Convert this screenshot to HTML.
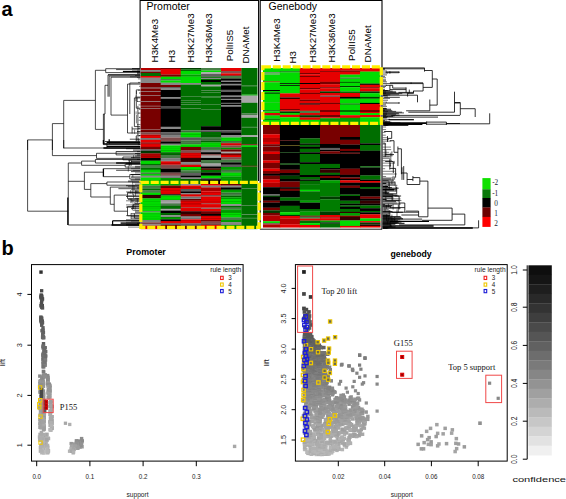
<!DOCTYPE html><html><head><meta charset="utf-8"><title>figure</title><style>html,body{margin:0;padding:0;background:#fff;}body{width:566px;height:499px;position:relative;overflow:hidden;font-family:'Liberation Sans',sans-serif;}</style></head><body><svg width="566" height="499" viewBox="0 0 566 499" style="position:absolute;left:0;top:0" font-family="'Liberation Sans', sans-serif" shape-rendering="auto">
<rect width="566" height="499" fill="#fff"/>
<rect x="140.6" y="68.0" width="20.4" height="2.15" fill="#b40000"/>
<rect x="140.6" y="70.0" width="20.4" height="1.85" fill="#888888"/>
<rect x="140.6" y="71.7" width="20.4" height="1.45" fill="#780000"/>
<rect x="140.6" y="73.0" width="20.4" height="3.15" fill="#006e00"/>
<rect x="140.6" y="76.0" width="20.4" height="1.85" fill="#e60000"/>
<rect x="140.6" y="77.7" width="20.4" height="5.45" fill="#888888"/>
<rect x="140.6" y="83.0" width="20.4" height="4.15" fill="#780000"/>
<rect x="140.6" y="87.0" width="20.4" height="1.75" fill="#855050"/>
<rect x="140.6" y="88.6" width="20.4" height="2.85" fill="#780000"/>
<rect x="140.6" y="91.3" width="20.4" height="0.65" fill="#888888"/>
<rect x="140.6" y="91.8" width="20.4" height="3.55" fill="#780000"/>
<rect x="140.6" y="95.2" width="20.4" height="0.65" fill="#888888"/>
<rect x="140.6" y="95.7" width="20.4" height="5.85" fill="#780000"/>
<rect x="140.6" y="101.4" width="20.4" height="0.65" fill="#888888"/>
<rect x="140.6" y="101.9" width="20.4" height="4.05" fill="#780000"/>
<rect x="140.6" y="105.8" width="20.4" height="0.65" fill="#888888"/>
<rect x="140.6" y="106.3" width="20.4" height="2.05" fill="#780000"/>
<rect x="140.6" y="108.2" width="20.4" height="0.65" fill="#888888"/>
<rect x="140.6" y="108.7" width="20.4" height="20.45" fill="#780000"/>
<rect x="140.6" y="129.0" width="20.4" height="0.65" fill="#888888"/>
<rect x="140.6" y="129.5" width="20.4" height="3.05" fill="#780000"/>
<rect x="140.6" y="132.4" width="20.4" height="2.45" fill="#855050"/>
<rect x="140.6" y="134.7" width="20.4" height="3.45" fill="#e60000"/>
<rect x="140.6" y="138.0" width="20.4" height="1.95" fill="#888888"/>
<rect x="140.6" y="139.8" width="20.4" height="2.95" fill="#e60000"/>
<rect x="140.6" y="142.6" width="20.4" height="1.25" fill="#780000"/>
<rect x="140.6" y="143.7" width="20.4" height="3.45" fill="#e60000"/>
<rect x="140.6" y="147.0" width="20.4" height="2.55" fill="#780000"/>
<rect x="140.6" y="149.4" width="20.4" height="1.75" fill="#606060"/>
<rect x="140.6" y="151.0" width="20.4" height="2.55" fill="#003c00"/>
<rect x="140.6" y="153.4" width="20.4" height="4.75" fill="#b40000"/>
<rect x="140.6" y="158.0" width="20.4" height="2.85" fill="#000000"/>
<rect x="140.6" y="160.7" width="20.4" height="3.45" fill="#00dc00"/>
<rect x="140.6" y="164.0" width="20.4" height="1.15" fill="#006e00"/>
<rect x="140.6" y="165.0" width="20.4" height="2.65" fill="#488048"/>
<rect x="140.6" y="167.5" width="20.4" height="2.45" fill="#006e00"/>
<rect x="140.6" y="169.8" width="20.4" height="2.95" fill="#00dc00"/>
<rect x="140.6" y="172.6" width="20.4" height="1.55" fill="#488048"/>
<rect x="140.6" y="174.0" width="20.4" height="1.85" fill="#00dc00"/>
<rect x="140.6" y="175.7" width="20.4" height="1.95" fill="#888888"/>
<rect x="140.6" y="177.5" width="20.4" height="8.25" fill="#00dc00"/>
<rect x="140.6" y="185.6" width="20.4" height="3.05" fill="#488048"/>
<rect x="140.6" y="188.5" width="20.4" height="1.95" fill="#006e00"/>
<rect x="140.6" y="190.3" width="20.4" height="2.45" fill="#488048"/>
<rect x="140.6" y="192.6" width="20.4" height="2.55" fill="#00dc00"/>
<rect x="140.6" y="195.0" width="20.4" height="3.55" fill="#340000"/>
<rect x="140.6" y="198.4" width="20.4" height="12.95" fill="#00dc00"/>
<rect x="140.6" y="211.2" width="20.4" height="1.25" fill="#488048"/>
<rect x="140.6" y="212.3" width="20.4" height="7.85" fill="#00dc00"/>
<rect x="140.6" y="220.0" width="20.4" height="2.35" fill="#888888"/>
<rect x="140.6" y="222.2" width="20.4" height="2.45" fill="#855050"/>
<rect x="140.6" y="224.5" width="20.4" height="1.35" fill="#888888"/>
<rect x="140.6" y="225.7" width="20.4" height="3.45" fill="#e60000"/>
<rect x="160.7" y="68.0" width="20.3" height="1.15" fill="#780000"/>
<rect x="160.7" y="69.0" width="20.3" height="5.65" fill="#e60000"/>
<rect x="160.7" y="74.5" width="20.3" height="2.35" fill="#780000"/>
<rect x="160.7" y="76.7" width="20.3" height="2.45" fill="#00dc00"/>
<rect x="160.7" y="79.0" width="20.3" height="1.65" fill="#488048"/>
<rect x="160.7" y="80.5" width="20.3" height="2.35" fill="#00dc00"/>
<rect x="160.7" y="82.7" width="20.3" height="2.45" fill="#888888"/>
<rect x="160.7" y="85.0" width="20.3" height="2.15" fill="#780000"/>
<rect x="160.7" y="87.0" width="20.3" height="1.75" fill="#606060"/>
<rect x="160.7" y="88.6" width="20.3" height="1.55" fill="#888888"/>
<rect x="160.7" y="90.0" width="20.3" height="7.15" fill="#000000"/>
<rect x="160.7" y="97.0" width="20.3" height="1.95" fill="#888888"/>
<rect x="160.7" y="98.8" width="20.3" height="7.35" fill="#000000"/>
<rect x="160.7" y="106.0" width="20.3" height="0.75" fill="#606060"/>
<rect x="160.7" y="106.6" width="20.3" height="1.15" fill="#000000"/>
<rect x="160.7" y="107.6" width="20.3" height="0.85" fill="#606060"/>
<rect x="160.7" y="108.3" width="20.3" height="18.65" fill="#000000"/>
<rect x="160.7" y="126.8" width="20.3" height="2.35" fill="#888888"/>
<rect x="160.7" y="129.0" width="20.3" height="3.55" fill="#000000"/>
<rect x="160.7" y="132.4" width="20.3" height="2.75" fill="#606060"/>
<rect x="160.7" y="135.0" width="20.3" height="2.65" fill="#888888"/>
<rect x="160.7" y="137.5" width="20.3" height="4.15" fill="#855050"/>
<rect x="160.7" y="141.5" width="20.3" height="2.35" fill="#000000"/>
<rect x="160.7" y="143.7" width="20.3" height="1.85" fill="#888888"/>
<rect x="160.7" y="145.4" width="20.3" height="6.95" fill="#00dc00"/>
<rect x="160.7" y="152.2" width="20.3" height="2.95" fill="#006e00"/>
<rect x="160.7" y="155.0" width="20.3" height="3.15" fill="#488048"/>
<rect x="160.7" y="158.0" width="20.3" height="3.45" fill="#888888"/>
<rect x="160.7" y="161.3" width="20.3" height="3.55" fill="#e60000"/>
<rect x="160.7" y="164.7" width="20.3" height="4.05" fill="#855050"/>
<rect x="160.7" y="168.6" width="20.3" height="4.15" fill="#000000"/>
<rect x="160.7" y="172.6" width="20.3" height="3.25" fill="#855050"/>
<rect x="160.7" y="175.7" width="20.3" height="2.45" fill="#888888"/>
<rect x="160.7" y="178.0" width="20.3" height="7.75" fill="#00a000"/>
<rect x="160.7" y="185.6" width="20.3" height="2.55" fill="#780000"/>
<rect x="160.7" y="188.0" width="20.3" height="6.45" fill="#e60000"/>
<rect x="160.7" y="194.3" width="20.3" height="1.35" fill="#000000"/>
<rect x="160.7" y="195.5" width="20.3" height="4.65" fill="#00dc00"/>
<rect x="160.7" y="200.0" width="20.3" height="3.75" fill="#a8a8a8"/>
<rect x="160.7" y="203.6" width="20.3" height="2.55" fill="#488048"/>
<rect x="160.7" y="206.0" width="20.3" height="2.95" fill="#006e00"/>
<rect x="160.7" y="208.8" width="20.3" height="1.95" fill="#a8a8a8"/>
<rect x="160.7" y="210.6" width="20.3" height="2.55" fill="#000000"/>
<rect x="160.7" y="213.0" width="20.3" height="2.35" fill="#006e00"/>
<rect x="160.7" y="215.2" width="20.3" height="1.95" fill="#888888"/>
<rect x="160.7" y="217.0" width="20.3" height="2.45" fill="#00a000"/>
<rect x="160.7" y="219.3" width="20.3" height="1.85" fill="#000000"/>
<rect x="160.7" y="221.0" width="20.3" height="2.55" fill="#e60000"/>
<rect x="160.7" y="223.4" width="20.3" height="1.75" fill="#606060"/>
<rect x="160.7" y="225.0" width="20.3" height="4.15" fill="#780000"/>
<rect x="180.7" y="68.0" width="20.6" height="1.55" fill="#003c00"/>
<rect x="180.7" y="69.4" width="20.6" height="1.75" fill="#006e00"/>
<rect x="180.7" y="71.0" width="20.6" height="3.65" fill="#00dc00"/>
<rect x="180.7" y="74.5" width="20.6" height="2.35" fill="#00a000"/>
<rect x="180.7" y="76.7" width="20.6" height="6.45" fill="#00dc00"/>
<rect x="180.7" y="83.0" width="20.6" height="1.85" fill="#888888"/>
<rect x="180.7" y="84.7" width="20.6" height="11.45" fill="#006e00"/>
<rect x="180.7" y="96.0" width="20.6" height="0.65" fill="#488048"/>
<rect x="180.7" y="96.5" width="20.6" height="3.65" fill="#006e00"/>
<rect x="180.7" y="100.0" width="20.6" height="0.65" fill="#488048"/>
<rect x="180.7" y="100.5" width="20.6" height="1.65" fill="#006e00"/>
<rect x="180.7" y="102.0" width="20.6" height="0.65" fill="#488048"/>
<rect x="180.7" y="102.5" width="20.6" height="1.95" fill="#006e00"/>
<rect x="180.7" y="104.3" width="20.6" height="0.65" fill="#488048"/>
<rect x="180.7" y="104.8" width="20.6" height="3.65" fill="#006e00"/>
<rect x="180.7" y="108.3" width="20.6" height="0.65" fill="#488048"/>
<rect x="180.7" y="108.8" width="20.6" height="21.55" fill="#006e00"/>
<rect x="180.7" y="130.2" width="20.6" height="2.35" fill="#488048"/>
<rect x="180.7" y="132.4" width="20.6" height="5.25" fill="#00dc00"/>
<rect x="180.7" y="137.5" width="20.6" height="3.05" fill="#606060"/>
<rect x="180.7" y="140.4" width="20.6" height="4.05" fill="#488048"/>
<rect x="180.7" y="144.3" width="20.6" height="2.85" fill="#00dc00"/>
<rect x="180.7" y="147.0" width="20.6" height="3.65" fill="#780000"/>
<rect x="180.7" y="150.5" width="20.6" height="2.45" fill="#855050"/>
<rect x="180.7" y="152.8" width="20.6" height="5.35" fill="#e60000"/>
<rect x="180.7" y="158.0" width="20.6" height="4.05" fill="#340000"/>
<rect x="180.7" y="161.9" width="20.6" height="2.95" fill="#888888"/>
<rect x="180.7" y="164.7" width="20.6" height="2.45" fill="#e60000"/>
<rect x="180.7" y="167.0" width="20.6" height="3.45" fill="#00dc00"/>
<rect x="180.7" y="170.3" width="20.6" height="2.85" fill="#488048"/>
<rect x="180.7" y="173.0" width="20.6" height="2.85" fill="#606060"/>
<rect x="180.7" y="175.7" width="20.6" height="1.95" fill="#000000"/>
<rect x="180.7" y="177.5" width="20.6" height="1.65" fill="#888888"/>
<rect x="180.7" y="179.0" width="20.6" height="5.15" fill="#006e00"/>
<rect x="180.7" y="184.0" width="20.6" height="1.75" fill="#888888"/>
<rect x="180.7" y="185.6" width="20.6" height="3.55" fill="#e60000"/>
<rect x="180.7" y="189.0" width="20.6" height="2.55" fill="#606060"/>
<rect x="180.7" y="191.4" width="20.6" height="1.75" fill="#000000"/>
<rect x="180.7" y="193.0" width="20.6" height="1.45" fill="#888888"/>
<rect x="180.7" y="194.3" width="20.6" height="2.45" fill="#e60000"/>
<rect x="180.7" y="196.6" width="20.6" height="2.55" fill="#888888"/>
<rect x="180.7" y="199.0" width="20.6" height="1.85" fill="#780000"/>
<rect x="180.7" y="200.7" width="20.6" height="6.45" fill="#e60000"/>
<rect x="180.7" y="207.0" width="20.6" height="0.75" fill="#855050"/>
<rect x="180.7" y="207.6" width="20.6" height="3.75" fill="#e60000"/>
<rect x="180.7" y="211.2" width="20.6" height="2.95" fill="#340000"/>
<rect x="180.7" y="214.0" width="20.6" height="2.55" fill="#780000"/>
<rect x="180.7" y="216.4" width="20.6" height="3.05" fill="#888888"/>
<rect x="180.7" y="219.3" width="20.6" height="4.25" fill="#e60000"/>
<rect x="180.7" y="223.4" width="20.6" height="2.45" fill="#606060"/>
<rect x="180.7" y="225.7" width="20.6" height="3.45" fill="#780000"/>
<rect x="201.0" y="68.0" width="20.3" height="2.65" fill="#488048"/>
<rect x="201.0" y="70.5" width="20.3" height="1.85" fill="#00dc00"/>
<rect x="201.0" y="72.2" width="20.3" height="1.95" fill="#a8a8a8"/>
<rect x="201.0" y="74.0" width="20.3" height="2.85" fill="#606060"/>
<rect x="201.0" y="76.7" width="20.3" height="1.25" fill="#006e00"/>
<rect x="201.0" y="77.8" width="20.3" height="1.35" fill="#888888"/>
<rect x="201.0" y="79.0" width="20.3" height="1.15" fill="#006e00"/>
<rect x="201.0" y="80.0" width="20.3" height="2.15" fill="#000000"/>
<rect x="201.0" y="82.0" width="20.3" height="2.85" fill="#006e00"/>
<rect x="201.0" y="84.7" width="20.3" height="1.85" fill="#a8a8a8"/>
<rect x="201.0" y="86.4" width="20.3" height="4.15" fill="#006e00"/>
<rect x="201.0" y="90.4" width="20.3" height="0.65" fill="#488048"/>
<rect x="201.0" y="90.9" width="20.3" height="1.35" fill="#006e00"/>
<rect x="201.0" y="92.1" width="20.3" height="0.65" fill="#488048"/>
<rect x="201.0" y="92.6" width="20.3" height="4.15" fill="#006e00"/>
<rect x="201.0" y="96.6" width="20.3" height="0.95" fill="#488048"/>
<rect x="201.0" y="97.4" width="20.3" height="6.75" fill="#006e00"/>
<rect x="201.0" y="104.0" width="20.3" height="0.65" fill="#488048"/>
<rect x="201.0" y="104.5" width="20.3" height="4.65" fill="#006e00"/>
<rect x="201.0" y="109.0" width="20.3" height="0.65" fill="#488048"/>
<rect x="201.0" y="109.5" width="20.3" height="16.85" fill="#006e00"/>
<rect x="201.0" y="126.2" width="20.3" height="4.15" fill="#000000"/>
<rect x="201.0" y="130.2" width="20.3" height="1.95" fill="#606060"/>
<rect x="201.0" y="132.0" width="20.3" height="5.65" fill="#006e00"/>
<rect x="201.0" y="137.5" width="20.3" height="3.65" fill="#488048"/>
<rect x="201.0" y="141.0" width="20.3" height="1.75" fill="#006e00"/>
<rect x="201.0" y="142.6" width="20.3" height="4.55" fill="#00dc00"/>
<rect x="201.0" y="147.0" width="20.3" height="3.15" fill="#488048"/>
<rect x="201.0" y="150.0" width="20.3" height="2.35" fill="#888888"/>
<rect x="201.0" y="152.2" width="20.3" height="1.95" fill="#000000"/>
<rect x="201.0" y="154.0" width="20.3" height="1.75" fill="#855050"/>
<rect x="201.0" y="155.6" width="20.3" height="2.55" fill="#a8a8a8"/>
<rect x="201.0" y="158.0" width="20.3" height="2.15" fill="#000000"/>
<rect x="201.0" y="160.0" width="20.3" height="3.65" fill="#488048"/>
<rect x="201.0" y="163.5" width="20.3" height="3.05" fill="#a8a8a8"/>
<rect x="201.0" y="166.4" width="20.3" height="2.35" fill="#000000"/>
<rect x="201.0" y="168.6" width="20.3" height="1.35" fill="#780000"/>
<rect x="201.0" y="169.8" width="20.3" height="2.95" fill="#006e00"/>
<rect x="201.0" y="172.6" width="20.3" height="3.25" fill="#000000"/>
<rect x="201.0" y="175.7" width="20.3" height="2.45" fill="#00dc00"/>
<rect x="201.0" y="178.0" width="20.3" height="1.35" fill="#488048"/>
<rect x="201.0" y="179.2" width="20.3" height="4.95" fill="#000000"/>
<rect x="201.0" y="184.0" width="20.3" height="1.75" fill="#e60000"/>
<rect x="201.0" y="185.6" width="20.3" height="1.95" fill="#888888"/>
<rect x="201.0" y="187.4" width="20.3" height="4.15" fill="#b40000"/>
<rect x="201.0" y="191.4" width="20.3" height="3.75" fill="#e60000"/>
<rect x="201.0" y="195.0" width="20.3" height="1.75" fill="#855050"/>
<rect x="201.0" y="196.6" width="20.3" height="7.05" fill="#e60000"/>
<rect x="201.0" y="203.5" width="20.3" height="0.75" fill="#855050"/>
<rect x="201.0" y="204.1" width="20.3" height="3.75" fill="#e60000"/>
<rect x="201.0" y="207.7" width="20.3" height="1.25" fill="#888888"/>
<rect x="201.0" y="208.8" width="20.3" height="2.55" fill="#e60000"/>
<rect x="201.0" y="211.2" width="20.3" height="2.95" fill="#780000"/>
<rect x="201.0" y="214.0" width="20.3" height="1.95" fill="#000000"/>
<rect x="201.0" y="215.8" width="20.3" height="4.35" fill="#e60000"/>
<rect x="201.0" y="220.0" width="20.3" height="1.75" fill="#780000"/>
<rect x="201.0" y="221.6" width="20.3" height="3.55" fill="#855050"/>
<rect x="201.0" y="225.0" width="20.3" height="4.15" fill="#e60000"/>
<rect x="221.0" y="68.0" width="20.7" height="3.15" fill="#e60000"/>
<rect x="221.0" y="71.0" width="20.7" height="2.55" fill="#855050"/>
<rect x="221.0" y="73.4" width="20.7" height="2.05" fill="#e60000"/>
<rect x="221.0" y="75.3" width="20.7" height="0.85" fill="#780000"/>
<rect x="221.0" y="76.0" width="20.7" height="2.65" fill="#488048"/>
<rect x="221.0" y="78.5" width="20.7" height="2.35" fill="#000000"/>
<rect x="221.0" y="80.7" width="20.7" height="1.45" fill="#888888"/>
<rect x="221.0" y="82.0" width="20.7" height="1.95" fill="#000000"/>
<rect x="221.0" y="83.8" width="20.7" height="1.65" fill="#888888"/>
<rect x="221.0" y="85.3" width="20.7" height="4.65" fill="#000000"/>
<rect x="221.0" y="89.8" width="20.7" height="2.35" fill="#606060"/>
<rect x="221.0" y="92.0" width="20.7" height="3.75" fill="#000000"/>
<rect x="221.0" y="95.6" width="20.7" height="1.65" fill="#888888"/>
<rect x="221.0" y="97.1" width="20.7" height="1.85" fill="#000000"/>
<rect x="221.0" y="98.8" width="20.7" height="1.35" fill="#888888"/>
<rect x="221.0" y="100.0" width="20.7" height="2.95" fill="#000000"/>
<rect x="221.0" y="102.8" width="20.7" height="1.35" fill="#606060"/>
<rect x="221.0" y="104.0" width="20.7" height="1.15" fill="#000000"/>
<rect x="221.0" y="105.0" width="20.7" height="1.85" fill="#888888"/>
<rect x="221.0" y="106.7" width="20.7" height="23.65" fill="#000000"/>
<rect x="221.0" y="130.2" width="20.7" height="2.35" fill="#606060"/>
<rect x="221.0" y="132.4" width="20.7" height="3.05" fill="#000000"/>
<rect x="221.0" y="135.3" width="20.7" height="2.35" fill="#888888"/>
<rect x="221.0" y="137.5" width="20.7" height="3.65" fill="#00dc00"/>
<rect x="221.0" y="141.0" width="20.7" height="2.35" fill="#488048"/>
<rect x="221.0" y="143.2" width="20.7" height="2.45" fill="#e60000"/>
<rect x="221.0" y="145.5" width="20.7" height="2.35" fill="#855050"/>
<rect x="221.0" y="147.7" width="20.7" height="1.85" fill="#00a000"/>
<rect x="221.0" y="149.4" width="20.7" height="2.45" fill="#780000"/>
<rect x="221.0" y="151.7" width="20.7" height="1.85" fill="#a8a8a8"/>
<rect x="221.0" y="153.4" width="20.7" height="1.75" fill="#780000"/>
<rect x="221.0" y="155.0" width="20.7" height="2.45" fill="#e60000"/>
<rect x="221.0" y="157.3" width="20.7" height="2.45" fill="#855050"/>
<rect x="221.0" y="159.6" width="20.7" height="2.95" fill="#488048"/>
<rect x="221.0" y="162.4" width="20.7" height="2.45" fill="#000000"/>
<rect x="221.0" y="164.7" width="20.7" height="2.45" fill="#606060"/>
<rect x="221.0" y="167.0" width="20.7" height="2.95" fill="#00a000"/>
<rect x="221.0" y="169.8" width="20.7" height="2.95" fill="#488048"/>
<rect x="221.0" y="172.6" width="20.7" height="3.85" fill="#00dc00"/>
<rect x="221.0" y="176.3" width="20.7" height="7.85" fill="#00a000"/>
<rect x="221.0" y="184.0" width="20.7" height="1.75" fill="#780000"/>
<rect x="221.0" y="185.6" width="20.7" height="1.95" fill="#888888"/>
<rect x="221.0" y="187.4" width="20.7" height="2.45" fill="#000000"/>
<rect x="221.0" y="189.7" width="20.7" height="3.05" fill="#00a000"/>
<rect x="221.0" y="192.6" width="20.7" height="3.05" fill="#488048"/>
<rect x="221.0" y="195.5" width="20.7" height="1.85" fill="#006e00"/>
<rect x="221.0" y="197.2" width="20.7" height="1.95" fill="#00a000"/>
<rect x="221.0" y="199.0" width="20.7" height="5.35" fill="#00dc00"/>
<rect x="221.0" y="204.2" width="20.7" height="1.95" fill="#888888"/>
<rect x="221.0" y="206.0" width="20.7" height="1.85" fill="#006e00"/>
<rect x="221.0" y="207.7" width="20.7" height="1.85" fill="#488048"/>
<rect x="221.0" y="209.4" width="20.7" height="3.75" fill="#00a000"/>
<rect x="221.0" y="213.0" width="20.7" height="4.65" fill="#00dc00"/>
<rect x="221.0" y="217.5" width="20.7" height="2.65" fill="#488048"/>
<rect x="221.0" y="220.0" width="20.7" height="2.35" fill="#00a000"/>
<rect x="221.0" y="222.2" width="20.7" height="2.95" fill="#888888"/>
<rect x="221.0" y="225.0" width="20.7" height="4.15" fill="#00a000"/>
<rect x="241.4" y="68.0" width="16.1" height="17.75" fill="#006e00"/>
<rect x="241.4" y="85.6" width="16.1" height="0.75" fill="#488048"/>
<rect x="241.4" y="86.2" width="16.1" height="8.25" fill="#006e00"/>
<rect x="241.4" y="94.3" width="16.1" height="1.45" fill="#00a000"/>
<rect x="241.4" y="95.6" width="16.1" height="7.35" fill="#a8a8a8"/>
<rect x="241.4" y="102.8" width="16.1" height="10.55" fill="#006e00"/>
<rect x="241.4" y="113.2" width="16.1" height="1.95" fill="#488048"/>
<rect x="241.4" y="115.0" width="16.1" height="2.95" fill="#a8a8a8"/>
<rect x="241.4" y="117.8" width="16.1" height="9.15" fill="#006e00"/>
<rect x="241.4" y="126.8" width="16.1" height="0.85" fill="#488048"/>
<rect x="241.4" y="127.5" width="16.1" height="7.95" fill="#006e00"/>
<rect x="241.4" y="135.3" width="16.1" height="1.85" fill="#a8a8a8"/>
<rect x="241.4" y="137.0" width="16.1" height="7.45" fill="#006e00"/>
<rect x="241.4" y="144.3" width="16.1" height="0.85" fill="#780000"/>
<rect x="241.4" y="145.0" width="16.1" height="0.65" fill="#006e00"/>
<rect x="241.4" y="145.5" width="16.1" height="1.65" fill="#00dc00"/>
<rect x="241.4" y="147.0" width="16.1" height="18.95" fill="#006e00"/>
<rect x="241.4" y="165.8" width="16.1" height="0.85" fill="#780000"/>
<rect x="241.4" y="166.5" width="16.1" height="21.95" fill="#006e00"/>
<rect x="241.4" y="188.3" width="16.1" height="0.65" fill="#488048"/>
<rect x="241.4" y="188.8" width="16.1" height="16.55" fill="#006e00"/>
<rect x="241.4" y="205.2" width="16.1" height="0.75" fill="#488048"/>
<rect x="241.4" y="205.8" width="16.1" height="8.75" fill="#006e00"/>
<rect x="241.4" y="214.4" width="16.1" height="0.75" fill="#488048"/>
<rect x="241.4" y="215.0" width="16.1" height="2.95" fill="#006e00"/>
<rect x="241.4" y="217.8" width="16.1" height="0.65" fill="#488048"/>
<rect x="241.4" y="218.3" width="16.1" height="10.85" fill="#006e00"/>
<rect x="263.0" y="68.0" width="17.2" height="4.15" fill="#00dc00"/>
<rect x="263.0" y="72.0" width="17.2" height="0.95" fill="#888888"/>
<rect x="263.0" y="72.8" width="17.2" height="0.95" fill="#00dc00"/>
<rect x="263.0" y="73.6" width="17.2" height="1.05" fill="#888888"/>
<rect x="263.0" y="74.5" width="17.2" height="6.85" fill="#00dc00"/>
<rect x="263.0" y="81.2" width="17.2" height="1.25" fill="#6a5a00"/>
<rect x="263.0" y="82.3" width="17.2" height="7.85" fill="#00dc00"/>
<rect x="263.0" y="90.0" width="17.2" height="1.15" fill="#000000"/>
<rect x="263.0" y="91.0" width="17.2" height="1.35" fill="#00dc00"/>
<rect x="263.0" y="92.2" width="17.2" height="1.95" fill="#006e00"/>
<rect x="263.0" y="94.0" width="17.2" height="8.15" fill="#00dc00"/>
<rect x="263.0" y="102.0" width="17.2" height="0.65" fill="#00a000"/>
<rect x="263.0" y="102.5" width="17.2" height="7.85" fill="#00dc00"/>
<rect x="263.0" y="110.2" width="17.2" height="1.35" fill="#006e00"/>
<rect x="263.0" y="111.4" width="17.2" height="1.75" fill="#00dc00"/>
<rect x="263.0" y="113.0" width="17.2" height="1.95" fill="#e60000"/>
<rect x="263.0" y="114.8" width="17.2" height="0.85" fill="#780000"/>
<rect x="263.0" y="115.5" width="17.2" height="3.25" fill="#00dc00"/>
<rect x="263.0" y="118.6" width="17.2" height="1.35" fill="#006e00"/>
<rect x="263.0" y="119.8" width="17.2" height="5.35" fill="#00dc00"/>
<rect x="263.0" y="125.0" width="17.2" height="9.45" fill="#780000"/>
<rect x="263.0" y="134.3" width="17.2" height="3.65" fill="#e60000"/>
<rect x="263.0" y="137.8" width="17.2" height="4.25" fill="#b40000"/>
<rect x="263.0" y="141.9" width="17.2" height="2.45" fill="#e60000"/>
<rect x="263.0" y="144.2" width="17.2" height="1.95" fill="#780000"/>
<rect x="263.0" y="146.0" width="17.2" height="0.95" fill="#855050"/>
<rect x="263.0" y="146.8" width="17.2" height="5.05" fill="#780000"/>
<rect x="263.0" y="151.7" width="17.2" height="2.45" fill="#e60000"/>
<rect x="263.0" y="154.0" width="17.2" height="6.65" fill="#780000"/>
<rect x="263.0" y="160.5" width="17.2" height="2.45" fill="#e60000"/>
<rect x="263.0" y="162.8" width="17.2" height="5.95" fill="#780000"/>
<rect x="263.0" y="168.6" width="17.2" height="2.55" fill="#e60000"/>
<rect x="263.0" y="171.0" width="17.2" height="2.95" fill="#780000"/>
<rect x="263.0" y="173.8" width="17.2" height="2.05" fill="#000000"/>
<rect x="263.0" y="175.7" width="17.2" height="3.95" fill="#780000"/>
<rect x="263.0" y="179.5" width="17.2" height="3.35" fill="#e60000"/>
<rect x="263.0" y="182.7" width="17.2" height="4.65" fill="#b40000"/>
<rect x="263.0" y="187.2" width="17.2" height="7.25" fill="#000000"/>
<rect x="263.0" y="194.3" width="17.2" height="1.45" fill="#606060"/>
<rect x="263.0" y="195.6" width="17.2" height="1.55" fill="#003c00"/>
<rect x="263.0" y="197.0" width="17.2" height="3.85" fill="#000000"/>
<rect x="263.0" y="200.7" width="17.2" height="2.05" fill="#780000"/>
<rect x="263.0" y="202.6" width="17.2" height="5.25" fill="#000000"/>
<rect x="263.0" y="207.7" width="17.2" height="2.75" fill="#780000"/>
<rect x="263.0" y="210.3" width="17.2" height="2.75" fill="#003c00"/>
<rect x="263.0" y="212.9" width="17.2" height="2.65" fill="#780000"/>
<rect x="263.0" y="215.4" width="17.2" height="5.95" fill="#b40000"/>
<rect x="263.0" y="221.2" width="17.2" height="2.05" fill="#00dc00"/>
<rect x="263.0" y="223.1" width="17.2" height="1.45" fill="#855050"/>
<rect x="263.0" y="224.4" width="17.2" height="3.15" fill="#b40000"/>
<rect x="279.9" y="68.0" width="20.2" height="3.45" fill="#00dc00"/>
<rect x="279.9" y="71.3" width="20.2" height="1.25" fill="#006e00"/>
<rect x="279.9" y="72.4" width="20.2" height="10.75" fill="#00dc00"/>
<rect x="279.9" y="83.0" width="20.2" height="0.95" fill="#000000"/>
<rect x="279.9" y="83.8" width="20.2" height="1.35" fill="#00dc00"/>
<rect x="279.9" y="85.0" width="20.2" height="0.95" fill="#000000"/>
<rect x="279.9" y="85.8" width="20.2" height="7.75" fill="#00dc00"/>
<rect x="279.9" y="93.4" width="20.2" height="4.15" fill="#e60000"/>
<rect x="279.9" y="97.4" width="20.2" height="1.75" fill="#340000"/>
<rect x="279.9" y="99.0" width="20.2" height="10.15" fill="#e60000"/>
<rect x="279.9" y="109.0" width="20.2" height="1.35" fill="#780000"/>
<rect x="279.9" y="110.2" width="20.2" height="1.35" fill="#e60000"/>
<rect x="279.9" y="111.4" width="20.2" height="1.75" fill="#003c00"/>
<rect x="279.9" y="113.0" width="20.2" height="1.95" fill="#00dc00"/>
<rect x="279.9" y="114.8" width="20.2" height="2.65" fill="#e60000"/>
<rect x="279.9" y="117.3" width="20.2" height="7.85" fill="#00dc00"/>
<rect x="279.9" y="125.0" width="20.2" height="15.15" fill="#000000"/>
<rect x="279.9" y="140.0" width="20.2" height="0.75" fill="#780000"/>
<rect x="279.9" y="140.6" width="20.2" height="4.75" fill="#000000"/>
<rect x="279.9" y="145.2" width="20.2" height="0.75" fill="#6a5a00"/>
<rect x="279.9" y="145.8" width="20.2" height="6.65" fill="#000000"/>
<rect x="279.9" y="152.3" width="20.2" height="0.75" fill="#003c00"/>
<rect x="279.9" y="152.9" width="20.2" height="10.85" fill="#000000"/>
<rect x="279.9" y="163.6" width="20.2" height="1.15" fill="#006e00"/>
<rect x="279.9" y="164.6" width="20.2" height="5.25" fill="#000000"/>
<rect x="279.9" y="169.7" width="20.2" height="3.45" fill="#780000"/>
<rect x="279.9" y="173.0" width="20.2" height="2.85" fill="#000000"/>
<rect x="279.9" y="175.7" width="20.2" height="3.45" fill="#003c00"/>
<rect x="279.9" y="179.0" width="20.2" height="2.65" fill="#000000"/>
<rect x="279.9" y="181.5" width="20.2" height="5.85" fill="#780000"/>
<rect x="279.9" y="187.2" width="20.2" height="1.75" fill="#000000"/>
<rect x="279.9" y="188.8" width="20.2" height="2.15" fill="#780000"/>
<rect x="279.9" y="190.8" width="20.2" height="6.85" fill="#000000"/>
<rect x="279.9" y="197.5" width="20.2" height="3.35" fill="#006e00"/>
<rect x="279.9" y="200.7" width="20.2" height="5.25" fill="#000000"/>
<rect x="279.9" y="205.8" width="20.2" height="6.55" fill="#006e00"/>
<rect x="279.9" y="212.2" width="20.2" height="2.75" fill="#00dc00"/>
<rect x="279.9" y="214.8" width="20.2" height="1.35" fill="#003c00"/>
<rect x="279.9" y="216.0" width="20.2" height="2.75" fill="#e60000"/>
<rect x="279.9" y="218.6" width="20.2" height="5.95" fill="#b40000"/>
<rect x="279.9" y="224.4" width="20.2" height="3.15" fill="#e60000"/>
<rect x="299.8" y="68.0" width="20.5" height="5.15" fill="#e60000"/>
<rect x="299.8" y="73.0" width="20.5" height="1.35" fill="#780000"/>
<rect x="299.8" y="74.2" width="20.5" height="1.95" fill="#e60000"/>
<rect x="299.8" y="76.0" width="20.5" height="1.15" fill="#780000"/>
<rect x="299.8" y="77.0" width="20.5" height="6.15" fill="#e60000"/>
<rect x="299.8" y="83.0" width="20.5" height="1.15" fill="#000000"/>
<rect x="299.8" y="84.0" width="20.5" height="4.15" fill="#e60000"/>
<rect x="299.8" y="88.0" width="20.5" height="1.45" fill="#780000"/>
<rect x="299.8" y="89.3" width="20.5" height="3.65" fill="#e60000"/>
<rect x="299.8" y="92.8" width="20.5" height="1.35" fill="#780000"/>
<rect x="299.8" y="94.0" width="20.5" height="5.85" fill="#e60000"/>
<rect x="299.8" y="99.7" width="20.5" height="1.45" fill="#780000"/>
<rect x="299.8" y="101.0" width="20.5" height="2.35" fill="#e60000"/>
<rect x="299.8" y="103.2" width="20.5" height="1.65" fill="#340000"/>
<rect x="299.8" y="104.7" width="20.5" height="6.25" fill="#e60000"/>
<rect x="299.8" y="110.8" width="20.5" height="2.35" fill="#488048"/>
<rect x="299.8" y="113.0" width="20.5" height="1.95" fill="#e60000"/>
<rect x="299.8" y="114.8" width="20.5" height="0.55" fill="#780000"/>
<rect x="299.8" y="115.2" width="20.5" height="2.45" fill="#003c00"/>
<rect x="299.8" y="117.5" width="20.5" height="2.45" fill="#e60000"/>
<rect x="299.8" y="119.8" width="20.5" height="5.35" fill="#00dc00"/>
<rect x="299.8" y="125.0" width="20.5" height="13.55" fill="#000000"/>
<rect x="299.8" y="138.4" width="20.5" height="5.35" fill="#006e00"/>
<rect x="299.8" y="143.6" width="20.5" height="1.35" fill="#000000"/>
<rect x="299.8" y="144.8" width="20.5" height="2.15" fill="#006e00"/>
<rect x="299.8" y="146.8" width="20.5" height="2.15" fill="#000000"/>
<rect x="299.8" y="148.8" width="20.5" height="3.65" fill="#006e00"/>
<rect x="299.8" y="152.3" width="20.5" height="1.85" fill="#000000"/>
<rect x="299.8" y="154.0" width="20.5" height="8.35" fill="#006e00"/>
<rect x="299.8" y="162.2" width="20.5" height="1.95" fill="#000000"/>
<rect x="299.8" y="164.0" width="20.5" height="11.15" fill="#006e00"/>
<rect x="299.8" y="175.0" width="20.5" height="2.15" fill="#000000"/>
<rect x="299.8" y="177.0" width="20.5" height="2.65" fill="#006e00"/>
<rect x="299.8" y="179.5" width="20.5" height="1.45" fill="#000000"/>
<rect x="299.8" y="180.8" width="20.5" height="4.05" fill="#006e00"/>
<rect x="299.8" y="184.7" width="20.5" height="5.25" fill="#007c00"/>
<rect x="299.8" y="189.8" width="20.5" height="1.65" fill="#00dc00"/>
<rect x="299.8" y="191.3" width="20.5" height="9.55" fill="#006e00"/>
<rect x="299.8" y="200.7" width="20.5" height="2.05" fill="#00a000"/>
<rect x="299.8" y="202.6" width="20.5" height="6.55" fill="#000000"/>
<rect x="299.8" y="209.0" width="20.5" height="2.75" fill="#006e00"/>
<rect x="299.8" y="211.6" width="20.5" height="4.25" fill="#00a000"/>
<rect x="299.8" y="215.7" width="20.5" height="1.15" fill="#780000"/>
<rect x="299.8" y="216.7" width="20.5" height="2.05" fill="#488048"/>
<rect x="299.8" y="218.6" width="20.5" height="2.15" fill="#e60000"/>
<rect x="299.8" y="220.6" width="20.5" height="2.65" fill="#006e00"/>
<rect x="299.8" y="223.1" width="20.5" height="2.05" fill="#00dc00"/>
<rect x="299.8" y="225.0" width="20.5" height="2.55" fill="#e60000"/>
<rect x="320.0" y="68.0" width="20.3" height="3.15" fill="#e60000"/>
<rect x="320.0" y="71.0" width="20.3" height="0.95" fill="#780000"/>
<rect x="320.0" y="71.8" width="20.3" height="10.15" fill="#e60000"/>
<rect x="320.0" y="81.8" width="20.3" height="2.55" fill="#780000"/>
<rect x="320.0" y="84.2" width="20.3" height="3.15" fill="#e60000"/>
<rect x="320.0" y="87.2" width="20.3" height="1.15" fill="#780000"/>
<rect x="320.0" y="88.2" width="20.3" height="3.35" fill="#e60000"/>
<rect x="320.0" y="91.4" width="20.3" height="1.75" fill="#003c00"/>
<rect x="320.0" y="93.0" width="20.3" height="2.75" fill="#e60000"/>
<rect x="320.0" y="95.6" width="20.3" height="1.55" fill="#855050"/>
<rect x="320.0" y="97.0" width="20.3" height="5.95" fill="#e60000"/>
<rect x="320.0" y="102.8" width="20.3" height="1.35" fill="#780000"/>
<rect x="320.0" y="104.0" width="20.3" height="6.15" fill="#e60000"/>
<rect x="320.0" y="110.0" width="20.3" height="2.15" fill="#780000"/>
<rect x="320.0" y="112.0" width="20.3" height="3.15" fill="#e60000"/>
<rect x="320.0" y="115.0" width="20.3" height="2.45" fill="#780000"/>
<rect x="320.0" y="117.3" width="20.3" height="1.05" fill="#e60000"/>
<rect x="320.0" y="118.2" width="20.3" height="6.95" fill="#00a000"/>
<rect x="320.0" y="125.0" width="20.3" height="19.15" fill="#780000"/>
<rect x="320.0" y="144.0" width="20.3" height="4.05" fill="#000000"/>
<rect x="320.0" y="147.9" width="20.3" height="2.25" fill="#606060"/>
<rect x="320.0" y="150.0" width="20.3" height="1.45" fill="#000000"/>
<rect x="320.0" y="151.3" width="20.3" height="2.55" fill="#780000"/>
<rect x="320.0" y="153.7" width="20.3" height="10.35" fill="#000000"/>
<rect x="320.0" y="163.9" width="20.3" height="4.25" fill="#006e00"/>
<rect x="320.0" y="168.0" width="20.3" height="1.55" fill="#000000"/>
<rect x="320.0" y="169.4" width="20.3" height="3.55" fill="#340000"/>
<rect x="320.0" y="172.8" width="20.3" height="2.15" fill="#006e00"/>
<rect x="320.0" y="174.8" width="20.3" height="1.35" fill="#000000"/>
<rect x="320.0" y="176.0" width="20.3" height="2.15" fill="#780000"/>
<rect x="320.0" y="178.0" width="20.3" height="2.45" fill="#000000"/>
<rect x="320.0" y="180.3" width="20.3" height="2.85" fill="#00a000"/>
<rect x="320.0" y="183.0" width="20.3" height="13.75" fill="#007c00"/>
<rect x="320.0" y="196.6" width="20.3" height="2.85" fill="#003c00"/>
<rect x="320.0" y="199.3" width="20.3" height="12.45" fill="#007c00"/>
<rect x="320.0" y="211.6" width="20.3" height="3.55" fill="#003c00"/>
<rect x="320.0" y="215.0" width="20.3" height="2.65" fill="#e60000"/>
<rect x="320.0" y="217.5" width="20.3" height="0.85" fill="#780000"/>
<rect x="320.0" y="218.2" width="20.3" height="2.45" fill="#e60000"/>
<rect x="320.0" y="220.5" width="20.3" height="2.15" fill="#00a000"/>
<rect x="320.0" y="222.5" width="20.3" height="1.25" fill="#000000"/>
<rect x="320.0" y="223.6" width="20.3" height="3.95" fill="#006e00"/>
<rect x="340.0" y="68.0" width="20.3" height="2.75" fill="#e60000"/>
<rect x="340.0" y="70.6" width="20.3" height="1.35" fill="#780000"/>
<rect x="340.0" y="71.8" width="20.3" height="2.95" fill="#e60000"/>
<rect x="340.0" y="74.6" width="20.3" height="3.15" fill="#00dc00"/>
<rect x="340.0" y="77.6" width="20.3" height="1.35" fill="#488048"/>
<rect x="340.0" y="78.8" width="20.3" height="3.15" fill="#00dc00"/>
<rect x="340.0" y="81.8" width="20.3" height="1.35" fill="#006e00"/>
<rect x="340.0" y="83.0" width="20.3" height="3.15" fill="#00dc00"/>
<rect x="340.0" y="86.0" width="20.3" height="1.35" fill="#003c00"/>
<rect x="340.0" y="87.2" width="20.3" height="4.35" fill="#00dc00"/>
<rect x="340.0" y="91.4" width="20.3" height="1.75" fill="#006e00"/>
<rect x="340.0" y="93.0" width="20.3" height="4.05" fill="#e60000"/>
<rect x="340.0" y="96.9" width="20.3" height="1.95" fill="#000000"/>
<rect x="340.0" y="98.7" width="20.3" height="4.95" fill="#00dc00"/>
<rect x="340.0" y="103.5" width="20.3" height="1.35" fill="#006e00"/>
<rect x="340.0" y="104.7" width="20.3" height="5.45" fill="#00dc00"/>
<rect x="340.0" y="110.0" width="20.3" height="2.15" fill="#006e00"/>
<rect x="340.0" y="112.0" width="20.3" height="3.35" fill="#00dc00"/>
<rect x="340.0" y="115.2" width="20.3" height="2.75" fill="#e60000"/>
<rect x="340.0" y="117.8" width="20.3" height="7.35" fill="#00a000"/>
<rect x="340.0" y="125.0" width="20.3" height="12.15" fill="#780000"/>
<rect x="340.0" y="137.0" width="20.3" height="2.95" fill="#000000"/>
<rect x="340.0" y="139.8" width="20.3" height="4.95" fill="#780000"/>
<rect x="340.0" y="144.6" width="20.3" height="4.45" fill="#000000"/>
<rect x="340.0" y="148.9" width="20.3" height="2.25" fill="#780000"/>
<rect x="340.0" y="151.0" width="20.3" height="1.85" fill="#000000"/>
<rect x="340.0" y="152.7" width="20.3" height="1.15" fill="#780000"/>
<rect x="340.0" y="153.7" width="20.3" height="15.15" fill="#000000"/>
<rect x="340.0" y="168.7" width="20.3" height="6.25" fill="#780000"/>
<rect x="340.0" y="174.8" width="20.3" height="2.85" fill="#000000"/>
<rect x="340.0" y="177.5" width="20.3" height="1.65" fill="#780000"/>
<rect x="340.0" y="179.0" width="20.3" height="1.45" fill="#000000"/>
<rect x="340.0" y="180.3" width="20.3" height="2.55" fill="#e60000"/>
<rect x="340.0" y="182.7" width="20.3" height="3.15" fill="#000000"/>
<rect x="340.0" y="185.7" width="20.3" height="2.25" fill="#780000"/>
<rect x="340.0" y="187.8" width="20.3" height="6.95" fill="#000000"/>
<rect x="340.0" y="194.6" width="20.3" height="1.55" fill="#006e00"/>
<rect x="340.0" y="196.0" width="20.3" height="4.85" fill="#000000"/>
<rect x="340.0" y="200.7" width="20.3" height="3.15" fill="#006e00"/>
<rect x="340.0" y="203.7" width="20.3" height="1.95" fill="#000000"/>
<rect x="340.0" y="205.5" width="20.3" height="1.45" fill="#006e00"/>
<rect x="340.0" y="206.8" width="20.3" height="2.25" fill="#000000"/>
<rect x="340.0" y="208.9" width="20.3" height="3.15" fill="#006e00"/>
<rect x="340.0" y="211.9" width="20.3" height="1.25" fill="#340000"/>
<rect x="340.0" y="213.0" width="20.3" height="2.85" fill="#00a000"/>
<rect x="340.0" y="215.7" width="20.3" height="1.45" fill="#780000"/>
<rect x="340.0" y="217.0" width="20.3" height="3.65" fill="#340000"/>
<rect x="340.0" y="220.5" width="20.3" height="5.55" fill="#00dc00"/>
<rect x="340.0" y="225.9" width="20.3" height="1.65" fill="#e60000"/>
<rect x="360.0" y="68.0" width="20.5" height="3.75" fill="#e60000"/>
<rect x="360.0" y="71.6" width="20.5" height="12.15" fill="#00dc00"/>
<rect x="360.0" y="83.6" width="20.5" height="1.35" fill="#000000"/>
<rect x="360.0" y="84.8" width="20.5" height="2.55" fill="#e60000"/>
<rect x="360.0" y="87.2" width="20.5" height="1.15" fill="#780000"/>
<rect x="360.0" y="88.2" width="20.5" height="3.35" fill="#e60000"/>
<rect x="360.0" y="91.4" width="20.5" height="1.95" fill="#003c00"/>
<rect x="360.0" y="93.2" width="20.5" height="3.85" fill="#00dc00"/>
<rect x="360.0" y="96.9" width="20.5" height="1.95" fill="#003c00"/>
<rect x="360.0" y="98.7" width="20.5" height="4.35" fill="#00dc00"/>
<rect x="360.0" y="102.9" width="20.5" height="1.25" fill="#000000"/>
<rect x="360.0" y="104.0" width="20.5" height="6.15" fill="#e60000"/>
<rect x="360.0" y="110.0" width="20.5" height="2.15" fill="#780000"/>
<rect x="360.0" y="112.0" width="20.5" height="1.15" fill="#e60000"/>
<rect x="360.0" y="113.0" width="20.5" height="2.15" fill="#00dc00"/>
<rect x="360.0" y="115.0" width="20.5" height="2.45" fill="#e60000"/>
<rect x="360.0" y="117.3" width="20.5" height="7.85" fill="#00dc00"/>
<rect x="360.0" y="125.0" width="20.5" height="18.55" fill="#006e00"/>
<rect x="360.0" y="143.4" width="20.5" height="1.75" fill="#000000"/>
<rect x="360.0" y="145.0" width="20.5" height="5.85" fill="#006e00"/>
<rect x="360.0" y="150.7" width="20.5" height="15.75" fill="#000000"/>
<rect x="360.0" y="166.3" width="20.5" height="1.35" fill="#006e00"/>
<rect x="360.0" y="167.5" width="20.5" height="8.15" fill="#000000"/>
<rect x="360.0" y="175.5" width="20.5" height="4.25" fill="#006e00"/>
<rect x="360.0" y="179.6" width="20.5" height="1.55" fill="#000000"/>
<rect x="360.0" y="181.0" width="20.5" height="1.85" fill="#e60000"/>
<rect x="360.0" y="182.7" width="20.5" height="4.45" fill="#000000"/>
<rect x="360.0" y="187.0" width="20.5" height="1.85" fill="#006e00"/>
<rect x="360.0" y="188.7" width="20.5" height="8.05" fill="#000000"/>
<rect x="360.0" y="196.6" width="20.5" height="2.25" fill="#780000"/>
<rect x="360.0" y="198.7" width="20.5" height="2.15" fill="#000000"/>
<rect x="360.0" y="200.7" width="20.5" height="3.15" fill="#340000"/>
<rect x="360.0" y="203.7" width="20.5" height="1.95" fill="#000000"/>
<rect x="360.0" y="205.5" width="20.5" height="2.85" fill="#006e00"/>
<rect x="360.0" y="208.2" width="20.5" height="2.85" fill="#000000"/>
<rect x="360.0" y="210.9" width="20.5" height="1.55" fill="#006e00"/>
<rect x="360.0" y="212.3" width="20.5" height="2.15" fill="#000000"/>
<rect x="360.0" y="214.3" width="20.5" height="4.25" fill="#e60000"/>
<rect x="360.0" y="218.4" width="20.5" height="2.85" fill="#00dc00"/>
<rect x="360.0" y="221.1" width="20.5" height="1.55" fill="#e60000"/>
<rect x="360.0" y="222.5" width="20.5" height="2.15" fill="#003c00"/>
<rect x="360.0" y="224.5" width="20.5" height="1.65" fill="#340000"/>
<rect x="360.0" y="226.0" width="20.5" height="1.55" fill="#e60000"/>
<rect x="140.6" y="131.0" width="20.4" height="0.5" fill="#000" fill-opacity="0.3"/>
<rect x="140.6" y="132.8" width="20.4" height="0.5" fill="#000" fill-opacity="0.2"/>
<rect x="140.6" y="135.5" width="20.4" height="0.5" fill="#000" fill-opacity="0.3"/>
<rect x="140.6" y="137.9" width="20.4" height="0.5" fill="#000" fill-opacity="0.3"/>
<rect x="140.6" y="139.4" width="20.4" height="0.5" fill="#000" fill-opacity="0.2"/>
<rect x="140.6" y="142.0" width="20.4" height="0.5" fill="#000" fill-opacity="0.1"/>
<rect x="140.6" y="144.5" width="20.4" height="0.5" fill="#000" fill-opacity="0.1"/>
<rect x="140.6" y="146.0" width="20.4" height="0.5" fill="#000" fill-opacity="0.2"/>
<rect x="140.6" y="148.8" width="20.4" height="0.5" fill="#000" fill-opacity="0.2"/>
<rect x="140.6" y="151.1" width="20.4" height="0.5" fill="#000" fill-opacity="0.3"/>
<rect x="140.6" y="152.9" width="20.4" height="0.5" fill="#000" fill-opacity="0.3"/>
<rect x="140.6" y="154.6" width="20.4" height="0.5" fill="#000" fill-opacity="0.2"/>
<rect x="140.6" y="156.3" width="20.4" height="0.5" fill="#000" fill-opacity="0.2"/>
<rect x="140.6" y="158.0" width="20.4" height="0.5" fill="#000" fill-opacity="0.1"/>
<rect x="140.6" y="159.6" width="20.4" height="0.5" fill="#000" fill-opacity="0.3"/>
<rect x="140.6" y="161.7" width="20.4" height="0.5" fill="#000" fill-opacity="0.1"/>
<rect x="140.6" y="163.1" width="20.4" height="0.5" fill="#000" fill-opacity="0.1"/>
<rect x="140.6" y="164.9" width="20.4" height="0.5" fill="#000" fill-opacity="0.1"/>
<rect x="140.6" y="167.8" width="20.4" height="0.5" fill="#000" fill-opacity="0.1"/>
<rect x="140.6" y="170.6" width="20.4" height="0.5" fill="#000" fill-opacity="0.2"/>
<rect x="140.6" y="172.5" width="20.4" height="0.5" fill="#000" fill-opacity="0.1"/>
<rect x="140.6" y="174.8" width="20.4" height="0.5" fill="#000" fill-opacity="0.3"/>
<rect x="140.6" y="177.2" width="20.4" height="0.5" fill="#000" fill-opacity="0.1"/>
<rect x="140.6" y="180.1" width="20.4" height="0.5" fill="#000" fill-opacity="0.3"/>
<rect x="140.6" y="184.7" width="20.4" height="0.5" fill="#000" fill-opacity="0.2"/>
<rect x="140.6" y="186.6" width="20.4" height="0.5" fill="#000" fill-opacity="0.2"/>
<rect x="140.6" y="188.7" width="20.4" height="0.5" fill="#000" fill-opacity="0.1"/>
<rect x="140.6" y="190.5" width="20.4" height="0.5" fill="#000" fill-opacity="0.2"/>
<rect x="140.6" y="192.4" width="20.4" height="0.5" fill="#000" fill-opacity="0.3"/>
<rect x="140.6" y="194.7" width="20.4" height="0.5" fill="#000" fill-opacity="0.3"/>
<rect x="140.6" y="197.2" width="20.4" height="0.5" fill="#000" fill-opacity="0.2"/>
<rect x="140.6" y="198.7" width="20.4" height="0.5" fill="#000" fill-opacity="0.2"/>
<rect x="140.6" y="201.4" width="20.4" height="0.5" fill="#000" fill-opacity="0.2"/>
<rect x="140.6" y="203.9" width="20.4" height="0.5" fill="#000" fill-opacity="0.1"/>
<rect x="140.6" y="206.1" width="20.4" height="0.5" fill="#000" fill-opacity="0.3"/>
<rect x="140.6" y="207.8" width="20.4" height="0.5" fill="#000" fill-opacity="0.2"/>
<rect x="140.6" y="210.7" width="20.4" height="0.5" fill="#000" fill-opacity="0.1"/>
<rect x="140.6" y="213.6" width="20.4" height="0.5" fill="#000" fill-opacity="0.2"/>
<rect x="140.6" y="216.4" width="20.4" height="0.5" fill="#000" fill-opacity="0.1"/>
<rect x="140.6" y="218.7" width="20.4" height="0.5" fill="#000" fill-opacity="0.2"/>
<rect x="140.6" y="220.7" width="20.4" height="0.5" fill="#000" fill-opacity="0.3"/>
<rect x="140.6" y="223.4" width="20.4" height="0.5" fill="#000" fill-opacity="0.2"/>
<rect x="140.6" y="224.9" width="20.4" height="0.5" fill="#000" fill-opacity="0.1"/>
<rect x="140.6" y="227.3" width="20.4" height="0.5" fill="#000" fill-opacity="0.1"/>
<rect x="160.7" y="131.0" width="20.3" height="0.5" fill="#000" fill-opacity="0.1"/>
<rect x="160.7" y="133.9" width="20.3" height="0.5" fill="#000" fill-opacity="0.2"/>
<rect x="160.7" y="135.8" width="20.3" height="0.5" fill="#000" fill-opacity="0.2"/>
<rect x="160.7" y="138.7" width="20.3" height="0.5" fill="#000" fill-opacity="0.2"/>
<rect x="160.7" y="141.3" width="20.3" height="0.5" fill="#000" fill-opacity="0.1"/>
<rect x="160.7" y="143.7" width="20.3" height="0.5" fill="#000" fill-opacity="0.2"/>
<rect x="160.7" y="146.4" width="20.3" height="0.5" fill="#000" fill-opacity="0.1"/>
<rect x="160.7" y="148.5" width="20.3" height="0.5" fill="#000" fill-opacity="0.1"/>
<rect x="160.7" y="150.3" width="20.3" height="0.5" fill="#000" fill-opacity="0.3"/>
<rect x="160.7" y="152.6" width="20.3" height="0.5" fill="#000" fill-opacity="0.1"/>
<rect x="160.7" y="154.6" width="20.3" height="0.5" fill="#000" fill-opacity="0.3"/>
<rect x="160.7" y="156.8" width="20.3" height="0.5" fill="#000" fill-opacity="0.2"/>
<rect x="160.7" y="159.3" width="20.3" height="0.5" fill="#000" fill-opacity="0.2"/>
<rect x="160.7" y="161.0" width="20.3" height="0.5" fill="#000" fill-opacity="0.1"/>
<rect x="160.7" y="163.4" width="20.3" height="0.5" fill="#000" fill-opacity="0.3"/>
<rect x="160.7" y="165.9" width="20.3" height="0.5" fill="#000" fill-opacity="0.2"/>
<rect x="160.7" y="167.6" width="20.3" height="0.5" fill="#000" fill-opacity="0.1"/>
<rect x="160.7" y="169.1" width="20.3" height="0.5" fill="#000" fill-opacity="0.3"/>
<rect x="160.7" y="171.4" width="20.3" height="0.5" fill="#000" fill-opacity="0.2"/>
<rect x="160.7" y="172.8" width="20.3" height="0.5" fill="#000" fill-opacity="0.3"/>
<rect x="160.7" y="175.2" width="20.3" height="0.5" fill="#000" fill-opacity="0.2"/>
<rect x="160.7" y="177.3" width="20.3" height="0.5" fill="#000" fill-opacity="0.2"/>
<rect x="160.7" y="178.9" width="20.3" height="0.5" fill="#000" fill-opacity="0.3"/>
<rect x="160.7" y="180.4" width="20.3" height="0.5" fill="#000" fill-opacity="0.2"/>
<rect x="160.7" y="187.0" width="20.3" height="0.5" fill="#000" fill-opacity="0.3"/>
<rect x="160.7" y="189.9" width="20.3" height="0.5" fill="#000" fill-opacity="0.3"/>
<rect x="160.7" y="192.8" width="20.3" height="0.5" fill="#000" fill-opacity="0.2"/>
<rect x="160.7" y="194.4" width="20.3" height="0.5" fill="#000" fill-opacity="0.2"/>
<rect x="160.7" y="196.3" width="20.3" height="0.5" fill="#000" fill-opacity="0.1"/>
<rect x="160.7" y="199.1" width="20.3" height="0.5" fill="#000" fill-opacity="0.2"/>
<rect x="160.7" y="200.7" width="20.3" height="0.5" fill="#000" fill-opacity="0.3"/>
<rect x="160.7" y="203.5" width="20.3" height="0.5" fill="#000" fill-opacity="0.3"/>
<rect x="160.7" y="205.6" width="20.3" height="0.5" fill="#000" fill-opacity="0.2"/>
<rect x="160.7" y="208.1" width="20.3" height="0.5" fill="#000" fill-opacity="0.2"/>
<rect x="160.7" y="210.3" width="20.3" height="0.5" fill="#000" fill-opacity="0.2"/>
<rect x="160.7" y="212.4" width="20.3" height="0.5" fill="#000" fill-opacity="0.1"/>
<rect x="160.7" y="214.0" width="20.3" height="0.5" fill="#000" fill-opacity="0.3"/>
<rect x="160.7" y="217.0" width="20.3" height="0.5" fill="#000" fill-opacity="0.3"/>
<rect x="160.7" y="219.9" width="20.3" height="0.5" fill="#000" fill-opacity="0.2"/>
<rect x="160.7" y="221.5" width="20.3" height="0.5" fill="#000" fill-opacity="0.2"/>
<rect x="160.7" y="223.4" width="20.3" height="0.5" fill="#000" fill-opacity="0.3"/>
<rect x="160.7" y="226.2" width="20.3" height="0.5" fill="#000" fill-opacity="0.2"/>
<rect x="160.7" y="227.7" width="20.3" height="0.5" fill="#000" fill-opacity="0.2"/>
<rect x="180.7" y="131.0" width="20.6" height="0.5" fill="#000" fill-opacity="0.3"/>
<rect x="180.7" y="132.5" width="20.6" height="0.5" fill="#000" fill-opacity="0.2"/>
<rect x="180.7" y="134.4" width="20.6" height="0.5" fill="#000" fill-opacity="0.3"/>
<rect x="180.7" y="136.9" width="20.6" height="0.5" fill="#000" fill-opacity="0.2"/>
<rect x="180.7" y="138.7" width="20.6" height="0.5" fill="#000" fill-opacity="0.3"/>
<rect x="180.7" y="141.3" width="20.6" height="0.5" fill="#000" fill-opacity="0.2"/>
<rect x="180.7" y="143.7" width="20.6" height="0.5" fill="#000" fill-opacity="0.3"/>
<rect x="180.7" y="146.5" width="20.6" height="0.5" fill="#000" fill-opacity="0.2"/>
<rect x="180.7" y="148.8" width="20.6" height="0.5" fill="#000" fill-opacity="0.2"/>
<rect x="180.7" y="150.7" width="20.6" height="0.5" fill="#000" fill-opacity="0.2"/>
<rect x="180.7" y="152.8" width="20.6" height="0.5" fill="#000" fill-opacity="0.3"/>
<rect x="180.7" y="155.3" width="20.6" height="0.5" fill="#000" fill-opacity="0.2"/>
<rect x="180.7" y="157.2" width="20.6" height="0.5" fill="#000" fill-opacity="0.3"/>
<rect x="180.7" y="159.2" width="20.6" height="0.5" fill="#000" fill-opacity="0.2"/>
<rect x="180.7" y="161.1" width="20.6" height="0.5" fill="#000" fill-opacity="0.1"/>
<rect x="180.7" y="163.9" width="20.6" height="0.5" fill="#000" fill-opacity="0.3"/>
<rect x="180.7" y="166.0" width="20.6" height="0.5" fill="#000" fill-opacity="0.2"/>
<rect x="180.7" y="169.0" width="20.6" height="0.5" fill="#000" fill-opacity="0.3"/>
<rect x="180.7" y="170.6" width="20.6" height="0.5" fill="#000" fill-opacity="0.1"/>
<rect x="180.7" y="172.3" width="20.6" height="0.5" fill="#000" fill-opacity="0.2"/>
<rect x="180.7" y="175.2" width="20.6" height="0.5" fill="#000" fill-opacity="0.2"/>
<rect x="180.7" y="177.1" width="20.6" height="0.5" fill="#000" fill-opacity="0.1"/>
<rect x="180.7" y="179.6" width="20.6" height="0.5" fill="#000" fill-opacity="0.3"/>
<rect x="180.7" y="187.0" width="20.6" height="0.5" fill="#000" fill-opacity="0.3"/>
<rect x="180.7" y="189.4" width="20.6" height="0.5" fill="#000" fill-opacity="0.2"/>
<rect x="180.7" y="191.3" width="20.6" height="0.5" fill="#000" fill-opacity="0.3"/>
<rect x="180.7" y="194.0" width="20.6" height="0.5" fill="#000" fill-opacity="0.3"/>
<rect x="180.7" y="195.8" width="20.6" height="0.5" fill="#000" fill-opacity="0.1"/>
<rect x="180.7" y="197.5" width="20.6" height="0.5" fill="#000" fill-opacity="0.3"/>
<rect x="180.7" y="199.6" width="20.6" height="0.5" fill="#000" fill-opacity="0.3"/>
<rect x="180.7" y="201.3" width="20.6" height="0.5" fill="#000" fill-opacity="0.3"/>
<rect x="180.7" y="203.0" width="20.6" height="0.5" fill="#000" fill-opacity="0.3"/>
<rect x="180.7" y="204.4" width="20.6" height="0.5" fill="#000" fill-opacity="0.2"/>
<rect x="180.7" y="207.4" width="20.6" height="0.5" fill="#000" fill-opacity="0.1"/>
<rect x="180.7" y="208.9" width="20.6" height="0.5" fill="#000" fill-opacity="0.1"/>
<rect x="180.7" y="210.5" width="20.6" height="0.5" fill="#000" fill-opacity="0.1"/>
<rect x="180.7" y="212.7" width="20.6" height="0.5" fill="#000" fill-opacity="0.3"/>
<rect x="180.7" y="214.1" width="20.6" height="0.5" fill="#000" fill-opacity="0.2"/>
<rect x="180.7" y="216.1" width="20.6" height="0.5" fill="#000" fill-opacity="0.3"/>
<rect x="180.7" y="218.4" width="20.6" height="0.5" fill="#000" fill-opacity="0.3"/>
<rect x="180.7" y="220.2" width="20.6" height="0.5" fill="#000" fill-opacity="0.3"/>
<rect x="180.7" y="223.0" width="20.6" height="0.5" fill="#000" fill-opacity="0.1"/>
<rect x="180.7" y="225.0" width="20.6" height="0.5" fill="#000" fill-opacity="0.2"/>
<rect x="180.7" y="227.8" width="20.6" height="0.5" fill="#000" fill-opacity="0.1"/>
<rect x="201.0" y="131.0" width="20.3" height="0.5" fill="#000" fill-opacity="0.3"/>
<rect x="201.0" y="133.0" width="20.3" height="0.5" fill="#000" fill-opacity="0.1"/>
<rect x="201.0" y="135.3" width="20.3" height="0.5" fill="#000" fill-opacity="0.2"/>
<rect x="201.0" y="136.8" width="20.3" height="0.5" fill="#000" fill-opacity="0.3"/>
<rect x="201.0" y="139.1" width="20.3" height="0.5" fill="#000" fill-opacity="0.3"/>
<rect x="201.0" y="140.9" width="20.3" height="0.5" fill="#000" fill-opacity="0.2"/>
<rect x="201.0" y="143.6" width="20.3" height="0.5" fill="#000" fill-opacity="0.2"/>
<rect x="201.0" y="145.7" width="20.3" height="0.5" fill="#000" fill-opacity="0.3"/>
<rect x="201.0" y="148.1" width="20.3" height="0.5" fill="#000" fill-opacity="0.2"/>
<rect x="201.0" y="150.3" width="20.3" height="0.5" fill="#000" fill-opacity="0.1"/>
<rect x="201.0" y="152.6" width="20.3" height="0.5" fill="#000" fill-opacity="0.3"/>
<rect x="201.0" y="154.8" width="20.3" height="0.5" fill="#000" fill-opacity="0.1"/>
<rect x="201.0" y="157.7" width="20.3" height="0.5" fill="#000" fill-opacity="0.3"/>
<rect x="201.0" y="159.3" width="20.3" height="0.5" fill="#000" fill-opacity="0.3"/>
<rect x="201.0" y="160.7" width="20.3" height="0.5" fill="#000" fill-opacity="0.1"/>
<rect x="201.0" y="162.6" width="20.3" height="0.5" fill="#000" fill-opacity="0.3"/>
<rect x="201.0" y="164.9" width="20.3" height="0.5" fill="#000" fill-opacity="0.2"/>
<rect x="201.0" y="167.3" width="20.3" height="0.5" fill="#000" fill-opacity="0.3"/>
<rect x="201.0" y="169.3" width="20.3" height="0.5" fill="#000" fill-opacity="0.2"/>
<rect x="201.0" y="172.2" width="20.3" height="0.5" fill="#000" fill-opacity="0.2"/>
<rect x="201.0" y="174.1" width="20.3" height="0.5" fill="#000" fill-opacity="0.3"/>
<rect x="201.0" y="176.1" width="20.3" height="0.5" fill="#000" fill-opacity="0.1"/>
<rect x="201.0" y="178.5" width="20.3" height="0.5" fill="#000" fill-opacity="0.2"/>
<rect x="201.0" y="184.7" width="20.3" height="0.5" fill="#000" fill-opacity="0.1"/>
<rect x="201.0" y="186.6" width="20.3" height="0.5" fill="#000" fill-opacity="0.2"/>
<rect x="201.0" y="188.8" width="20.3" height="0.5" fill="#000" fill-opacity="0.2"/>
<rect x="201.0" y="190.5" width="20.3" height="0.5" fill="#000" fill-opacity="0.1"/>
<rect x="201.0" y="192.0" width="20.3" height="0.5" fill="#000" fill-opacity="0.3"/>
<rect x="201.0" y="195.0" width="20.3" height="0.5" fill="#000" fill-opacity="0.1"/>
<rect x="201.0" y="196.9" width="20.3" height="0.5" fill="#000" fill-opacity="0.1"/>
<rect x="201.0" y="199.6" width="20.3" height="0.5" fill="#000" fill-opacity="0.1"/>
<rect x="201.0" y="201.7" width="20.3" height="0.5" fill="#000" fill-opacity="0.3"/>
<rect x="201.0" y="203.6" width="20.3" height="0.5" fill="#000" fill-opacity="0.2"/>
<rect x="201.0" y="206.2" width="20.3" height="0.5" fill="#000" fill-opacity="0.1"/>
<rect x="201.0" y="208.4" width="20.3" height="0.5" fill="#000" fill-opacity="0.1"/>
<rect x="201.0" y="211.0" width="20.3" height="0.5" fill="#000" fill-opacity="0.2"/>
<rect x="201.0" y="212.8" width="20.3" height="0.5" fill="#000" fill-opacity="0.3"/>
<rect x="201.0" y="215.8" width="20.3" height="0.5" fill="#000" fill-opacity="0.3"/>
<rect x="201.0" y="218.3" width="20.3" height="0.5" fill="#000" fill-opacity="0.3"/>
<rect x="201.0" y="221.1" width="20.3" height="0.5" fill="#000" fill-opacity="0.1"/>
<rect x="201.0" y="222.5" width="20.3" height="0.5" fill="#000" fill-opacity="0.1"/>
<rect x="201.0" y="224.4" width="20.3" height="0.5" fill="#000" fill-opacity="0.3"/>
<rect x="201.0" y="226.9" width="20.3" height="0.5" fill="#000" fill-opacity="0.3"/>
<rect x="221.0" y="131.0" width="20.7" height="0.5" fill="#000" fill-opacity="0.3"/>
<rect x="221.0" y="132.4" width="20.7" height="0.5" fill="#000" fill-opacity="0.2"/>
<rect x="221.0" y="134.4" width="20.7" height="0.5" fill="#000" fill-opacity="0.3"/>
<rect x="221.0" y="137.1" width="20.7" height="0.5" fill="#000" fill-opacity="0.1"/>
<rect x="221.0" y="138.6" width="20.7" height="0.5" fill="#000" fill-opacity="0.2"/>
<rect x="221.0" y="140.9" width="20.7" height="0.5" fill="#000" fill-opacity="0.3"/>
<rect x="221.0" y="143.7" width="20.7" height="0.5" fill="#000" fill-opacity="0.3"/>
<rect x="221.0" y="146.0" width="20.7" height="0.5" fill="#000" fill-opacity="0.1"/>
<rect x="221.0" y="148.1" width="20.7" height="0.5" fill="#000" fill-opacity="0.2"/>
<rect x="221.0" y="150.4" width="20.7" height="0.5" fill="#000" fill-opacity="0.3"/>
<rect x="221.0" y="153.0" width="20.7" height="0.5" fill="#000" fill-opacity="0.3"/>
<rect x="221.0" y="155.4" width="20.7" height="0.5" fill="#000" fill-opacity="0.2"/>
<rect x="221.0" y="157.6" width="20.7" height="0.5" fill="#000" fill-opacity="0.3"/>
<rect x="221.0" y="160.3" width="20.7" height="0.5" fill="#000" fill-opacity="0.1"/>
<rect x="221.0" y="163.2" width="20.7" height="0.5" fill="#000" fill-opacity="0.2"/>
<rect x="221.0" y="165.9" width="20.7" height="0.5" fill="#000" fill-opacity="0.1"/>
<rect x="221.0" y="167.8" width="20.7" height="0.5" fill="#000" fill-opacity="0.1"/>
<rect x="221.0" y="170.3" width="20.7" height="0.5" fill="#000" fill-opacity="0.2"/>
<rect x="221.0" y="172.6" width="20.7" height="0.5" fill="#000" fill-opacity="0.3"/>
<rect x="221.0" y="175.3" width="20.7" height="0.5" fill="#000" fill-opacity="0.2"/>
<rect x="221.0" y="176.9" width="20.7" height="0.5" fill="#000" fill-opacity="0.2"/>
<rect x="221.0" y="179.4" width="20.7" height="0.5" fill="#000" fill-opacity="0.2"/>
<rect x="221.0" y="184.6" width="20.7" height="0.5" fill="#000" fill-opacity="0.2"/>
<rect x="221.0" y="187.0" width="20.7" height="0.5" fill="#000" fill-opacity="0.1"/>
<rect x="221.0" y="188.5" width="20.7" height="0.5" fill="#000" fill-opacity="0.1"/>
<rect x="221.0" y="190.3" width="20.7" height="0.5" fill="#000" fill-opacity="0.1"/>
<rect x="221.0" y="193.0" width="20.7" height="0.5" fill="#000" fill-opacity="0.3"/>
<rect x="221.0" y="195.9" width="20.7" height="0.5" fill="#000" fill-opacity="0.2"/>
<rect x="221.0" y="198.4" width="20.7" height="0.5" fill="#000" fill-opacity="0.1"/>
<rect x="221.0" y="201.4" width="20.7" height="0.5" fill="#000" fill-opacity="0.3"/>
<rect x="221.0" y="203.6" width="20.7" height="0.5" fill="#000" fill-opacity="0.1"/>
<rect x="221.0" y="206.4" width="20.7" height="0.5" fill="#000" fill-opacity="0.1"/>
<rect x="221.0" y="208.8" width="20.7" height="0.5" fill="#000" fill-opacity="0.1"/>
<rect x="221.0" y="211.3" width="20.7" height="0.5" fill="#000" fill-opacity="0.1"/>
<rect x="221.0" y="214.3" width="20.7" height="0.5" fill="#000" fill-opacity="0.3"/>
<rect x="221.0" y="217.2" width="20.7" height="0.5" fill="#000" fill-opacity="0.1"/>
<rect x="221.0" y="218.8" width="20.7" height="0.5" fill="#000" fill-opacity="0.1"/>
<rect x="221.0" y="220.9" width="20.7" height="0.5" fill="#000" fill-opacity="0.1"/>
<rect x="221.0" y="222.4" width="20.7" height="0.5" fill="#000" fill-opacity="0.1"/>
<rect x="221.0" y="223.9" width="20.7" height="0.5" fill="#000" fill-opacity="0.1"/>
<rect x="221.0" y="226.3" width="20.7" height="0.5" fill="#000" fill-opacity="0.3"/>
<rect x="221.0" y="227.9" width="20.7" height="0.5" fill="#000" fill-opacity="0.1"/>
<g stroke="#000" fill="none" stroke-linecap="butt"><path d="M27.6 139.9L27.6 150.0" stroke-width="0.7"/><path d="M27.6 139.9L52.4 139.9" stroke-width="0.7"/><path d="M52.4 123.6L52.4 150.0" stroke-width="0.7"/><path d="M52.4 123.6L63.7 123.6" stroke-width="0.7"/><path d="M63.7 100.4L63.7 148.4" stroke-width="0.7"/><path d="M63.7 100.4L95.4 100.4" stroke-width="0.7"/><path d="M95.4 70.3L95.4 129.4" stroke-width="0.7"/><path d="M95.4 70.3L105.7 70.3" stroke-width="0.7"/><path d="M105.7 68.7L105.7 72.6" stroke-width="0.7"/><path d="M105.7 68.7L140.2 68.7" stroke-width="0.7"/><path d="M105.7 72.6L140.2 72.6" stroke-width="0.7"/><path d="M116.1 69.6L140.2 69.6" stroke-width="0.7"/><path d="M122.9 71.5L140.2 71.5" stroke-width="1.2"/><path d="M95.4 129.4L103.4 129.4" stroke-width="0.7"/><path d="M103.4 114.0L103.4 143.8" stroke-width="0.7"/><path d="M104.3 114.0L104.3 143.8" stroke-width="0.7"/><path d="M105.0 85.3L105.0 114.0" stroke-width="0.7"/><path d="M103.4 114.0L105.0 114.0" stroke-width="0.7"/><path d="M105.0 85.3L108.0 85.3" stroke-width="0.7"/><path d="M108.0 74.9L108.0 96.7" stroke-width="0.7"/><path d="M109.2 76.1L109.2 96.7" stroke-width="0.7"/><path d="M108.0 74.9L140.2 74.9" stroke-width="1.3"/><path d="M109.2 76.1L140.2 76.1" stroke-width="0.7"/><path d="M111.0 77.2L111.0 115.1" stroke-width="0.7"/><path d="M111.0 77.2L140.2 77.2" stroke-width="0.7"/><path d="M111.0 115.1L127.5 115.1" stroke-width="0.7"/><path d="M127.5 84.1L127.5 133.0" stroke-width="0.7"/><path d="M127.5 84.1L140.2 84.1" stroke-width="0.7"/><path d="M129.8 83.0L129.8 114.0" stroke-width="0.7"/><path d="M129.8 83.0L140.2 83.0" stroke-width="0.7"/><path d="M134.4 97.9L134.4 126.6" stroke-width="0.7"/><path d="M136.3 89.9L136.3 108.2" stroke-width="0.7"/><path d="M137.9 105.9L137.9 135.8" stroke-width="0.7"/><path d="M134.4 97.9L140.2 97.9" stroke-width="0.7"/><path d="M134.4 126.6L140.2 126.6" stroke-width="0.7"/><path d="M136.3 89.9L140.2 89.9" stroke-width="0.7"/><path d="M136.3 108.2L140.2 108.2" stroke-width="0.7"/><path d="M127.5 133.0L140.2 133.0" stroke-width="0.7"/><path d="M137.9 135.8L140.2 135.8" stroke-width="0.7"/><path d="M103.4 143.8L140.2 143.8" stroke-width="1.2"/><path d="M105.0 141.5L140.2 141.5" stroke-width="0.7"/><path d="M109.2 142.7L140.2 142.7" stroke-width="1.2"/><path d="M109.2 139.2L109.2 143.8" stroke-width="1.2"/><path d="M129.8 139.2L140.2 139.2" stroke-width="0.7"/><path d="M132.1 126.6L132.1 133.5" stroke-width="0.7"/><path d="M132.1 128.9L140.2 128.9" stroke-width="0.7"/><path d="M27.6 140.0L27.6 211.2" stroke-width="0.7"/><path d="M27.6 211.2L68.3 211.2" stroke-width="0.7"/><path d="M68.3 163.0L68.3 225.0" stroke-width="0.7"/><path d="M67.8 197.4L67.8 225.0" stroke-width="1.2"/><path d="M68.3 225.0L140.2 225.0" stroke-width="0.7"/><path d="M111.5 225.0L140.2 225.0" stroke-width="1.6"/><path d="M112.6 220.8L112.6 225.0" stroke-width="1.2"/><path d="M112.6 220.8L140.2 220.8" stroke-width="1.2"/><path d="M120.6 223.1L140.2 223.1" stroke-width="1.4"/><path d="M52.4 140.0L52.4 155.6" stroke-width="0.7"/><path d="M52.4 155.6L96.5 155.6" stroke-width="0.7"/><path d="M96.5 153.3L96.5 158.4" stroke-width="0.7"/><path d="M96.5 153.3L140.2 153.3" stroke-width="0.7"/><path d="M96.5 158.4L140.2 158.4" stroke-width="0.7"/><path d="M116.1 151.5L116.1 154.9" stroke-width="0.7"/><path d="M116.1 151.5L140.2 151.5" stroke-width="0.7"/><path d="M116.1 154.9L140.2 154.9" stroke-width="0.7"/><path d="M122.9 157.0L122.9 159.8" stroke-width="0.7"/><path d="M122.9 157.0L140.2 157.0" stroke-width="0.7"/><path d="M122.9 159.8L140.2 159.8" stroke-width="0.7"/><path d="M63.7 140.0L63.7 148.0" stroke-width="0.7"/><path d="M63.7 148.0L140.2 148.0" stroke-width="0.7"/><path d="M103.4 148.0L140.2 148.0" stroke-width="1.5"/><path d="M106.9 146.4L140.2 146.4" stroke-width="1.3"/><path d="M103.4 144.6L140.2 144.6" stroke-width="0.7"/><path d="M103.4 140.0L103.4 144.6" stroke-width="1.2"/><path d="M106.9 142.3L106.9 148.0" stroke-width="0.7"/><path d="M106.9 142.3L140.2 142.3" stroke-width="1.2"/><path d="M68.3 163.0L81.6 163.0" stroke-width="0.7"/><path d="M81.6 161.1L81.6 165.3" stroke-width="0.7"/><path d="M81.6 161.1L95.4 161.1" stroke-width="0.7"/><path d="M95.4 159.5L95.4 163.0" stroke-width="0.7"/><path d="M95.4 159.5L140.2 159.5" stroke-width="0.7"/><path d="M95.4 163.0L140.2 163.0" stroke-width="0.7"/><path d="M116.1 163.0L140.2 163.0" stroke-width="1.4"/><path d="M81.6 165.3L125.2 165.3" stroke-width="0.7"/><path d="M125.2 164.1L125.2 167.1" stroke-width="0.7"/><path d="M125.2 164.1L140.2 164.1" stroke-width="0.7"/><path d="M125.2 167.1L140.2 167.1" stroke-width="0.7"/><path d="M68.3 181.3L84.4 181.3" stroke-width="0.7"/><path d="M84.4 172.2L84.4 189.4" stroke-width="0.7"/><path d="M84.4 172.2L103.4 172.2" stroke-width="0.7"/><path d="M103.4 168.7L103.4 176.7" stroke-width="1.3"/><path d="M103.4 168.7L140.2 168.7" stroke-width="0.7"/><path d="M116.1 170.3L140.2 170.3" stroke-width="0.7"/><path d="M103.4 176.7L129.8 176.7" stroke-width="0.7"/><path d="M129.8 174.5L129.8 179.0" stroke-width="0.7"/><path d="M129.8 174.5L140.2 174.5" stroke-width="0.7"/><path d="M129.8 179.0L140.2 179.0" stroke-width="0.7"/><path d="M84.4 189.4L90.8 189.4" stroke-width="0.7"/><path d="M90.8 183.6L90.8 197.0" stroke-width="0.7"/><path d="M90.8 183.6L106.9 183.6" stroke-width="0.7"/><path d="M106.9 182.0L106.9 185.2" stroke-width="0.7"/><path d="M106.9 182.0L140.2 182.0" stroke-width="0.7"/><path d="M106.9 185.2L140.2 185.2" stroke-width="0.7"/><path d="M90.8 197.0L110.3 197.0" stroke-width="0.7"/><path d="M110.3 187.1L110.3 204.3" stroke-width="0.7"/><path d="M110.3 187.1L140.2 187.1" stroke-width="0.7"/><path d="M118.4 188.7L140.2 188.7" stroke-width="0.7"/><path d="M110.3 204.3L114.2 204.3" stroke-width="0.7"/><path d="M114.2 195.1L114.2 211.2" stroke-width="0.7"/><path d="M114.2 195.1L127.5 195.1" stroke-width="0.7"/><path d="M127.5 192.4L127.5 198.6" stroke-width="0.7"/><path d="M127.5 192.4L140.2 192.4" stroke-width="0.7"/><path d="M127.5 198.6L140.2 198.6" stroke-width="0.7"/><path d="M114.2 211.2L127.5 211.2" stroke-width="0.7"/><path d="M127.5 206.6L127.5 215.8" stroke-width="0.7"/><path d="M127.5 206.6L140.2 206.6" stroke-width="0.7"/><path d="M127.5 215.8L140.2 215.8" stroke-width="0.7"/><path d="M133.3 204.3L133.3 208.9" stroke-width="0.7"/><path d="M133.3 204.3L140.2 204.3" stroke-width="0.7"/><path d="M134.4 213.5L134.4 218.1" stroke-width="0.7"/><path d="M134.4 218.1L140.2 218.1" stroke-width="0.7"/><path d="M131.0 198.6L131.0 203.2" stroke-width="0.7"/><path d="M131.0 200.9L140.2 200.9" stroke-width="0.7"/><path d="M489.7 113.3L489.7 123.8" stroke-width="0.8"/><path d="M446.1 123.8L489.7 123.8" stroke-width="0.8"/><path d="M475.2 108.7L475.2 117.0" stroke-width="0.8"/><path d="M460.3 108.7L475.2 108.7" stroke-width="0.8"/><path d="M460.3 102.5L460.3 115.1" stroke-width="0.8"/><path d="M454.8 102.5L460.3 102.5" stroke-width="0.8"/><path d="M382.8 67.9L424.5 67.9" stroke-width="0.8"/><path d="M382.8 68.8L424.5 68.8" stroke-width="0.8"/><path d="M424.5 67.9L424.5 71.6" stroke-width="0.8"/><path d="M424.5 70.5L432.3 70.5" stroke-width="0.8"/><path d="M432.3 70.5L432.3 87.4" stroke-width="0.8"/><path d="M385.7 71.9L399.1 71.9" stroke-width="0.8"/><path d="M385.7 72.7L399.1 72.7" stroke-width="0.8"/><path d="M399.1 71.6L399.1 73.0" stroke-width="0.8"/><path d="M389.9 71.3L389.9 73.6" stroke-width="0.8"/><path d="M432.3 79.0L437.2 79.0" stroke-width="0.8"/><path d="M437.2 79.0L437.2 105.1" stroke-width="0.8"/><path d="M423.1 87.4L432.3 87.4" stroke-width="0.8"/><path d="M423.1 83.2L423.1 91.0" stroke-width="0.8"/><path d="M389.9 82.8L423.1 82.8" stroke-width="0.8"/><path d="M389.9 83.6L423.1 83.6" stroke-width="0.8"/><path d="M411.1 82.5L411.1 84.0" stroke-width="0.8"/><path d="M413.2 91.0L423.1 91.0" stroke-width="0.8"/><path d="M413.5 91.0L413.5 93.4" stroke-width="0.8"/><path d="M385.7 85.3L392.7 85.3" stroke-width="0.8"/><path d="M392.7 85.3L392.7 88.1" stroke-width="0.8"/><path d="M392.7 88.1L406.1 88.1" stroke-width="0.8"/><path d="M406.1 87.4L406.1 92.4" stroke-width="0.8"/><path d="M389.9 89.6L406.1 89.6" stroke-width="0.8"/><path d="M409.3 89.6L409.3 93.1" stroke-width="0.8"/><path d="M398.4 92.4L413.5 92.4" stroke-width="0.8"/><path d="M406.9 93.4L413.5 93.4" stroke-width="0.8"/><path d="M389.9 85.3L389.9 90.3" stroke-width="0.8"/><path d="M384.2 95.2L417.5 95.2" stroke-width="0.8"/><path d="M417.5 95.2L417.5 102.3" stroke-width="0.8"/><path d="M407.6 93.8L407.6 96.6" stroke-width="0.8"/><path d="M384.2 97.3L399.8 97.3" stroke-width="0.8"/><path d="M385.7 103.0L399.1 103.0" stroke-width="0.8"/><path d="M399.1 102.1L399.1 103.8" stroke-width="0.8"/><path d="M429.8 99.5L429.8 110.8" stroke-width="0.8"/><path d="M429.8 105.1L437.2 105.1" stroke-width="0.8"/><path d="M406.1 110.8L429.8 110.8" stroke-width="0.8"/><path d="M454.5 91.7L454.5 112.2" stroke-width="0.8"/><path d="M408.3 112.2L454.5 112.2" stroke-width="0.8"/><path d="M454.5 103.0L460.0 103.0" stroke-width="0.8"/><path d="M391.3 115.4L460.0 115.4" stroke-width="0.8"/><path d="M388.5 117.1L438.0 117.1" stroke-width="0.8"/><path d="M388.5 119.7L413.9 119.7" stroke-width="1.2"/><path d="M426.6 122.1L446.4 122.1" stroke-width="0.8"/><path d="M426.6 124.2L446.4 124.2" stroke-width="0.8"/><path d="M446.4 122.1L446.4 124.9" stroke-width="0.8"/><path d="M426.6 121.4L426.6 125.0" stroke-width="0.8"/><path d="M446.4 123.5L460.0 123.5" stroke-width="0.8"/><path d="M384.2 123.1L426.6 123.1" stroke-width="1.6"/><path d="M384.2 124.2L422.4 124.2" stroke-width="1.6"/><path d="M384.2 125.2L408.3 125.2" stroke-width="1.2"/><path d="M382.9 227.9L478.6 227.9" stroke-width="0.8"/><path d="M382.9 227.9L472.8 227.9" stroke-width="1.5"/><path d="M478.6 220.3L478.6 227.9" stroke-width="0.8"/><path d="M399.1 224.9L464.8 224.9" stroke-width="0.8"/><path d="M389.8 226.0L433.6 226.0" stroke-width="1.3"/><path d="M464.8 214.1L464.8 224.9" stroke-width="0.8"/><path d="M452.1 214.1L464.8 214.1" stroke-width="0.8"/><path d="M452.1 208.1L452.1 220.3" stroke-width="0.8"/><path d="M427.9 208.1L452.1 208.1" stroke-width="0.8"/><path d="M422.1 220.3L452.1 220.3" stroke-width="0.8"/><path d="M389.8 221.4L429.0 221.4" stroke-width="1.3"/><path d="M394.4 219.1L422.1 219.1" stroke-width="0.8"/><path d="M427.9 181.1L427.9 216.8" stroke-width="0.8"/><path d="M419.8 181.1L427.9 181.1" stroke-width="0.8"/><path d="M418.6 216.8L427.9 216.8" stroke-width="0.8"/><path d="M418.6 211.1L418.6 216.8" stroke-width="0.8"/><path d="M406.0 211.1L418.6 211.1" stroke-width="0.8"/><path d="M401.4 215.0L418.6 215.0" stroke-width="0.8"/><path d="M419.8 177.6L419.8 184.5" stroke-width="0.8"/><path d="M412.9 177.6L419.8 177.6" stroke-width="0.8"/><path d="M412.9 176.0L412.9 181.1" stroke-width="0.8"/><path d="M407.1 179.5L412.9 179.5" stroke-width="0.8"/><path d="M407.1 184.5L419.8 184.5" stroke-width="0.8"/><path d="M407.1 173.0L407.1 184.5" stroke-width="0.8"/><path d="M401.4 173.0L407.1 173.0" stroke-width="0.8"/><path d="M401.4 148.8L401.4 174.2" stroke-width="0.8"/><path d="M402.0 167.3L402.0 179.9" stroke-width="0.8"/><path d="M397.9 146.5L397.9 166.1" stroke-width="0.8"/><path d="M397.9 148.8L401.4 148.8" stroke-width="0.8"/><path d="M403.7 166.1L403.7 179.9" stroke-width="0.8"/><path d="M391.7 131.5L391.7 138.4" stroke-width="0.8"/><path d="M384.1 131.5L391.7 131.5" stroke-width="0.8"/><path d="M387.5 138.4L391.7 138.4" stroke-width="0.8"/><path d="M387.5 136.1L387.5 141.9" stroke-width="0.8"/><path d="M394.0 140.7L394.0 152.3" stroke-width="0.8"/><path d="M389.8 140.7L394.0 140.7" stroke-width="0.8"/><path d="M394.0 152.3L397.9 152.3" stroke-width="0.8"/><path d="M399.1 196.1L399.1 207.6" stroke-width="0.8"/><path d="M404.8 203.0L404.8 212.2" stroke-width="0.8"/><path d="M399.1 203.0L404.8 203.0" stroke-width="0.8"/><path d="M394.4 196.1L399.1 196.1" stroke-width="0.8"/><path d="M389.8 159.2L389.8 169.6" stroke-width="0.8"/><path d="M393.3 161.5L393.3 173.0" stroke-width="0.8"/><path d="M395.6 168.4L395.6 177.6" stroke-width="0.8"/><path d="M389.8 168.4L395.6 168.4" stroke-width="0.8"/><path d="M385.2 161.5L393.3 161.5" stroke-width="0.8"/><path d="M385.2 154.6L394.0 154.6" stroke-width="0.8"/><path d="M385.2 143.1L385.2 156.9" stroke-width="0.8"/><path d="M382.9 143.1L385.2 143.1" stroke-width="0.8"/><path d="M382.9 156.9L389.8 156.9" stroke-width="0.8"/><path d="M382.9 189.2L396.7 189.2" stroke-width="0.8"/><path d="M396.7 186.9L396.7 193.8" stroke-width="0.8"/><path d="M385.2 193.8L396.7 193.8" stroke-width="0.8"/><path d="M392.1 196.1L392.1 200.7" stroke-width="0.8"/><path d="M385.2 200.7L399.1 200.7" stroke-width="0.8"/><path d="M389.8 207.6L404.8 207.6" stroke-width="0.8"/><path d="M392.1 212.2L418.6 212.2" stroke-width="0.8"/><path d="M132.0 68.5L140.5 68.5" stroke-width="0.7"/><path d="M137.0 70.1L140.5 70.1" stroke-width="0.5"/><path d="M132.0 70.9L140.5 70.9" stroke-width="0.5"/><path d="M137.0 72.2L140.5 72.2" stroke-width="0.7"/><path d="M137.0 73.1L140.5 73.1" stroke-width="0.7"/><path d="M137.0 74.0L140.5 74.0" stroke-width="0.5"/><path d="M135.0 75.5L140.5 75.5" stroke-width="0.5"/><path d="M130.0 76.8L140.5 76.8" stroke-width="0.5"/><path d="M137.0 77.6L140.5 77.6" stroke-width="0.5"/><path d="M138.0 78.9L140.5 78.9" stroke-width="0.5"/><path d="M138.0 82.4L140.5 82.4" stroke-width="0.5"/><path d="M139.0 86.3L140.5 86.3" stroke-width="0.5"/><path d="M138.0 90.3L140.5 90.3" stroke-width="0.5"/><path d="M139.0 93.0L140.5 93.0" stroke-width="0.7"/><path d="M137.0 97.1L140.5 97.1" stroke-width="0.7"/><path d="M137.0 101.5L140.5 101.5" stroke-width="0.5"/><path d="M138.5 104.9L140.5 104.9" stroke-width="0.5"/><path d="M139.0 109.2L140.5 109.2" stroke-width="0.7"/><path d="M138.0 113.1L140.5 113.1" stroke-width="0.7"/><path d="M139.0 117.4L140.5 117.4" stroke-width="0.7"/><path d="M138.5 120.2L140.5 120.2" stroke-width="0.5"/><path d="M137.0 124.6L140.5 124.6" stroke-width="0.5"/><path d="M138.0 128.2L140.5 128.2" stroke-width="0.7"/><path d="M137.0 131.5L140.5 131.5" stroke-width="0.7"/><path d="M139.0 135.5L140.5 135.5" stroke-width="0.7"/><path d="M137.0 140.1L140.5 140.1" stroke-width="0.5"/><path d="M139.0 144.3L140.5 144.3" stroke-width="0.7"/><path d="M126.0 148.7L140.5 148.7" stroke-width="0.7"/><path d="M133.0 150.1L140.5 150.1" stroke-width="0.7"/><path d="M137.0 151.7L140.5 151.7" stroke-width="0.7"/><path d="M135.0 153.5L140.5 153.5" stroke-width="0.7"/><path d="M137.0 155.0L140.5 155.0" stroke-width="0.7"/><path d="M135.0 156.0L140.5 156.0" stroke-width="0.7"/><path d="M131.0 157.6L140.5 157.6" stroke-width="0.7"/><path d="M137.0 159.4L140.5 159.4" stroke-width="0.7"/><path d="M128.0 160.4L140.5 160.4" stroke-width="0.5"/><path d="M131.0 161.5L140.5 161.5" stroke-width="0.7"/><path d="M126.0 163.3L140.5 163.3" stroke-width="0.7"/><path d="M126.0 164.5L140.5 164.5" stroke-width="0.5"/><path d="M135.0 166.3L140.5 166.3" stroke-width="0.5"/><path d="M135.0 167.2L140.5 167.2" stroke-width="0.5"/><path d="M131.0 168.7L140.5 168.7" stroke-width="0.5"/><path d="M133.0 170.4L140.5 170.4" stroke-width="0.5"/><path d="M131.0 171.6L140.5 171.6" stroke-width="0.7"/><path d="M135.0 172.9L140.5 172.9" stroke-width="0.5"/><path d="M131.0 174.5L140.5 174.5" stroke-width="0.7"/><path d="M131.0 176.3L140.5 176.3" stroke-width="0.5"/><path d="M131.0 177.5L140.5 177.5" stroke-width="0.5"/><path d="M135.0 179.0L140.5 179.0" stroke-width="0.5"/><path d="M131.0 179.9L140.5 179.9" stroke-width="0.7"/><path d="M128.0 180.9L140.5 180.9" stroke-width="0.5"/><path d="M128.0 181.7L140.5 181.7" stroke-width="0.5"/><path d="M133.0 182.7L140.5 182.7" stroke-width="0.5"/><path d="M135.0 184.2L140.5 184.2" stroke-width="0.5"/><path d="M126.0 185.7L140.5 185.7" stroke-width="0.7"/><path d="M128.0 186.7L140.5 186.7" stroke-width="0.5"/><path d="M137.0 187.9L140.5 187.9" stroke-width="0.7"/><path d="M131.0 189.7L140.5 189.7" stroke-width="0.5"/><path d="M135.0 191.0L140.5 191.0" stroke-width="0.7"/><path d="M126.0 191.9L140.5 191.9" stroke-width="0.5"/><path d="M128.0 193.0L140.5 193.0" stroke-width="0.7"/><path d="M135.0 193.8L140.5 193.8" stroke-width="0.5"/><path d="M128.0 195.4L140.5 195.4" stroke-width="0.5"/><path d="M126.0 196.5L140.5 196.5" stroke-width="0.7"/><path d="M135.0 198.2L140.5 198.2" stroke-width="0.5"/><path d="M128.0 199.4L140.5 199.4" stroke-width="0.7"/><path d="M126.0 200.8L140.5 200.8" stroke-width="0.5"/><path d="M135.0 201.9L140.5 201.9" stroke-width="0.5"/><path d="M135.0 203.6L140.5 203.6" stroke-width="0.7"/><path d="M126.0 204.9L140.5 204.9" stroke-width="0.5"/><path d="M133.0 205.8L140.5 205.8" stroke-width="0.5"/><path d="M126.0 207.1L140.5 207.1" stroke-width="0.7"/><path d="M131.0 208.6L140.5 208.6" stroke-width="0.7"/><path d="M133.0 210.3L140.5 210.3" stroke-width="0.5"/><path d="M135.0 211.1L140.5 211.1" stroke-width="0.7"/><path d="M135.0 212.5L140.5 212.5" stroke-width="0.5"/><path d="M131.0 213.8L140.5 213.8" stroke-width="0.7"/><path d="M126.0 215.6L140.5 215.6" stroke-width="0.5"/><path d="M131.0 216.5L140.5 216.5" stroke-width="0.5"/><path d="M131.0 218.1L140.5 218.1" stroke-width="0.7"/><path d="M126.0 219.9L140.5 219.9" stroke-width="0.7"/><path d="M131.0 221.1L140.5 221.1" stroke-width="0.5"/><path d="M126.0 222.3L140.5 222.3" stroke-width="0.5"/><path d="M137.0 223.3L140.5 223.3" stroke-width="0.7"/><path d="M126.0 224.3L140.5 224.3" stroke-width="0.7"/><path d="M126.0 225.2L140.5 225.2" stroke-width="0.5"/><path d="M128.0 227.1L140.5 227.1" stroke-width="0.5"/><path d="M138.4 138.3L138.4 145.2" stroke-width="0.5"/><path d="M136.1 136.0L136.1 141.6" stroke-width="0.5"/><path d="M134.6 129.6L134.6 133.8" stroke-width="0.5"/><path d="M137.4 97.6L137.4 102.0" stroke-width="0.5"/><path d="M135.9 95.6L135.9 101.1" stroke-width="0.5"/><path d="M137.9 134.6L137.9 139.7" stroke-width="0.5"/><path d="M136.4 115.0L136.4 123.4" stroke-width="0.5"/><path d="M136.6 135.1L136.6 141.1" stroke-width="0.5"/><path d="M136.1 111.4L136.1 114.5" stroke-width="0.5"/><path d="M136.5 91.0L136.5 94.0" stroke-width="0.5"/><path d="M130.0 162.4L130.0 166.3" stroke-width="0.5"/><path d="M130.7 190.1L130.7 193.4" stroke-width="0.5"/><path d="M132.8 190.0L132.8 195.1" stroke-width="0.5"/><path d="M136.9 190.3L136.9 193.3" stroke-width="0.5"/><path d="M135.2 205.6L135.2 209.6" stroke-width="0.5"/><path d="M132.4 204.7L132.4 210.4" stroke-width="0.5"/><path d="M133.6 194.1L133.6 198.1" stroke-width="0.5"/><path d="M132.9 199.9L132.9 203.7" stroke-width="0.5"/><path d="M132.7 184.4L132.7 190.2" stroke-width="0.5"/><path d="M131.0 213.1L131.0 218.9" stroke-width="0.5"/><path d="M135.4 190.3L135.4 196.1" stroke-width="0.5"/><path d="M129.6 159.9L129.6 162.4" stroke-width="0.5"/><path d="M133.6 155.2L133.6 158.2" stroke-width="0.5"/><path d="M137.3 198.2L137.3 203.3" stroke-width="0.5"/><path d="M129.0 161.1L129.0 166.0" stroke-width="0.5"/><path d="M131.4 160.3L131.4 165.8" stroke-width="0.5"/><path d="M128.3 165.8L128.3 171.6" stroke-width="0.5"/><path d="M134.0 185.1L134.0 191.0" stroke-width="0.5"/><path d="M129.7 161.6L129.7 165.4" stroke-width="0.5"/><path d="M132.8 174.4L132.8 177.2" stroke-width="0.5"/><path d="M134.8 202.0L134.8 204.1" stroke-width="0.5"/><path d="M132.5 181.7L132.5 183.8" stroke-width="0.5"/><path d="M383.0 90.5L387.8 90.5" stroke-width="0.7"/><path d="M383.0 91.1L392.7 91.1" stroke-width="0.7"/><path d="M383.0 91.8L396.1 91.8" stroke-width="0.7"/><path d="M383.0 92.4L396.2 92.4" stroke-width="0.7"/><path d="M383.0 93.0L408.8 93.0" stroke-width="0.7"/><path d="M383.0 93.6L402.3 93.6" stroke-width="0.7"/><path d="M383.0 94.2L399.1 94.2" stroke-width="0.7"/><path d="M383.0 94.9L390.3 94.9" stroke-width="0.7"/><path d="M383.0 95.5L387.6 95.5" stroke-width="0.7"/><path d="M383.0 108.5L386.7 108.5" stroke-width="0.7"/><path d="M383.0 109.2L391.0 109.2" stroke-width="0.7"/><path d="M383.0 110.0L391.2 110.0" stroke-width="0.7"/><path d="M383.0 110.7L392.3 110.7" stroke-width="0.7"/><path d="M383.0 111.4L396.1 111.4" stroke-width="0.7"/><path d="M383.0 112.2L402.1 112.2" stroke-width="0.7"/><path d="M383.0 112.9L404.0 112.9" stroke-width="0.7"/><path d="M383.0 113.6L398.9 113.6" stroke-width="0.7"/><path d="M383.0 114.3L396.1 114.3" stroke-width="0.7"/><path d="M383.0 115.1L399.5 115.1" stroke-width="0.7"/><path d="M383.0 115.8L394.9 115.8" stroke-width="0.7"/><path d="M383.0 116.5L393.2 116.5" stroke-width="0.7"/><path d="M383.0 117.3L388.6 117.3" stroke-width="0.7"/><path d="M383.0 118.0L386.7 118.0" stroke-width="0.7"/><path d="M383.0 121.0L387.4 121.0" stroke-width="0.7"/><path d="M383.0 121.6L390.2 121.6" stroke-width="0.7"/><path d="M383.0 122.3L391.5 122.3" stroke-width="0.7"/><path d="M383.0 122.9L400.4 122.9" stroke-width="0.7"/><path d="M383.0 123.6L398.2 123.6" stroke-width="0.7"/><path d="M383.0 124.2L395.5 124.2" stroke-width="0.7"/><path d="M383.0 124.9L388.9 124.9" stroke-width="0.7"/><path d="M383.0 125.5L387.7 125.5" stroke-width="0.7"/><path d="M383.0 68.5L385.0 68.5" stroke-width="0.6"/><path d="M383.0 69.6L385.0 69.6" stroke-width="0.6"/><path d="M383.0 71.0L387.0 71.0" stroke-width="0.6"/><path d="M383.0 73.0L388.0 73.0" stroke-width="0.6"/><path d="M383.0 74.9L387.0 74.9" stroke-width="0.6"/><path d="M383.0 76.4L385.0 76.4" stroke-width="0.6"/><path d="M383.0 77.8L386.0 77.8" stroke-width="0.6"/><path d="M383.0 79.8L386.0 79.8" stroke-width="0.6"/><path d="M383.0 80.9L386.0 80.9" stroke-width="0.6"/><path d="M383.0 81.9L387.0 81.9" stroke-width="0.6"/><path d="M383.0 83.5L390.0 83.5" stroke-width="0.6"/><path d="M383.0 85.2L387.0 85.2" stroke-width="0.6"/><path d="M383.0 86.5L386.0 86.5" stroke-width="0.6"/><path d="M383.0 87.7L385.0 87.7" stroke-width="0.6"/><path d="M383.0 89.6L385.0 89.6" stroke-width="0.6"/><path d="M383.0 90.5L390.0 90.5" stroke-width="0.6"/><path d="M383.0 91.9L386.0 91.9" stroke-width="0.6"/><path d="M383.0 93.3L386.0 93.3" stroke-width="0.6"/><path d="M383.0 95.3L385.0 95.3" stroke-width="0.6"/><path d="M383.0 96.9L388.0 96.9" stroke-width="0.6"/><path d="M383.0 98.4L390.0 98.4" stroke-width="0.6"/><path d="M383.0 100.2L388.0 100.2" stroke-width="0.6"/><path d="M383.0 102.2L387.0 102.2" stroke-width="0.6"/><path d="M383.0 103.8L386.0 103.8" stroke-width="0.6"/><path d="M383.0 105.0L386.0 105.0" stroke-width="0.6"/><path d="M383.0 106.3L387.0 106.3" stroke-width="0.6"/><path d="M383.0 108.3L386.0 108.3" stroke-width="0.6"/><path d="M383.0 109.1L387.0 109.1" stroke-width="0.6"/><path d="M383.0 110.4L385.0 110.4" stroke-width="0.6"/><path d="M383.0 111.3L388.0 111.3" stroke-width="0.6"/><path d="M383.0 113.2L387.0 113.2" stroke-width="0.6"/><path d="M383.0 114.7L387.0 114.7" stroke-width="0.6"/><path d="M383.0 115.6L386.0 115.6" stroke-width="0.6"/><path d="M383.0 116.6L388.0 116.6" stroke-width="0.6"/><path d="M383.0 117.4L387.0 117.4" stroke-width="0.6"/><path d="M383.0 119.3L390.0 119.3" stroke-width="0.6"/><path d="M383.0 120.5L385.0 120.5" stroke-width="0.6"/><path d="M383.0 122.5L387.0 122.5" stroke-width="0.6"/><path d="M383.0 123.5L386.0 123.5" stroke-width="0.6"/><path d="M383.0 124.3L388.0 124.3" stroke-width="0.6"/><path d="M382.6 127.0L386.1 127.0" stroke-width="0.5"/><path d="M382.6 129.6L386.1 129.6" stroke-width="0.5"/><path d="M382.6 132.4L385.5 132.4" stroke-width="0.5"/><path d="M382.6 135.2L385.8 135.2" stroke-width="0.5"/><path d="M382.6 137.7L387.3 137.7" stroke-width="0.5"/><path d="M382.6 139.6L389.0 139.6" stroke-width="0.5"/><path d="M382.6 141.2L391.3 141.2" stroke-width="0.5"/><path d="M382.6 144.1L386.1 144.1" stroke-width="0.5"/><path d="M382.6 147.1L391.0 147.1" stroke-width="0.5"/><path d="M382.6 149.6L391.2 149.6" stroke-width="0.5"/><path d="M382.6 152.3L389.2 152.3" stroke-width="0.5"/><path d="M382.6 154.2L390.5 154.2" stroke-width="0.5"/><path d="M382.6 155.9L392.6 155.9" stroke-width="0.5"/><path d="M382.6 158.6L390.0 158.6" stroke-width="0.5"/><path d="M382.6 160.7L392.1 160.7" stroke-width="0.5"/><path d="M382.6 163.1L394.5 163.1" stroke-width="0.5"/><path d="M382.6 165.8L391.2 165.8" stroke-width="0.5"/><path d="M382.6 168.7L385.2 168.7" stroke-width="0.5"/><path d="M382.6 171.3L394.6 171.3" stroke-width="0.5"/><path d="M382.6 174.0L396.9 174.0" stroke-width="0.5"/><path d="M382.6 176.5L386.1 176.5" stroke-width="0.5"/><path d="M382.6 178.0L393.4 178.0" stroke-width="0.6"/><path d="M382.6 178.9L391.0 178.9" stroke-width="0.6"/><path d="M382.6 180.0L393.5 180.0" stroke-width="1.0"/><path d="M382.6 180.8L388.6 180.8" stroke-width="0.8"/><path d="M382.6 182.1L395.4 182.1" stroke-width="1.0"/><path d="M382.6 183.4L386.3 183.4" stroke-width="1.0"/><path d="M382.6 184.0L395.5 184.0" stroke-width="0.8"/><path d="M382.6 185.3L397.3 185.3" stroke-width="0.6"/><path d="M382.6 186.5L388.0 186.5" stroke-width="1.0"/><path d="M382.6 187.6L391.9 187.6" stroke-width="0.8"/><path d="M382.6 188.2L398.7 188.2" stroke-width="0.8"/><path d="M382.6 189.5L394.4 189.5" stroke-width="1.0"/><path d="M382.6 190.2L394.2 190.2" stroke-width="0.8"/><path d="M382.6 191.0L396.5 191.0" stroke-width="0.8"/><path d="M382.6 192.1L387.1 192.1" stroke-width="0.8"/><path d="M382.6 192.8L389.3 192.8" stroke-width="1.0"/><path d="M382.6 193.4L388.5 193.4" stroke-width="0.8"/><path d="M382.6 194.3L393.3 194.3" stroke-width="0.8"/><path d="M382.6 195.2L397.5 195.2" stroke-width="1.0"/><path d="M382.6 196.0L401.1 196.0" stroke-width="0.8"/><path d="M382.6 196.6L392.6 196.6" stroke-width="1.0"/><path d="M382.6 198.0L392.5 198.0" stroke-width="0.8"/><path d="M382.6 198.9L400.5 198.9" stroke-width="0.6"/><path d="M382.6 199.6L386.5 199.6" stroke-width="1.0"/><path d="M382.6 200.6L401.4 200.6" stroke-width="0.6"/><path d="M382.6 201.7L396.0 201.7" stroke-width="0.8"/><path d="M382.6 203.0L397.4 203.0" stroke-width="0.6"/><path d="M382.6 204.0L400.6 204.0" stroke-width="0.8"/><path d="M382.6 204.6L385.1 204.6" stroke-width="0.8"/><path d="M382.6 205.7L392.4 205.7" stroke-width="1.0"/><path d="M382.6 206.4L391.3 206.4" stroke-width="0.8"/><path d="M382.6 207.1L391.1 207.1" stroke-width="0.8"/><path d="M382.6 208.3L400.6 208.3" stroke-width="0.6"/><path d="M382.6 209.7L388.7 209.7" stroke-width="0.6"/><path d="M382.6 211.0L390.5 211.0" stroke-width="0.8"/><path d="M382.6 211.7L392.5 211.7" stroke-width="1.0"/><path d="M382.6 212.3L402.9 212.3" stroke-width="0.8"/><path d="M382.6 213.6L390.5 213.6" stroke-width="0.6"/><path d="M382.6 214.9L390.7 214.9" stroke-width="0.6"/><path d="M382.6 215.7L390.3 215.7" stroke-width="1.0"/><path d="M382.6 216.5L400.6 216.5" stroke-width="0.8"/><path d="M382.6 217.8L401.5 217.8" stroke-width="1.0"/><path d="M382.6 218.8L403.0 218.8" stroke-width="1.0"/><path d="M382.6 219.8L399.9 219.8" stroke-width="0.6"/><path d="M382.6 221.1L393.6 221.1" stroke-width="1.0"/><path d="M382.6 222.4L398.6 222.4" stroke-width="0.8"/><path d="M382.6 223.3L404.5 223.3" stroke-width="1.0"/><path d="M382.6 224.0L395.1 224.0" stroke-width="0.8"/><path d="M382.6 224.9L390.5 224.9" stroke-width="1.0"/><path d="M382.6 226.2L390.7 226.2" stroke-width="1.0"/><path d="M382.6 227.0L395.6 227.0" stroke-width="1.0"/><path d="M382.6 228.0L388.7 228.0" stroke-width="0.6"/><path d="M395.9 186.0L395.9 191.3" stroke-width="0.6"/><path d="M389.3 182.6L389.3 189.2" stroke-width="0.6"/><path d="M391.9 180.8L391.9 184.2" stroke-width="0.6"/><path d="M390.4 162.6L390.4 166.5" stroke-width="0.6"/><path d="M394.6 176.5L394.6 179.7" stroke-width="0.6"/><path d="M391.9 151.4L391.9 155.7" stroke-width="0.6"/><path d="M388.4 203.7L388.4 207.3" stroke-width="0.6"/><path d="M393.1 204.2L393.1 209.6" stroke-width="0.6"/><path d="M393.1 175.9L393.1 181.1" stroke-width="0.6"/><path d="M399.2 206.9L399.2 209.5" stroke-width="0.6"/><path d="M391.9 214.6L391.9 220.4" stroke-width="0.6"/><path d="M388.9 181.1L388.9 188.0" stroke-width="0.6"/><path d="M387.4 219.7L387.4 224.3" stroke-width="0.6"/><path d="M398.3 205.0L398.3 212.8" stroke-width="0.6"/><path d="M386.0 185.3L386.0 192.8" stroke-width="0.6"/><path d="M394.7 216.8L394.7 221.6" stroke-width="0.6"/><path d="M395.1 182.3L395.1 185.7" stroke-width="0.6"/><path d="M394.2 160.9L394.2 163.6" stroke-width="0.6"/><path d="M397.0 209.4L397.0 216.5" stroke-width="0.6"/><path d="M386.5 214.4L386.5 221.1" stroke-width="0.6"/><path d="M386.0 150.1L386.0 155.5" stroke-width="0.6"/><path d="M390.8 152.7L390.8 160.5" stroke-width="0.6"/><path d="M392.9 195.1L392.9 199.7" stroke-width="0.6"/><path d="M386.6 205.0L386.6 208.8" stroke-width="0.6"/><path d="M388.6 217.9L388.6 221.5" stroke-width="0.6"/><path d="M385.0 206.9L385.0 212.1" stroke-width="0.6"/><path d="M390.3 221.7L390.3 225.6" stroke-width="0.6"/><path d="M389.2 210.4L389.2 215.6" stroke-width="0.6"/><path d="M385.4 189.4L385.4 193.9" stroke-width="0.6"/><path d="M385.8 196.8L385.8 199.9" stroke-width="0.6"/><path d="M383.0 215.0L388.2 215.0" stroke-width="0.7"/><path d="M383.0 215.9L389.6 215.9" stroke-width="0.7"/><path d="M383.0 216.8L389.3 216.8" stroke-width="0.7"/><path d="M383.0 217.7L391.4 217.7" stroke-width="0.7"/><path d="M383.0 218.6L394.0 218.6" stroke-width="0.7"/><path d="M383.0 219.5L395.3 219.5" stroke-width="0.7"/><path d="M383.0 220.4L397.9 220.4" stroke-width="0.7"/><path d="M383.0 221.3L401.4 221.3" stroke-width="0.7"/><path d="M383.0 222.2L401.5 222.2" stroke-width="0.7"/><path d="M383.0 223.1L396.9 223.1" stroke-width="0.7"/><path d="M383.0 224.0L395.5 224.0" stroke-width="0.7"/><path d="M383.0 224.9L391.6 224.9" stroke-width="0.7"/><path d="M383.0 225.8L391.7 225.8" stroke-width="0.7"/><path d="M383.0 226.7L392.3 226.7" stroke-width="0.7"/><path d="M383.0 227.6L387.8 227.6" stroke-width="0.7"/><path d="M383.0 228.5L387.4 228.5" stroke-width="0.7"/></g>
<g stroke="#000" fill="none" stroke-width="1.1">
<path d="M140.1 68V0.5H258.6V181"/>
<path d="M260.2 229.2V0.5H382V229.2"/>
<path d="M260.2 229.2H382" stroke-width="0.9"/>
</g>
<rect x="140.8" y="182.3" width="118.4" height="45" fill="none" stroke="#fff000" stroke-width="3.2" stroke-dasharray="8.1 1.8"/>
<rect x="262.9" y="66.8" width="118.4" height="56.6" fill="none" stroke="#fff000" stroke-width="3.2" stroke-dasharray="8.1 1.8"/>
<g fill="#000">
<text transform="translate(157.9 62.4) rotate(-90)" font-size="9.8" >H3K4Me3</text>
<text transform="translate(174.6 62.4) rotate(-90)" font-size="9.8" >H3</text>
<text transform="translate(193.9 62.4) rotate(-90)" font-size="9.8" >H3K27Me3</text>
<text transform="translate(212.4 62.4) rotate(-90)" font-size="9.8" >H3K36Me3</text>
<text transform="translate(232.8 61.3) rotate(-90)" font-size="9.8" >PolIIS5</text>
<text transform="translate(248.5 63.5) rotate(-90)" font-size="9.8" >DNAMet</text>
<text transform="translate(279.9 61.8) rotate(-90)" font-size="9.8" >H3K4Me3</text>
<text transform="translate(296.3 63.5) rotate(-90)" font-size="9.8" >H3</text>
<text transform="translate(315.9 62.4) rotate(-90)" font-size="9.8" >H3K27Me3</text>
<text transform="translate(335.0 62.4) rotate(-90)" font-size="9.8" >H3K36Me3</text>
<text transform="translate(354.5 60.9) rotate(-90)" font-size="9.8" >PolIIS5</text>
<text transform="translate(371.2 62.4) rotate(-90)" font-size="9.8" >DNAMet</text>
<text x="146.6" y="10.4" font-size="10.5">Promoter</text>
<text x="268.6" y="10.4" font-size="10.5">Genebody</text>
<text x="1.6" y="15.6" font-size="20" font-weight="bold">a</text>
<text x="1.6" y="254.8" font-size="20" font-weight="bold">b</text>
</g>
<rect x="482.4" y="178.1" width="8.2" height="11.4" fill="#10e000"/>
<rect x="482.4" y="189.3" width="8.2" height="8.9" fill="#0a780a"/>
<rect x="482.4" y="198.0" width="8.2" height="9.6" fill="#000"/>
<rect x="482.4" y="207.4" width="8.2" height="9.7" fill="#6e0000"/>
<rect x="482.4" y="216.9" width="8.2" height="10.0" fill="#ff0000"/>
<g font-family="'Liberation Serif', serif" font-size="7.3" fill="#1c1c30">
<text x="492.2" y="184.9">-2</text>
<text x="492.2" y="196.0">-1</text>
<text x="494.2" y="205.7">0</text>
<text x="494.2" y="215.5">1</text>
<text x="494.2" y="226.0">2</text>
</g>
<g stroke="#000" fill="none" stroke-width="1">
<rect x="31.5" y="264.6" width="211.6" height="196.5"/>
<path d="M36.7 461V466.2"/>
<path d="M89.9 461V466.2"/>
<path d="M143.1 461V466.2"/>
<path d="M196.3 461V466.2"/>
<path d="M31.5 294.4H27.4"/>
<path d="M31.5 345.2H27.4"/>
<path d="M31.5 395.4H27.4"/>
<path d="M31.5 445.2H27.4"/>
<rect x="295.4" y="264.6" width="211.8" height="196.5"/>
<path d="M338.3 461V466.2"/>
<path d="M384.7 461V466.2"/>
<path d="M431.4 461V466.2"/>
<path d="M478.2 461V466.2"/>
<path d="M295.4 288.4H291.6"/>
<path d="M295.4 318.6H291.6"/>
<path d="M295.4 349.1H291.6"/>
<path d="M295.4 379.3H291.6"/>
<path d="M295.4 409.7H291.6"/>
<path d="M295.4 440.0H291.6"/>
<path d="M527.2 265.3V459.2"/>
<path d="M527.2 270.0H522.8"/>
<path d="M527.2 307.2H522.8"/>
<path d="M527.2 345.4H522.8"/>
<path d="M527.2 383.4H522.8"/>
<path d="M527.2 421.2H522.8"/>
<path d="M527.2 459.2H522.8"/>
</g>
<rect x="42.7" y="436.9" width="3.4" height="3.4" fill="#a9a9a9"/><rect x="43.4" y="444.1" width="3.4" height="3.4" fill="#aaaaaa"/><rect x="45.3" y="432.6" width="3.4" height="3.4" fill="#a4a4a4"/><rect x="46.8" y="436.9" width="3.4" height="3.4" fill="#ababab"/><rect x="42.1" y="448.6" width="3.4" height="3.4" fill="#b7b7b7"/><rect x="43.5" y="435.2" width="3.4" height="3.4" fill="#b0b0b0"/><rect x="44.5" y="442.5" width="3.4" height="3.4" fill="#b3b3b3"/><rect x="44.6" y="433.5" width="3.4" height="3.4" fill="#aaaaaa"/><rect x="38.1" y="438.2" width="3.4" height="3.4" fill="#b2b2b2"/><rect x="44.3" y="441.5" width="3.4" height="3.4" fill="#b5b5b5"/><rect x="46.1" y="446.2" width="3.4" height="3.4" fill="#b1b1b1"/><rect x="41.8" y="447.9" width="3.4" height="3.4" fill="#bbbbbb"/><rect x="38.7" y="449.4" width="3.4" height="3.4" fill="#b0b0b0"/><rect x="46.5" y="436.5" width="3.4" height="3.4" fill="#aaaaaa"/><rect x="40.5" y="444.5" width="3.4" height="3.4" fill="#b2b2b2"/><rect x="41.0" y="439.8" width="3.4" height="3.4" fill="#afafaf"/><rect x="45.9" y="443.7" width="3.4" height="3.4" fill="#b4b4b4"/><rect x="45.5" y="450.4" width="3.4" height="3.4" fill="#bebebe"/><rect x="39.3" y="445.4" width="3.4" height="3.4" fill="#b8b8b8"/><rect x="45.9" y="451.1" width="3.4" height="3.4" fill="#b8b8b8"/><rect x="39.7" y="446.2" width="3.4" height="3.4" fill="#b8b8b8"/><rect x="40.4" y="443.5" width="3.4" height="3.4" fill="#aaaaaa"/><rect x="46.7" y="449.0" width="3.4" height="3.4" fill="#afafaf"/><rect x="41.5" y="447.9" width="3.4" height="3.4" fill="#afafaf"/><rect x="44.7" y="438.0" width="3.4" height="3.4" fill="#b2b2b2"/><rect x="43.3" y="433.2" width="3.4" height="3.4" fill="#a1a1a1"/><rect x="40.8" y="446.3" width="3.4" height="3.4" fill="#b9b9b9"/><rect x="42.3" y="451.4" width="3.4" height="3.4" fill="#bfbfbf"/><rect x="38.5" y="438.3" width="3.4" height="3.4" fill="#aeaeae"/><rect x="39.6" y="432.9" width="3.4" height="3.4" fill="#a7a7a7"/><rect x="39.2" y="444.2" width="3.4" height="3.4" fill="#aaaaaa"/><rect x="40.6" y="449.2" width="3.4" height="3.4" fill="#bdbdbd"/><rect x="41.2" y="449.8" width="3.4" height="3.4" fill="#b5b5b5"/><rect x="43.6" y="442.4" width="3.4" height="3.4" fill="#b1b1b1"/><rect x="43.4" y="443.2" width="3.4" height="3.4" fill="#b7b7b7"/><rect x="41.7" y="442.2" width="3.4" height="3.4" fill="#b3b3b3"/><rect x="40.5" y="436.9" width="3.4" height="3.4" fill="#b3b3b3"/><rect x="42.7" y="442.5" width="3.4" height="3.4" fill="#a8a8a8"/><rect x="43.0" y="440.4" width="3.4" height="3.4" fill="#a6a6a6"/><rect x="43.5" y="444.3" width="3.4" height="3.4" fill="#aaaaaa"/><rect x="42.0" y="444.5" width="3.4" height="3.4" fill="#b4b4b4"/><rect x="44.2" y="439.2" width="3.4" height="3.4" fill="#b1b1b1"/><rect x="38.3" y="432.7" width="3.4" height="3.4" fill="#ababab"/><rect x="40.1" y="451.1" width="3.4" height="3.4" fill="#b6b6b6"/><rect x="40.7" y="443.9" width="3.4" height="3.4" fill="#afafaf"/><rect x="41.1" y="438.4" width="3.4" height="3.4" fill="#aeaeae"/><rect x="41.2" y="438.2" width="3.4" height="3.4" fill="#b1b1b1"/><rect x="42.9" y="432.8" width="3.4" height="3.4" fill="#acacac"/><rect x="39.8" y="438.3" width="3.4" height="3.4" fill="#b1b1b1"/><rect x="39.5" y="437.0" width="3.4" height="3.4" fill="#aaaaaa"/><rect x="38.7" y="445.9" width="3.4" height="3.4" fill="#b0b0b0"/><rect x="45.3" y="438.8" width="3.4" height="3.4" fill="#acacac"/><rect x="39.3" y="449.0" width="3.4" height="3.4" fill="#b3b3b3"/><rect x="45.8" y="445.0" width="3.4" height="3.4" fill="#b1b1b1"/><rect x="38.9" y="436.7" width="3.4" height="3.4" fill="#acacac"/><rect x="45.1" y="436.0" width="3.4" height="3.4" fill="#b0b0b0"/><rect x="40.3" y="435.9" width="3.4" height="3.4" fill="#afafaf"/><rect x="45.1" y="444.8" width="3.4" height="3.4" fill="#afafaf"/><rect x="40.4" y="434.8" width="3.4" height="3.4" fill="#aeaeae"/><rect x="40.9" y="437.6" width="3.4" height="3.4" fill="#ababab"/><rect x="41.5" y="440.5" width="3.4" height="3.4" fill="#b5b5b5"/><rect x="37.8" y="435.3" width="3.4" height="3.4" fill="#b1b1b1"/><rect x="46.7" y="449.5" width="3.4" height="3.4" fill="#b5b5b5"/><rect x="46.1" y="450.8" width="3.4" height="3.4" fill="#b2b2b2"/><rect x="45.3" y="446.8" width="3.4" height="3.4" fill="#b6b6b6"/><rect x="40.4" y="442.4" width="3.4" height="3.4" fill="#adadad"/><rect x="38.4" y="436.7" width="3.4" height="3.4" fill="#adadad"/><rect x="45.1" y="437.9" width="3.4" height="3.4" fill="#a5a5a5"/><rect x="44.0" y="449.9" width="3.4" height="3.4" fill="#bdbdbd"/><rect x="45.9" y="449.8" width="3.4" height="3.4" fill="#b7b7b7"/><rect x="41.5" y="375.1" width="3.4" height="3.4" fill="#8b8b8b"/><rect x="41.1" y="392.3" width="3.4" height="3.4" fill="#979797"/><rect x="42.5" y="399.1" width="3.4" height="3.4" fill="#9b9b9b"/><rect x="39.1" y="394.8" width="3.4" height="3.4" fill="#9d9d9d"/><rect x="41.7" y="402.9" width="3.4" height="3.4" fill="#999999"/><rect x="40.5" y="386.1" width="3.4" height="3.4" fill="#999999"/><rect x="41.8" y="384.6" width="3.4" height="3.4" fill="#9a9a9a"/><rect x="41.9" y="422.7" width="3.4" height="3.4" fill="#9b9b9b"/><rect x="42.1" y="412.0" width="3.4" height="3.4" fill="#979797"/><rect x="39.1" y="390.6" width="3.4" height="3.4" fill="#969696"/><rect x="40.2" y="399.7" width="3.4" height="3.4" fill="#9e9e9e"/><rect x="38.1" y="374.4" width="3.4" height="3.4" fill="#8a8a8a"/><rect x="38.1" y="381.8" width="3.4" height="3.4" fill="#9a9a9a"/><rect x="38.2" y="425.6" width="3.4" height="3.4" fill="#a4a4a4"/><rect x="39.4" y="393.3" width="3.4" height="3.4" fill="#959595"/><rect x="40.7" y="413.1" width="3.4" height="3.4" fill="#9d9d9d"/><rect x="39.4" y="385.8" width="3.4" height="3.4" fill="#8e8e8e"/><rect x="41.4" y="407.6" width="3.4" height="3.4" fill="#9b9b9b"/><rect x="38.7" y="379.1" width="3.4" height="3.4" fill="#8f8f8f"/><rect x="41.7" y="410.6" width="3.4" height="3.4" fill="#9c9c9c"/><rect x="40.9" y="422.4" width="3.4" height="3.4" fill="#a2a2a2"/><rect x="40.3" y="396.6" width="3.4" height="3.4" fill="#9c9c9c"/><rect x="41.3" y="399.5" width="3.4" height="3.4" fill="#999999"/><rect x="40.5" y="389.0" width="3.4" height="3.4" fill="#999999"/><rect x="39.9" y="378.6" width="3.4" height="3.4" fill="#909090"/><rect x="42.5" y="427.1" width="3.4" height="3.4" fill="#a3a3a3"/><rect x="41.8" y="428.2" width="3.4" height="3.4" fill="#a1a1a1"/><rect x="38.4" y="402.1" width="3.4" height="3.4" fill="#a0a0a0"/><rect x="42.2" y="414.0" width="3.4" height="3.4" fill="#a4a4a4"/><rect x="41.5" y="414.4" width="3.4" height="3.4" fill="#a1a1a1"/><rect x="40.7" y="380.5" width="3.4" height="3.4" fill="#8a8a8a"/><rect x="41.7" y="382.9" width="3.4" height="3.4" fill="#8c8c8c"/><rect x="38.3" y="379.8" width="3.4" height="3.4" fill="#989898"/><rect x="37.9" y="385.0" width="3.4" height="3.4" fill="#999999"/><rect x="42.0" y="381.6" width="3.4" height="3.4" fill="#959595"/><rect x="42.6" y="424.5" width="3.4" height="3.4" fill="#a5a5a5"/><rect x="38.0" y="422.2" width="3.4" height="3.4" fill="#a7a7a7"/><rect x="41.4" y="405.0" width="3.4" height="3.4" fill="#959595"/><rect x="42.5" y="419.2" width="3.4" height="3.4" fill="#9a9a9a"/><rect x="40.6" y="393.8" width="3.4" height="3.4" fill="#9d9d9d"/><rect x="38.7" y="388.8" width="3.4" height="3.4" fill="#919191"/><rect x="41.6" y="411.3" width="3.4" height="3.4" fill="#9d9d9d"/><rect x="39.8" y="396.3" width="3.4" height="3.4" fill="#969696"/><rect x="38.2" y="399.4" width="3.4" height="3.4" fill="#9a9a9a"/><rect x="39.9" y="432.7" width="3.4" height="3.4" fill="#ababab"/><rect x="41.3" y="383.9" width="3.4" height="3.4" fill="#979797"/><rect x="40.4" y="414.7" width="3.4" height="3.4" fill="#9f9f9f"/><rect x="42.3" y="412.9" width="3.4" height="3.4" fill="#999999"/><rect x="41.5" y="380.1" width="3.4" height="3.4" fill="#989898"/><rect x="40.0" y="405.3" width="3.4" height="3.4" fill="#9f9f9f"/><rect x="39.1" y="385.5" width="3.4" height="3.4" fill="#8f8f8f"/><rect x="39.4" y="409.4" width="3.4" height="3.4" fill="#999999"/><rect x="42.6" y="415.8" width="3.4" height="3.4" fill="#9d9d9d"/><rect x="39.9" y="416.6" width="3.4" height="3.4" fill="#a6a6a6"/><rect x="39.1" y="409.4" width="3.4" height="3.4" fill="#999999"/><rect x="40.2" y="375.7" width="3.4" height="3.4" fill="#8e8e8e"/><rect x="39.6" y="384.6" width="3.4" height="3.4" fill="#919191"/><rect x="38.5" y="420.8" width="3.4" height="3.4" fill="#aaaaaa"/><rect x="40.8" y="403.1" width="3.4" height="3.4" fill="#9a9a9a"/><rect x="41.9" y="424.4" width="3.4" height="3.4" fill="#a4a4a4"/><rect x="41.4" y="403.2" width="3.4" height="3.4" fill="#a1a1a1"/><rect x="41.5" y="398.3" width="3.4" height="3.4" fill="#a0a0a0"/><rect x="38.9" y="402.3" width="3.4" height="3.4" fill="#969696"/><rect x="41.2" y="417.4" width="3.4" height="3.4" fill="#a8a8a8"/><rect x="39.0" y="425.5" width="3.4" height="3.4" fill="#9f9f9f"/><rect x="38.7" y="389.8" width="3.4" height="3.4" fill="#999999"/><rect x="42.3" y="425.8" width="3.4" height="3.4" fill="#a0a0a0"/><rect x="39.4" y="426.2" width="3.4" height="3.4" fill="#a3a3a3"/><rect x="38.2" y="418.0" width="3.4" height="3.4" fill="#9a9a9a"/><rect x="39.3" y="424.3" width="3.4" height="3.4" fill="#a1a1a1"/><rect x="41.2" y="409.1" width="3.4" height="3.4" fill="#969696"/><rect x="40.0" y="394.4" width="3.4" height="3.4" fill="#979797"/><rect x="40.7" y="386.9" width="3.4" height="3.4" fill="#9c9c9c"/><rect x="40.5" y="397.8" width="3.4" height="3.4" fill="#939393"/><rect x="41.1" y="390.8" width="3.4" height="3.4" fill="#909090"/><rect x="42.3" y="427.5" width="3.4" height="3.4" fill="#9e9e9e"/><rect x="39.7" y="430.8" width="3.4" height="3.4" fill="#aaaaaa"/><rect x="39.3" y="419.7" width="3.4" height="3.4" fill="#a4a4a4"/><rect x="41.8" y="413.5" width="3.4" height="3.4" fill="#9b9b9b"/><rect x="42.6" y="419.6" width="3.4" height="3.4" fill="#a4a4a4"/><rect x="38.4" y="406.5" width="3.4" height="3.4" fill="#9c9c9c"/><rect x="41.4" y="395.4" width="3.4" height="3.4" fill="#9b9b9b"/><rect x="38.7" y="408.3" width="3.4" height="3.4" fill="#9f9f9f"/><rect x="38.7" y="412.2" width="3.4" height="3.4" fill="#a5a5a5"/><rect x="38.4" y="413.6" width="3.4" height="3.4" fill="#a6a6a6"/><rect x="39.5" y="382.8" width="3.4" height="3.4" fill="#969696"/><rect x="40.6" y="410.1" width="3.4" height="3.4" fill="#a0a0a0"/><rect x="39.4" y="401.8" width="3.4" height="3.4" fill="#959595"/><rect x="41.4" y="378.4" width="3.4" height="3.4" fill="#959595"/><rect x="41.5" y="406.9" width="3.4" height="3.4" fill="#9a9a9a"/><rect x="39.7" y="390.3" width="3.4" height="3.4" fill="#9c9c9c"/><rect x="40.3" y="376.8" width="3.4" height="3.4" fill="#8c8c8c"/><rect x="39.6" y="420.4" width="3.4" height="3.4" fill="#9f9f9f"/><rect x="40.5" y="398.5" width="3.4" height="3.4" fill="#9e9e9e"/><rect x="42.0" y="395.5" width="3.4" height="3.4" fill="#929292"/><rect x="38.3" y="390.5" width="3.4" height="3.4" fill="#909090"/><rect x="41.4" y="421.0" width="3.4" height="3.4" fill="#9d9d9d"/><rect x="39.9" y="385.7" width="3.4" height="3.4" fill="#989898"/><rect x="41.5" y="423.2" width="3.4" height="3.4" fill="#a5a5a5"/><rect x="39.8" y="383.1" width="3.4" height="3.4" fill="#8e8e8e"/><rect x="40.6" y="406.0" width="3.4" height="3.4" fill="#979797"/><rect x="41.7" y="389.3" width="3.4" height="3.4" fill="#8e8e8e"/><rect x="42.3" y="422.5" width="3.4" height="3.4" fill="#aaaaaa"/><rect x="40.6" y="397.3" width="3.4" height="3.4" fill="#9a9a9a"/><rect x="42.7" y="412.3" width="3.4" height="3.4" fill="#a2a2a2"/><rect x="42.1" y="392.3" width="3.4" height="3.4" fill="#969696"/><rect x="41.4" y="410.4" width="3.4" height="3.4" fill="#969696"/><rect x="41.1" y="420.5" width="3.4" height="3.4" fill="#a2a2a2"/><rect x="40.1" y="405.7" width="3.4" height="3.4" fill="#979797"/><rect x="38.0" y="406.1" width="3.4" height="3.4" fill="#9c9c9c"/><rect x="47.1" y="388.3" width="3.4" height="3.4" fill="#9b9b9b"/><rect x="48.2" y="395.4" width="3.4" height="3.4" fill="#999999"/><rect x="47.5" y="391.6" width="3.4" height="3.4" fill="#959595"/><rect x="46.5" y="381.9" width="3.4" height="3.4" fill="#8f8f8f"/><rect x="48.3" y="385.9" width="3.4" height="3.4" fill="#959595"/><rect x="47.7" y="393.4" width="3.4" height="3.4" fill="#989898"/><rect x="47.5" y="393.1" width="3.4" height="3.4" fill="#a4a4a4"/><rect x="47.8" y="389.9" width="3.4" height="3.4" fill="#989898"/><rect x="48.3" y="392.0" width="3.4" height="3.4" fill="#a2a2a2"/><rect x="47.9" y="383.6" width="3.4" height="3.4" fill="#969696"/><rect x="46.0" y="376.3" width="3.4" height="3.4" fill="#8a8a8a"/><rect x="46.3" y="378.3" width="3.4" height="3.4" fill="#939393"/><rect x="47.3" y="389.5" width="3.4" height="3.4" fill="#999999"/><rect x="46.7" y="388.4" width="3.4" height="3.4" fill="#999999"/><rect x="46.9" y="390.8" width="3.4" height="3.4" fill="#979797"/><rect x="47.8" y="394.0" width="3.4" height="3.4" fill="#9c9c9c"/><rect x="47.3" y="382.1" width="3.4" height="3.4" fill="#979797"/><rect x="45.9" y="378.8" width="3.4" height="3.4" fill="#8e8e8e"/><rect x="46.3" y="391.4" width="3.4" height="3.4" fill="#9b9b9b"/><rect x="46.4" y="378.2" width="3.4" height="3.4" fill="#8d8d8d"/><rect x="46.3" y="382.9" width="3.4" height="3.4" fill="#8e8e8e"/><rect x="46.3" y="376.3" width="3.4" height="3.4" fill="#919191"/><rect x="46.0" y="375.1" width="3.4" height="3.4" fill="#909090"/><rect x="47.7" y="383.0" width="3.4" height="3.4" fill="#8f8f8f"/><rect x="46.9" y="382.9" width="3.4" height="3.4" fill="#8e8e8e"/><rect x="46.5" y="395.5" width="3.4" height="3.4" fill="#989898"/><rect x="46.3" y="384.5" width="3.4" height="3.4" fill="#999999"/><rect x="46.2" y="381.6" width="3.4" height="3.4" fill="#8e8e8e"/><rect x="46.6" y="390.2" width="3.4" height="3.4" fill="#a0a0a0"/><rect x="48.3" y="384.3" width="3.4" height="3.4" fill="#949494"/><rect x="46.6" y="379.4" width="3.4" height="3.4" fill="#999999"/><rect x="46.8" y="388.0" width="3.4" height="3.4" fill="#939393"/><rect x="48.4" y="389.2" width="3.4" height="3.4" fill="#9c9c9c"/><rect x="46.0" y="373.9" width="3.4" height="3.4" fill="#898989"/><rect x="46.0" y="377.6" width="3.4" height="3.4" fill="#8b8b8b"/><rect x="48.2" y="388.5" width="3.4" height="3.4" fill="#959595"/><rect x="49.3" y="428.5" width="3.4" height="3.4" fill="#b6b6b6"/><rect x="50.5" y="426.7" width="3.4" height="3.4" fill="#a9a9a9"/><rect x="49.7" y="407.1" width="3.4" height="3.4" fill="#aeaeae"/><rect x="48.9" y="400.1" width="3.4" height="3.4" fill="#a9a9a9"/><rect x="49.1" y="401.0" width="3.4" height="3.4" fill="#a1a1a1"/><rect x="50.5" y="419.1" width="3.4" height="3.4" fill="#a7a7a7"/><rect x="50.0" y="421.0" width="3.4" height="3.4" fill="#b3b3b3"/><rect x="50.5" y="415.0" width="3.4" height="3.4" fill="#a8a8a8"/><rect x="48.7" y="410.6" width="3.4" height="3.4" fill="#adadad"/><rect x="48.8" y="412.7" width="3.4" height="3.4" fill="#a4a4a4"/><rect x="49.7" y="420.4" width="3.4" height="3.4" fill="#b0b0b0"/><rect x="49.4" y="409.7" width="3.4" height="3.4" fill="#a2a2a2"/><rect x="48.2" y="420.0" width="3.4" height="3.4" fill="#acacac"/><rect x="49.9" y="421.6" width="3.4" height="3.4" fill="#a7a7a7"/><rect x="50.3" y="404.9" width="3.4" height="3.4" fill="#a8a8a8"/><rect x="50.4" y="425.4" width="3.4" height="3.4" fill="#afafaf"/><rect x="50.0" y="426.0" width="3.4" height="3.4" fill="#adadad"/><rect x="48.3" y="409.1" width="3.4" height="3.4" fill="#a6a6a6"/><rect x="48.4" y="427.9" width="3.4" height="3.4" fill="#b2b2b2"/><rect x="48.3" y="400.8" width="3.4" height="3.4" fill="#a6a6a6"/><rect x="48.2" y="405.0" width="3.4" height="3.4" fill="#a0a0a0"/><rect x="49.6" y="417.9" width="3.4" height="3.4" fill="#a4a4a4"/><rect x="50.6" y="404.7" width="3.4" height="3.4" fill="#a1a1a1"/><rect x="49.2" y="415.3" width="3.4" height="3.4" fill="#afafaf"/><rect x="50.2" y="416.6" width="3.4" height="3.4" fill="#acacac"/><rect x="48.6" y="403.3" width="3.4" height="3.4" fill="#9e9e9e"/><rect x="48.4" y="423.7" width="3.4" height="3.4" fill="#a7a7a7"/><rect x="48.6" y="428.2" width="3.4" height="3.4" fill="#b7b7b7"/><rect x="49.3" y="400.0" width="3.4" height="3.4" fill="#9e9e9e"/><rect x="49.7" y="423.8" width="3.4" height="3.4" fill="#b1b1b1"/><rect x="50.4" y="421.7" width="3.4" height="3.4" fill="#ababab"/><rect x="49.3" y="416.6" width="3.4" height="3.4" fill="#a5a5a5"/><rect x="49.6" y="424.0" width="3.4" height="3.4" fill="#b4b4b4"/><rect x="49.5" y="403.9" width="3.4" height="3.4" fill="#a4a4a4"/><rect x="48.3" y="420.6" width="3.4" height="3.4" fill="#ababab"/><rect x="48.3" y="412.8" width="3.4" height="3.4" fill="#aaaaaa"/><rect x="49.2" y="420.8" width="3.4" height="3.4" fill="#b0b0b0"/><rect x="48.7" y="416.7" width="3.4" height="3.4" fill="#a9a9a9"/><rect x="41.8" y="375.2" width="3.4" height="3.4" fill="#868686"/><rect x="41.5" y="355.2" width="3.4" height="3.4" fill="#6c6c6c"/><rect x="43.0" y="373.8" width="3.4" height="3.4" fill="#8c8c8c"/><rect x="42.6" y="375.0" width="3.4" height="3.4" fill="#8e8e8e"/><rect x="42.1" y="365.1" width="3.4" height="3.4" fill="#848484"/><rect x="43.6" y="373.2" width="3.4" height="3.4" fill="#858585"/><rect x="42.0" y="370.3" width="3.4" height="3.4" fill="#8a8a8a"/><rect x="41.7" y="373.5" width="3.4" height="3.4" fill="#8d8d8d"/><rect x="41.1" y="357.4" width="3.4" height="3.4" fill="#777777"/><rect x="42.4" y="359.8" width="3.4" height="3.4" fill="#797979"/><rect x="43.0" y="354.2" width="3.4" height="3.4" fill="#6d6d6d"/><rect x="41.8" y="362.8" width="3.4" height="3.4" fill="#7e7e7e"/><rect x="41.7" y="369.7" width="3.4" height="3.4" fill="#7b7b7b"/><rect x="42.0" y="359.9" width="3.4" height="3.4" fill="#707070"/><rect x="43.1" y="356.7" width="3.4" height="3.4" fill="#767676"/><rect x="43.7" y="374.8" width="3.4" height="3.4" fill="#8d8d8d"/><rect x="41.3" y="361.5" width="3.4" height="3.4" fill="#757575"/><rect x="42.4" y="363.5" width="3.4" height="3.4" fill="#7b7b7b"/><rect x="43.4" y="361.2" width="3.4" height="3.4" fill="#757575"/><rect x="43.5" y="363.5" width="3.4" height="3.4" fill="#808080"/><rect x="41.5" y="359.8" width="3.4" height="3.4" fill="#7c7c7c"/><rect x="41.2" y="353.5" width="3.4" height="3.4" fill="#707070"/><rect x="41.3" y="365.1" width="3.4" height="3.4" fill="#757575"/><rect x="43.1" y="357.8" width="3.4" height="3.4" fill="#747474"/><rect x="43.2" y="374.8" width="3.4" height="3.4" fill="#8f8f8f"/><rect x="41.8" y="342.0" width="3.4" height="3.4" fill="#5e5e5e"/><rect x="42.2" y="349.5" width="3.4" height="3.4" fill="#666666"/><rect x="41.6" y="351.7" width="3.4" height="3.4" fill="#6c6c6c"/><rect x="43.5" y="346.0" width="3.4" height="3.4" fill="#696969"/><rect x="41.4" y="346.2" width="3.4" height="3.4" fill="#696969"/><rect x="43.2" y="353.2" width="3.4" height="3.4" fill="#777777"/><rect x="42.0" y="356.7" width="3.4" height="3.4" fill="#6e6e6e"/><rect x="43.5" y="355.7" width="3.4" height="3.4" fill="#737373"/><rect x="42.8" y="357.1" width="3.4" height="3.4" fill="#717171"/><rect x="41.3" y="344.5" width="3.4" height="3.4" fill="#6b6b6b"/><rect x="43.8" y="358.3" width="3.4" height="3.4" fill="#757575"/><rect x="43.9" y="353.9" width="3.4" height="3.4" fill="#777777"/><rect x="42.5" y="352.8" width="3.4" height="3.4" fill="#717171"/><rect x="41.8" y="344.5" width="3.4" height="3.4" fill="#6c6c6c"/><rect x="42.8" y="360.2" width="3.4" height="3.4" fill="#767676"/><rect x="42.6" y="348.0" width="3.4" height="3.4" fill="#717171"/><rect x="44.0" y="349.9" width="3.4" height="3.4" fill="#686868"/><rect x="42.8" y="347.3" width="3.4" height="3.4" fill="#6a6a6a"/><rect x="43.6" y="357.5" width="3.4" height="3.4" fill="#7c7c7c"/><rect x="41.4" y="352.9" width="3.4" height="3.4" fill="#727272"/><rect x="42.7" y="351.7" width="3.4" height="3.4" fill="#6c6c6c"/><rect x="43.9" y="354.8" width="3.4" height="3.4" fill="#6c6c6c"/><rect x="40.8" y="329.3" width="3.4" height="3.4" fill="#626262"/><rect x="41.3" y="326.1" width="3.4" height="3.4" fill="#5f5f5f"/><rect x="41.8" y="335.5" width="3.4" height="3.4" fill="#686868"/><rect x="40.6" y="319.4" width="3.4" height="3.4" fill="#585858"/><rect x="39.7" y="319.1" width="3.4" height="3.4" fill="#585858"/><rect x="41.0" y="332.7" width="3.4" height="3.4" fill="#656565"/><rect x="40.8" y="321.0" width="3.4" height="3.4" fill="#5a5a5a"/><rect x="41.3" y="335.1" width="3.4" height="3.4" fill="#676767"/><rect x="40.0" y="323.5" width="3.4" height="3.4" fill="#5c5c5c"/><rect x="39.4" y="318.1" width="3.4" height="3.4" fill="#575757"/><rect x="41.0" y="335.9" width="3.4" height="3.4" fill="#686868"/><rect x="39.5" y="320.1" width="3.4" height="3.4" fill="#595959"/><rect x="39.7" y="317.0" width="3.4" height="3.4" fill="#565656"/><rect x="41.7" y="330.9" width="3.4" height="3.4" fill="#636363"/><rect x="41.4" y="328.6" width="3.4" height="3.4" fill="#616161"/><rect x="39.2" y="315.4" width="3.4" height="3.4" fill="#555555"/><rect x="40.9" y="335.5" width="3.4" height="3.4" fill="#686868"/><rect x="40.1" y="320.9" width="3.4" height="3.4" fill="#5a5a5a"/><rect x="40.2" y="320.9" width="3.4" height="3.4" fill="#5a5a5a"/><rect x="39.2" y="316.3" width="3.4" height="3.4" fill="#555555"/><rect x="41.0" y="335.4" width="3.4" height="3.4" fill="#686868"/><rect x="41.0" y="334.3" width="3.4" height="3.4" fill="#676767"/><rect x="42.0" y="336.1" width="3.4" height="3.4" fill="#686868"/><rect x="40.4" y="328.9" width="3.4" height="3.4" fill="#616161"/><rect x="40.0" y="316.4" width="3.4" height="3.4" fill="#565656"/><rect x="39.4" y="319.0" width="3.4" height="3.4" fill="#585858"/><rect x="40.7" y="303.9" width="3.3" height="3.3" fill="#4c4c4c"/><rect x="40.1" y="305.8" width="3.3" height="3.3" fill="#555555"/><rect x="39.9" y="293.8" width="3.3" height="3.3" fill="#4a4a4a"/><rect x="39.4" y="296.3" width="3.3" height="3.3" fill="#414141"/><rect x="39.8" y="294.1" width="3.3" height="3.3" fill="#494949"/><rect x="39.5" y="293.4" width="3.3" height="3.3" fill="#484848"/><rect x="40.9" y="306.3" width="3.3" height="3.3" fill="#535353"/><rect x="40.9" y="297.3" width="3.3" height="3.3" fill="#484848"/><rect x="39.7" y="302.2" width="3.3" height="3.3" fill="#494949"/><rect x="40.5" y="297.2" width="3.3" height="3.3" fill="#4c4c4c"/><rect x="40.0" y="300.3" width="3.3" height="3.3" fill="#4e4e4e"/><rect x="40.1" y="298.5" width="3.3" height="3.3" fill="#4f4f4f"/><rect x="40.2" y="295.2" width="3.3" height="3.3" fill="#4b4b4b"/><rect x="39.5" y="304.2" width="3.3" height="3.3" fill="#5b5b5b"/><rect x="39.5" y="304.1" width="3.3" height="3.3" fill="#505050"/><rect x="39.2" y="295.2" width="3.3" height="3.3" fill="#4c4c4c"/><rect x="40.0" y="289.1" width="3.3" height="3.3" fill="#484848"/><rect x="39.3" y="270.4" width="3.4" height="3.4" fill="#303030"/><rect x="39.8" y="387.9" width="3.3" height="3.3" fill="#484848"/><rect x="39.8" y="390.4" width="3.3" height="3.3" fill="#484848"/><rect x="39.8" y="392.9" width="3.3" height="3.3" fill="#484848"/><rect x="39.8" y="394.9" width="3.3" height="3.3" fill="#484848"/><rect x="43.1" y="399.4" width="3.3" height="3.3" fill="#585858"/><rect x="43.1" y="402.4" width="3.3" height="3.3" fill="#585858"/><rect x="43.1" y="406.4" width="3.3" height="3.3" fill="#585858"/><rect x="43.1" y="409.4" width="3.3" height="3.3" fill="#585858"/><rect x="63.8" y="421.6" width="3.3" height="3.3" fill="#a8a8a8"/><rect x="68.1" y="422.8" width="3.3" height="3.3" fill="#b0b0b0"/><rect x="79.9" y="440.3" width="3.4" height="3.4" fill="#888888"/><rect x="79.9" y="436.9" width="3.4" height="3.4" fill="#8c8c8c"/><rect x="78.6" y="445.2" width="3.4" height="3.4" fill="#989898"/><rect x="74.4" y="443.3" width="3.4" height="3.4" fill="#949494"/><rect x="74.8" y="440.6" width="3.4" height="3.4" fill="#909090"/><rect x="77.3" y="439.5" width="3.4" height="3.4" fill="#8b8b8b"/><rect x="76.3" y="439.5" width="3.4" height="3.4" fill="#8e8e8e"/><rect x="80.4" y="445.1" width="3.4" height="3.4" fill="#9d9d9d"/><rect x="75.8" y="443.9" width="3.4" height="3.4" fill="#9c9c9c"/><rect x="74.7" y="439.1" width="3.4" height="3.4" fill="#8c8c8c"/><rect x="76.2" y="443.0" width="3.4" height="3.4" fill="#969696"/><rect x="80.6" y="439.2" width="3.4" height="3.4" fill="#8b8b8b"/><rect x="77.5" y="440.9" width="3.4" height="3.4" fill="#959595"/><rect x="77.5" y="445.2" width="3.4" height="3.4" fill="#969696"/><rect x="74.3" y="442.1" width="3.4" height="3.4" fill="#909090"/><rect x="79.2" y="444.0" width="3.4" height="3.4" fill="#8e8e8e"/><rect x="76.5" y="444.1" width="3.4" height="3.4" fill="#9d9d9d"/><rect x="75.3" y="439.9" width="3.4" height="3.4" fill="#8e8e8e"/><rect x="76.8" y="444.3" width="3.4" height="3.4" fill="#9c9c9c"/><rect x="76.3" y="442.8" width="3.4" height="3.4" fill="#909090"/><rect x="76.6" y="441.1" width="3.4" height="3.4" fill="#8e8e8e"/><rect x="79.9" y="442.3" width="3.4" height="3.4" fill="#939393"/><rect x="70.8" y="442.3" width="3.4" height="3.4" fill="#989898"/><rect x="70.3" y="445.6" width="3.4" height="3.4" fill="#9b9b9b"/><rect x="71.3" y="443.5" width="3.4" height="3.4" fill="#959595"/><rect x="75.7" y="445.1" width="3.4" height="3.4" fill="#a1a1a1"/><rect x="75.1" y="446.5" width="3.4" height="3.4" fill="#a9a9a9"/><rect x="72.4" y="447.7" width="3.4" height="3.4" fill="#a9a9a9"/><rect x="75.5" y="442.1" width="3.4" height="3.4" fill="#979797"/><rect x="75.5" y="444.6" width="3.4" height="3.4" fill="#9c9c9c"/><rect x="75.1" y="442.6" width="3.4" height="3.4" fill="#9c9c9c"/><rect x="69.5" y="441.9" width="3.4" height="3.4" fill="#969696"/><rect x="75.1" y="441.4" width="3.4" height="3.4" fill="#939393"/><rect x="72.0" y="443.2" width="3.4" height="3.4" fill="#9c9c9c"/><rect x="73.7" y="444.3" width="3.4" height="3.4" fill="#a1a1a1"/><rect x="70.0" y="444.4" width="3.4" height="3.4" fill="#a6a6a6"/><rect x="69.9" y="446.1" width="3.4" height="3.4" fill="#a2a2a2"/><rect x="76.2" y="446.6" width="3.4" height="3.4" fill="#9d9d9d"/><rect x="70.0" y="445.4" width="3.4" height="3.4" fill="#a6a6a6"/><rect x="71.5" y="451.1" width="3.4" height="3.4" fill="#acacac"/><rect x="70.4" y="448.0" width="3.4" height="3.4" fill="#b1b1b1"/><rect x="69.6" y="446.6" width="3.4" height="3.4" fill="#a3a3a3"/><rect x="67.9" y="449.5" width="3.4" height="3.4" fill="#b4b4b4"/><rect x="70.4" y="448.7" width="3.4" height="3.4" fill="#a5a5a5"/><rect x="69.9" y="446.8" width="3.4" height="3.4" fill="#afafaf"/><rect x="69.1" y="448.8" width="3.4" height="3.4" fill="#b4b4b4"/><rect x="70.2" y="449.6" width="3.4" height="3.4" fill="#a8a8a8"/><rect x="71.8" y="447.2" width="3.4" height="3.4" fill="#a4a4a4"/><rect x="70.6" y="448.8" width="3.4" height="3.4" fill="#a9a9a9"/><rect x="71.9" y="450.3" width="3.4" height="3.4" fill="#b3b3b3"/><rect x="232.9" y="444.7" width="3.4" height="3.4" fill="#a8a8a8"/><rect x="38.5" y="385.8" width="3.3" height="3.3" fill="none" stroke="#f0c800" stroke-width="1.0"/><rect x="38.5" y="398.5" width="3.3" height="3.3" fill="none" stroke="#f0c800" stroke-width="1.0"/><rect x="37.6" y="402.4" width="3.3" height="3.3" fill="none" stroke="#f0c800" stroke-width="1.0"/><rect x="37.6" y="405.6" width="3.3" height="3.3" fill="none" stroke="#f0c800" stroke-width="1.0"/><rect x="38.9" y="415.0" width="3.3" height="3.3" fill="none" stroke="#f0c800" stroke-width="1.0"/><rect x="38.9" y="441.0" width="3.3" height="3.3" fill="none" stroke="#f0c800" stroke-width="1.0"/><rect x="43.2" y="399.2" width="10" height="13.4" fill="none" stroke="#f04848" stroke-width="1"/><rect x="45.0" y="400.5" width="2.6" height="2.6" fill="#b00000" stroke="#d00000" stroke-width="0.8"/><rect x="45.0" y="403.7" width="2.6" height="2.6" fill="#b00000" stroke="#d00000" stroke-width="0.8"/><rect x="45.0" y="406.7" width="2.6" height="2.6" fill="#b00000" stroke="#d00000" stroke-width="0.8"/>
<rect x="320.4" y="452.7" width="3.5" height="3.5" fill="#aeaeae"/><rect x="314.6" y="452.7" width="3.5" height="3.5" fill="#bdbdbd"/><rect x="318.1" y="452.7" width="3.5" height="3.5" fill="#bbbbbb"/><rect x="323.9" y="452.5" width="3.5" height="3.5" fill="#b5b5b5"/><rect x="316.9" y="452.5" width="3.5" height="3.5" fill="#aeaeae"/><rect x="309.9" y="452.4" width="3.5" height="3.5" fill="#b1b1b1"/><rect x="326.3" y="452.4" width="3.5" height="3.5" fill="#bababa"/><rect x="325.1" y="452.4" width="3.5" height="3.5" fill="#b2b2b2"/><rect x="323.9" y="452.2" width="3.5" height="3.5" fill="#afafaf"/><rect x="321.6" y="452.1" width="3.5" height="3.5" fill="#b4b4b4"/><rect x="327.5" y="452.0" width="3.5" height="3.5" fill="#b6b6b6"/><rect x="321.6" y="451.9" width="3.5" height="3.5" fill="#afafaf"/><rect x="308.7" y="451.9" width="3.5" height="3.5" fill="#b3b3b3"/><rect x="318.1" y="451.9" width="3.5" height="3.5" fill="#b6b6b6"/><rect x="312.2" y="451.8" width="3.5" height="3.5" fill="#b9b9b9"/><rect x="308.7" y="451.7" width="3.5" height="3.5" fill="#b3b3b3"/><rect x="306.4" y="451.6" width="3.5" height="3.5" fill="#bdbdbd"/><rect x="314.6" y="451.5" width="3.5" height="3.5" fill="#b1b1b1"/><rect x="307.6" y="451.5" width="3.5" height="3.5" fill="#b9b9b9"/><rect x="312.2" y="451.5" width="3.5" height="3.5" fill="#aeaeae"/><rect x="319.3" y="451.4" width="3.5" height="3.5" fill="#bbbbbb"/><rect x="322.8" y="451.4" width="3.5" height="3.5" fill="#b5b5b5"/><rect x="306.4" y="451.4" width="3.5" height="3.5" fill="#afafaf"/><rect x="321.6" y="451.3" width="3.5" height="3.5" fill="#bababa"/><rect x="315.8" y="451.1" width="3.5" height="3.5" fill="#bbbbbb"/><rect x="316.9" y="451.1" width="3.5" height="3.5" fill="#aeaeae"/><rect x="329.8" y="451.1" width="3.5" height="3.5" fill="#bababa"/><rect x="327.5" y="451.0" width="3.5" height="3.5" fill="#bcbcbc"/><rect x="326.3" y="450.9" width="3.5" height="3.5" fill="#b2b2b2"/><rect x="306.4" y="450.8" width="3.5" height="3.5" fill="#b9b9b9"/><rect x="327.5" y="450.7" width="3.5" height="3.5" fill="#b8b8b8"/><rect x="320.4" y="450.6" width="3.5" height="3.5" fill="#b5b5b5"/><rect x="320.4" y="450.6" width="3.5" height="3.5" fill="#b2b2b2"/><rect x="306.4" y="450.6" width="3.5" height="3.5" fill="#b1b1b1"/><rect x="305.2" y="450.5" width="3.5" height="3.5" fill="#b9b9b9"/><rect x="316.9" y="450.4" width="3.5" height="3.5" fill="#b8b8b8"/><rect x="329.8" y="450.4" width="3.5" height="3.5" fill="#bbbbbb"/><rect x="326.3" y="450.4" width="3.5" height="3.5" fill="#adadad"/><rect x="323.9" y="450.3" width="3.5" height="3.5" fill="#b5b5b5"/><rect x="327.5" y="450.3" width="3.5" height="3.5" fill="#b7b7b7"/><rect x="319.3" y="450.2" width="3.5" height="3.5" fill="#afafaf"/><rect x="319.3" y="450.0" width="3.5" height="3.5" fill="#acacac"/><rect x="313.4" y="449.9" width="3.5" height="3.5" fill="#bababa"/><rect x="313.4" y="449.8" width="3.5" height="3.5" fill="#b8b8b8"/><rect x="318.1" y="449.7" width="3.5" height="3.5" fill="#b7b7b7"/><rect x="319.3" y="449.5" width="3.5" height="3.5" fill="#b1b1b1"/><rect x="309.9" y="449.5" width="3.5" height="3.5" fill="#b2b2b2"/><rect x="321.6" y="449.4" width="3.5" height="3.5" fill="#b8b8b8"/><rect x="308.7" y="449.4" width="3.5" height="3.5" fill="#adadad"/><rect x="331.0" y="449.4" width="3.5" height="3.5" fill="#b7b7b7"/><rect x="311.1" y="449.2" width="3.5" height="3.5" fill="#b6b6b6"/><rect x="325.1" y="449.2" width="3.5" height="3.5" fill="#b3b3b3"/><rect x="316.9" y="449.2" width="3.5" height="3.5" fill="#bababa"/><rect x="315.8" y="448.9" width="3.5" height="3.5" fill="#b5b5b5"/><rect x="321.6" y="448.8" width="3.5" height="3.5" fill="#b9b9b9"/><rect x="328.6" y="448.7" width="3.5" height="3.5" fill="#aeaeae"/><rect x="335.2" y="448.6" width="3.5" height="3.5" fill="#b1b1b1"/><rect x="316.9" y="448.3" width="3.5" height="3.5" fill="#afafaf"/><rect x="315.8" y="447.8" width="3.5" height="3.5" fill="#b2b2b2"/><rect x="340.6" y="447.8" width="3.5" height="3.5" fill="#b6b6b6"/><rect x="322.8" y="447.8" width="3.5" height="3.5" fill="#bababa"/><rect x="318.1" y="447.8" width="3.5" height="3.5" fill="#b9b9b9"/><rect x="320.4" y="447.8" width="3.5" height="3.5" fill="#b8b8b8"/><rect x="302.9" y="447.7" width="3.5" height="3.5" fill="#bababa"/><rect x="304.1" y="447.6" width="3.5" height="3.5" fill="#b6b6b6"/><rect x="309.9" y="447.6" width="3.5" height="3.5" fill="#b6b6b6"/><rect x="337.4" y="447.4" width="3.5" height="3.5" fill="#ababab"/><rect x="332.1" y="447.4" width="3.5" height="3.5" fill="#b0b0b0"/><rect x="312.2" y="447.3" width="3.5" height="3.5" fill="#b2b2b2"/><rect x="322.8" y="447.3" width="3.5" height="3.5" fill="#acacac"/><rect x="312.2" y="447.2" width="3.5" height="3.5" fill="#b8b8b8"/><rect x="308.7" y="447.0" width="3.5" height="3.5" fill="#b0b0b0"/><rect x="308.7" y="447.0" width="3.5" height="3.5" fill="#aeaeae"/><rect x="333.3" y="447.0" width="3.5" height="3.5" fill="#ababab"/><rect x="334.5" y="446.9" width="3.5" height="3.5" fill="#b2b2b2"/><rect x="332.1" y="446.9" width="3.5" height="3.5" fill="#afafaf"/><rect x="311.1" y="446.8" width="3.5" height="3.5" fill="#b9b9b9"/><rect x="329.8" y="446.8" width="3.5" height="3.5" fill="#b4b4b4"/><rect x="331.0" y="446.7" width="3.5" height="3.5" fill="#b0b0b0"/><rect x="332.1" y="446.7" width="3.5" height="3.5" fill="#acacac"/><rect x="335.6" y="446.7" width="3.5" height="3.5" fill="#aaaaaa"/><rect x="322.8" y="446.5" width="3.5" height="3.5" fill="#b4b4b4"/><rect x="329.8" y="446.5" width="3.5" height="3.5" fill="#b3b3b3"/><rect x="313.4" y="446.4" width="3.5" height="3.5" fill="#b1b1b1"/><rect x="311.1" y="446.4" width="3.5" height="3.5" fill="#b1b1b1"/><rect x="323.9" y="446.3" width="3.5" height="3.5" fill="#b0b0b0"/><rect x="336.8" y="446.2" width="3.5" height="3.5" fill="#b8b8b8"/><rect x="331.0" y="446.1" width="3.5" height="3.5" fill="#aaaaaa"/><rect x="302.9" y="446.0" width="3.5" height="3.5" fill="#adadad"/><rect x="323.9" y="446.0" width="3.5" height="3.5" fill="#b6b6b6"/><rect x="318.1" y="445.9" width="3.5" height="3.5" fill="#aeaeae"/><rect x="332.1" y="445.9" width="3.5" height="3.5" fill="#aeaeae"/><rect x="322.8" y="445.8" width="3.5" height="3.5" fill="#b0b0b0"/><rect x="336.8" y="445.8" width="3.5" height="3.5" fill="#aeaeae"/><rect x="328.6" y="445.7" width="3.5" height="3.5" fill="#b5b5b5"/><rect x="335.6" y="445.6" width="3.5" height="3.5" fill="#aaaaaa"/><rect x="335.6" y="445.5" width="3.5" height="3.5" fill="#b2b2b2"/><rect x="316.9" y="445.5" width="3.5" height="3.5" fill="#b4b4b4"/><rect x="320.4" y="445.3" width="3.5" height="3.5" fill="#aeaeae"/><rect x="344.6" y="445.3" width="3.5" height="3.5" fill="#b4b4b4"/><rect x="316.9" y="445.2" width="3.5" height="3.5" fill="#aeaeae"/><rect x="332.1" y="445.1" width="3.5" height="3.5" fill="#b2b2b2"/><rect x="321.6" y="444.9" width="3.5" height="3.5" fill="#aaaaaa"/><rect x="318.1" y="444.8" width="3.5" height="3.5" fill="#adadad"/><rect x="308.7" y="444.7" width="3.5" height="3.5" fill="#b1b1b1"/><rect x="333.3" y="444.6" width="3.5" height="3.5" fill="#b2b2b2"/><rect x="315.8" y="444.6" width="3.5" height="3.5" fill="#afafaf"/><rect x="318.1" y="444.3" width="3.5" height="3.5" fill="#a8a8a8"/><rect x="320.4" y="444.2" width="3.5" height="3.5" fill="#b0b0b0"/><rect x="342.8" y="443.9" width="3.5" height="3.5" fill="#b5b5b5"/><rect x="318.1" y="443.7" width="3.5" height="3.5" fill="#acacac"/><rect x="322.8" y="443.6" width="3.5" height="3.5" fill="#ababab"/><rect x="308.7" y="443.6" width="3.5" height="3.5" fill="#b1b1b1"/><rect x="304.1" y="443.5" width="3.5" height="3.5" fill="#ababab"/><rect x="344.9" y="443.5" width="3.5" height="3.5" fill="#a9a9a9"/><rect x="307.6" y="443.4" width="3.5" height="3.5" fill="#a8a8a8"/><rect x="320.4" y="443.3" width="3.5" height="3.5" fill="#b1b1b1"/><rect x="336.8" y="443.3" width="3.5" height="3.5" fill="#b5b5b5"/><rect x="323.9" y="443.2" width="3.5" height="3.5" fill="#b3b3b3"/><rect x="302.9" y="443.2" width="3.5" height="3.5" fill="#b0b0b0"/><rect x="323.9" y="443.1" width="3.5" height="3.5" fill="#b5b5b5"/><rect x="331.0" y="443.0" width="3.5" height="3.5" fill="#b4b4b4"/><rect x="322.8" y="443.0" width="3.5" height="3.5" fill="#ababab"/><rect x="304.1" y="442.8" width="3.5" height="3.5" fill="#adadad"/><rect x="304.1" y="442.7" width="3.5" height="3.5" fill="#b6b6b6"/><rect x="307.6" y="442.7" width="3.5" height="3.5" fill="#b6b6b6"/><rect x="302.9" y="442.6" width="3.5" height="3.5" fill="#b1b1b1"/><rect x="311.1" y="442.5" width="3.5" height="3.5" fill="#b1b1b1"/><rect x="314.6" y="442.4" width="3.5" height="3.5" fill="#acacac"/><rect x="342.7" y="442.4" width="3.5" height="3.5" fill="#a8a8a8"/><rect x="316.9" y="442.3" width="3.5" height="3.5" fill="#acacac"/><rect x="336.8" y="442.3" width="3.5" height="3.5" fill="#aaaaaa"/><rect x="302.9" y="442.3" width="3.5" height="3.5" fill="#b1b1b1"/><rect x="334.5" y="442.1" width="3.5" height="3.5" fill="#b1b1b1"/><rect x="311.1" y="442.1" width="3.5" height="3.5" fill="#b0b0b0"/><rect x="345.8" y="442.1" width="3.5" height="3.5" fill="#b5b5b5"/><rect x="342.7" y="442.1" width="3.5" height="3.5" fill="#a6a6a6"/><rect x="305.2" y="442.1" width="3.5" height="3.5" fill="#aaaaaa"/><rect x="328.6" y="442.1" width="3.5" height="3.5" fill="#a8a8a8"/><rect x="315.8" y="442.0" width="3.5" height="3.5" fill="#acacac"/><rect x="346.3" y="442.0" width="3.5" height="3.5" fill="#b5b5b5"/><rect x="309.9" y="441.9" width="3.5" height="3.5" fill="#aeaeae"/><rect x="326.3" y="441.9" width="3.5" height="3.5" fill="#b3b3b3"/><rect x="307.6" y="441.9" width="3.5" height="3.5" fill="#a9a9a9"/><rect x="306.4" y="441.8" width="3.5" height="3.5" fill="#acacac"/><rect x="309.9" y="441.7" width="3.5" height="3.5" fill="#b3b3b3"/><rect x="348.7" y="441.6" width="3.5" height="3.5" fill="#ababab"/><rect x="348.3" y="441.5" width="3.5" height="3.5" fill="#b2b2b2"/><rect x="318.1" y="441.4" width="3.5" height="3.5" fill="#afafaf"/><rect x="322.8" y="441.4" width="3.5" height="3.5" fill="#b0b0b0"/><rect x="340.3" y="441.3" width="3.5" height="3.5" fill="#a6a6a6"/><rect x="325.1" y="441.3" width="3.5" height="3.5" fill="#acacac"/><rect x="306.4" y="441.3" width="3.5" height="3.5" fill="#b6b6b6"/><rect x="346.7" y="441.3" width="3.5" height="3.5" fill="#acacac"/><rect x="327.5" y="441.2" width="3.5" height="3.5" fill="#aaaaaa"/><rect x="302.9" y="441.1" width="3.5" height="3.5" fill="#b6b6b6"/><rect x="347.5" y="441.1" width="3.5" height="3.5" fill="#afafaf"/><rect x="347.5" y="440.9" width="3.5" height="3.5" fill="#b1b1b1"/><rect x="316.9" y="440.8" width="3.5" height="3.5" fill="#adadad"/><rect x="308.7" y="440.8" width="3.5" height="3.5" fill="#afafaf"/><rect x="316.9" y="440.8" width="3.5" height="3.5" fill="#acacac"/><rect x="332.1" y="440.7" width="3.5" height="3.5" fill="#aaaaaa"/><rect x="325.1" y="440.5" width="3.5" height="3.5" fill="#aaaaaa"/><rect x="335.6" y="440.5" width="3.5" height="3.5" fill="#a9a9a9"/><rect x="302.9" y="440.4" width="3.5" height="3.5" fill="#b0b0b0"/><rect x="302.9" y="440.4" width="3.5" height="3.5" fill="#a7a7a7"/><rect x="302.9" y="440.4" width="3.5" height="3.5" fill="#a7a7a7"/><rect x="334.5" y="440.4" width="3.5" height="3.5" fill="#adadad"/><rect x="319.3" y="440.1" width="3.5" height="3.5" fill="#b5b5b5"/><rect x="329.8" y="440.0" width="3.5" height="3.5" fill="#b1b1b1"/><rect x="332.1" y="439.9" width="3.5" height="3.5" fill="#b0b0b0"/><rect x="314.6" y="439.7" width="3.5" height="3.5" fill="#b1b1b1"/><rect x="333.3" y="439.7" width="3.5" height="3.5" fill="#a8a8a8"/><rect x="329.8" y="439.6" width="3.5" height="3.5" fill="#adadad"/><rect x="320.4" y="439.5" width="3.5" height="3.5" fill="#a5a5a5"/><rect x="339.2" y="439.5" width="3.5" height="3.5" fill="#adadad"/><rect x="338.0" y="439.4" width="3.5" height="3.5" fill="#a5a5a5"/><rect x="305.2" y="439.3" width="3.5" height="3.5" fill="#a6a6a6"/><rect x="328.6" y="439.2" width="3.5" height="3.5" fill="#a6a6a6"/><rect x="313.4" y="439.2" width="3.5" height="3.5" fill="#aaaaaa"/><rect x="314.6" y="439.2" width="3.5" height="3.5" fill="#acacac"/><rect x="308.7" y="439.0" width="3.5" height="3.5" fill="#a8a8a8"/><rect x="320.4" y="438.9" width="3.5" height="3.5" fill="#a5a5a5"/><rect x="313.4" y="438.8" width="3.5" height="3.5" fill="#a6a6a6"/><rect x="321.6" y="438.8" width="3.5" height="3.5" fill="#b3b3b3"/><rect x="311.1" y="438.6" width="3.5" height="3.5" fill="#b4b4b4"/><rect x="347.4" y="438.6" width="3.5" height="3.5" fill="#b3b3b3"/><rect x="309.9" y="438.5" width="3.5" height="3.5" fill="#a6a6a6"/><rect x="306.4" y="438.3" width="3.5" height="3.5" fill="#a7a7a7"/><rect x="336.8" y="438.3" width="3.5" height="3.5" fill="#b2b2b2"/><rect x="320.4" y="438.2" width="3.5" height="3.5" fill="#a4a4a4"/><rect x="341.5" y="438.2" width="3.5" height="3.5" fill="#a6a6a6"/><rect x="347.4" y="438.2" width="3.5" height="3.5" fill="#aeaeae"/><rect x="312.2" y="438.2" width="3.5" height="3.5" fill="#b3b3b3"/><rect x="347.4" y="438.1" width="3.5" height="3.5" fill="#b2b2b2"/><rect x="304.1" y="438.1" width="3.5" height="3.5" fill="#b1b1b1"/><rect x="346.2" y="438.1" width="3.5" height="3.5" fill="#a9a9a9"/><rect x="306.4" y="437.9" width="3.5" height="3.5" fill="#afafaf"/><rect x="308.7" y="437.9" width="3.5" height="3.5" fill="#b2b2b2"/><rect x="318.1" y="437.9" width="3.5" height="3.5" fill="#b2b2b2"/><rect x="306.4" y="437.7" width="3.5" height="3.5" fill="#b3b3b3"/><rect x="309.9" y="437.4" width="3.5" height="3.5" fill="#afafaf"/><rect x="320.4" y="437.4" width="3.5" height="3.5" fill="#b0b0b0"/><rect x="335.6" y="437.3" width="3.5" height="3.5" fill="#aeaeae"/><rect x="311.1" y="437.1" width="3.5" height="3.5" fill="#aaaaaa"/><rect x="328.6" y="437.1" width="3.5" height="3.5" fill="#acacac"/><rect x="308.7" y="436.8" width="3.5" height="3.5" fill="#b2b2b2"/><rect x="340.3" y="436.8" width="3.5" height="3.5" fill="#acacac"/><rect x="336.8" y="436.8" width="3.5" height="3.5" fill="#a3a3a3"/><rect x="309.9" y="436.7" width="3.5" height="3.5" fill="#aaaaaa"/><rect x="309.9" y="436.7" width="3.5" height="3.5" fill="#b1b1b1"/><rect x="342.7" y="436.7" width="3.5" height="3.5" fill="#aeaeae"/><rect x="304.1" y="436.7" width="3.5" height="3.5" fill="#aaaaaa"/><rect x="338.0" y="436.7" width="3.5" height="3.5" fill="#b2b2b2"/><rect x="304.1" y="436.6" width="3.5" height="3.5" fill="#afafaf"/><rect x="316.9" y="436.6" width="3.5" height="3.5" fill="#a6a6a6"/><rect x="322.8" y="436.6" width="3.5" height="3.5" fill="#aeaeae"/><rect x="316.9" y="436.5" width="3.5" height="3.5" fill="#b0b0b0"/><rect x="312.2" y="436.4" width="3.5" height="3.5" fill="#a3a3a3"/><rect x="320.4" y="436.4" width="3.5" height="3.5" fill="#b1b1b1"/><rect x="347.4" y="436.4" width="3.5" height="3.5" fill="#a9a9a9"/><rect x="309.9" y="436.4" width="3.5" height="3.5" fill="#b0b0b0"/><rect x="316.9" y="436.2" width="3.5" height="3.5" fill="#a3a3a3"/><rect x="319.3" y="436.0" width="3.5" height="3.5" fill="#a7a7a7"/><rect x="347.4" y="435.8" width="3.5" height="3.5" fill="#a7a7a7"/><rect x="340.3" y="435.6" width="3.5" height="3.5" fill="#a5a5a5"/><rect x="312.2" y="435.5" width="3.5" height="3.5" fill="#acacac"/><rect x="340.3" y="435.5" width="3.5" height="3.5" fill="#afafaf"/><rect x="307.6" y="435.4" width="3.5" height="3.5" fill="#acacac"/><rect x="305.2" y="435.2" width="3.5" height="3.5" fill="#b0b0b0"/><rect x="348.5" y="435.1" width="3.5" height="3.5" fill="#a3a3a3"/><rect x="307.6" y="435.0" width="3.5" height="3.5" fill="#a6a6a6"/><rect x="305.2" y="435.0" width="3.5" height="3.5" fill="#a8a8a8"/><rect x="311.1" y="435.0" width="3.5" height="3.5" fill="#aeaeae"/><rect x="325.1" y="434.8" width="3.5" height="3.5" fill="#adadad"/><rect x="354.7" y="434.8" width="3.5" height="3.5" fill="#b1b1b1"/><rect x="350.9" y="434.5" width="3.5" height="3.5" fill="#afafaf"/><rect x="327.5" y="434.5" width="3.5" height="3.5" fill="#aaaaaa"/><rect x="354.9" y="434.5" width="3.5" height="3.5" fill="#adadad"/><rect x="334.5" y="434.3" width="3.5" height="3.5" fill="#aeaeae"/><rect x="329.8" y="434.3" width="3.5" height="3.5" fill="#a9a9a9"/><rect x="328.6" y="434.2" width="3.5" height="3.5" fill="#acacac"/><rect x="312.2" y="434.2" width="3.5" height="3.5" fill="#afafaf"/><rect x="309.9" y="434.1" width="3.5" height="3.5" fill="#aeaeae"/><rect x="352.0" y="434.1" width="3.5" height="3.5" fill="#a3a3a3"/><rect x="353.2" y="434.0" width="3.5" height="3.5" fill="#a1a1a1"/><rect x="355.1" y="434.0" width="3.5" height="3.5" fill="#acacac"/><rect x="326.3" y="434.0" width="3.5" height="3.5" fill="#aeaeae"/><rect x="329.8" y="434.0" width="3.5" height="3.5" fill="#a4a4a4"/><rect x="311.1" y="433.9" width="3.5" height="3.5" fill="#aeaeae"/><rect x="335.6" y="433.9" width="3.5" height="3.5" fill="#adadad"/><rect x="357.4" y="433.9" width="3.5" height="3.5" fill="#a3a3a3"/><rect x="335.6" y="433.8" width="3.5" height="3.5" fill="#a3a3a3"/><rect x="348.5" y="433.7" width="3.5" height="3.5" fill="#ababab"/><rect x="307.6" y="433.7" width="3.5" height="3.5" fill="#ababab"/><rect x="320.4" y="433.6" width="3.5" height="3.5" fill="#a3a3a3"/><rect x="333.3" y="433.6" width="3.5" height="3.5" fill="#afafaf"/><rect x="348.5" y="433.4" width="3.5" height="3.5" fill="#a4a4a4"/><rect x="321.6" y="433.4" width="3.5" height="3.5" fill="#aeaeae"/><rect x="322.8" y="433.3" width="3.5" height="3.5" fill="#afafaf"/><rect x="308.7" y="433.3" width="3.5" height="3.5" fill="#a2a2a2"/><rect x="319.3" y="433.3" width="3.5" height="3.5" fill="#ababab"/><rect x="327.5" y="433.2" width="3.5" height="3.5" fill="#a9a9a9"/><rect x="305.2" y="433.2" width="3.5" height="3.5" fill="#afafaf"/><rect x="319.3" y="433.2" width="3.5" height="3.5" fill="#a7a7a7"/><rect x="333.3" y="433.1" width="3.5" height="3.5" fill="#a7a7a7"/><rect x="307.6" y="433.1" width="3.5" height="3.5" fill="#a4a4a4"/><rect x="329.8" y="432.9" width="3.5" height="3.5" fill="#aeaeae"/><rect x="352.0" y="432.9" width="3.5" height="3.5" fill="#a5a5a5"/><rect x="342.7" y="432.9" width="3.5" height="3.5" fill="#afafaf"/><rect x="358.1" y="432.7" width="3.5" height="3.5" fill="#a0a0a0"/><rect x="312.2" y="432.7" width="3.5" height="3.5" fill="#aeaeae"/><rect x="353.2" y="432.7" width="3.5" height="3.5" fill="#a0a0a0"/><rect x="308.7" y="432.7" width="3.5" height="3.5" fill="#ababab"/><rect x="311.1" y="432.6" width="3.5" height="3.5" fill="#afafaf"/><rect x="319.3" y="432.5" width="3.5" height="3.5" fill="#a5a5a5"/><rect x="360.8" y="432.5" width="3.5" height="3.5" fill="#a9a9a9"/><rect x="315.8" y="432.4" width="3.5" height="3.5" fill="#a6a6a6"/><rect x="326.3" y="432.2" width="3.5" height="3.5" fill="#a1a1a1"/><rect x="315.8" y="432.1" width="3.5" height="3.5" fill="#adadad"/><rect x="336.8" y="432.1" width="3.5" height="3.5" fill="#a7a7a7"/><rect x="336.8" y="432.0" width="3.5" height="3.5" fill="#acacac"/><rect x="335.6" y="432.0" width="3.5" height="3.5" fill="#a0a0a0"/><rect x="335.6" y="432.0" width="3.5" height="3.5" fill="#a2a2a2"/><rect x="308.7" y="431.8" width="3.5" height="3.5" fill="#a3a3a3"/><rect x="327.5" y="431.6" width="3.5" height="3.5" fill="#acacac"/><rect x="335.6" y="431.6" width="3.5" height="3.5" fill="#a0a0a0"/><rect x="308.7" y="431.6" width="3.5" height="3.5" fill="#9f9f9f"/><rect x="302.9" y="431.5" width="3.5" height="3.5" fill="#a5a5a5"/><rect x="345.0" y="431.2" width="3.5" height="3.5" fill="#a5a5a5"/><rect x="331.0" y="431.1" width="3.5" height="3.5" fill="#acacac"/><rect x="333.3" y="431.0" width="3.5" height="3.5" fill="#acacac"/><rect x="338.0" y="430.9" width="3.5" height="3.5" fill="#a2a2a2"/><rect x="329.8" y="430.9" width="3.5" height="3.5" fill="#ababab"/><rect x="358.3" y="430.8" width="3.5" height="3.5" fill="#a4a4a4"/><rect x="306.4" y="430.8" width="3.5" height="3.5" fill="#ababab"/><rect x="339.2" y="430.7" width="3.5" height="3.5" fill="#a9a9a9"/><rect x="316.9" y="430.7" width="3.5" height="3.5" fill="#a0a0a0"/><rect x="315.8" y="430.4" width="3.5" height="3.5" fill="#a6a6a6"/><rect x="341.5" y="430.4" width="3.5" height="3.5" fill="#a5a5a5"/><rect x="322.8" y="430.2" width="3.5" height="3.5" fill="#a6a6a6"/><rect x="342.7" y="430.0" width="3.5" height="3.5" fill="#a7a7a7"/><rect x="315.8" y="429.9" width="3.5" height="3.5" fill="#a9a9a9"/><rect x="302.9" y="429.8" width="3.5" height="3.5" fill="#a4a4a4"/><rect x="308.7" y="429.8" width="3.5" height="3.5" fill="#a6a6a6"/><rect x="342.7" y="429.8" width="3.5" height="3.5" fill="#ababab"/><rect x="333.3" y="429.6" width="3.5" height="3.5" fill="#a9a9a9"/><rect x="332.1" y="429.5" width="3.5" height="3.5" fill="#a1a1a1"/><rect x="305.2" y="429.5" width="3.5" height="3.5" fill="#a0a0a0"/><rect x="334.5" y="429.3" width="3.5" height="3.5" fill="#a2a2a2"/><rect x="319.3" y="429.2" width="3.5" height="3.5" fill="#adadad"/><rect x="356.7" y="429.2" width="3.5" height="3.5" fill="#a4a4a4"/><rect x="333.3" y="429.2" width="3.5" height="3.5" fill="#acacac"/><rect x="313.4" y="429.1" width="3.5" height="3.5" fill="#adadad"/><rect x="323.9" y="429.1" width="3.5" height="3.5" fill="#a9a9a9"/><rect x="333.3" y="429.1" width="3.5" height="3.5" fill="#a3a3a3"/><rect x="352.0" y="429.1" width="3.5" height="3.5" fill="#a9a9a9"/><rect x="342.7" y="429.0" width="3.5" height="3.5" fill="#a5a5a5"/><rect x="313.4" y="429.0" width="3.5" height="3.5" fill="#adadad"/><rect x="326.3" y="428.9" width="3.5" height="3.5" fill="#a5a5a5"/><rect x="306.4" y="428.8" width="3.5" height="3.5" fill="#a7a7a7"/><rect x="342.7" y="428.6" width="3.5" height="3.5" fill="#a8a8a8"/><rect x="348.5" y="428.6" width="3.5" height="3.5" fill="#a7a7a7"/><rect x="353.2" y="428.5" width="3.5" height="3.5" fill="#a0a0a0"/><rect x="334.5" y="428.4" width="3.5" height="3.5" fill="#a6a6a6"/><rect x="332.1" y="428.3" width="3.5" height="3.5" fill="#a4a4a4"/><rect x="342.7" y="428.2" width="3.5" height="3.5" fill="#a8a8a8"/><rect x="314.6" y="428.2" width="3.5" height="3.5" fill="#a9a9a9"/><rect x="342.7" y="428.1" width="3.5" height="3.5" fill="#a0a0a0"/><rect x="350.9" y="428.1" width="3.5" height="3.5" fill="#a3a3a3"/><rect x="359.5" y="427.9" width="3.5" height="3.5" fill="#a1a1a1"/><rect x="348.5" y="427.9" width="3.5" height="3.5" fill="#acacac"/><rect x="352.0" y="427.8" width="3.5" height="3.5" fill="#a4a4a4"/><rect x="333.3" y="427.7" width="3.5" height="3.5" fill="#a4a4a4"/><rect x="333.3" y="427.7" width="3.5" height="3.5" fill="#acacac"/><rect x="320.4" y="427.7" width="3.5" height="3.5" fill="#a9a9a9"/><rect x="320.4" y="427.7" width="3.5" height="3.5" fill="#aaaaaa"/><rect x="354.4" y="427.5" width="3.5" height="3.5" fill="#a4a4a4"/><rect x="313.4" y="427.5" width="3.5" height="3.5" fill="#9e9e9e"/><rect x="331.0" y="427.5" width="3.5" height="3.5" fill="#a2a2a2"/><rect x="340.3" y="427.5" width="3.5" height="3.5" fill="#9e9e9e"/><rect x="325.1" y="427.3" width="3.5" height="3.5" fill="#a3a3a3"/><rect x="333.3" y="427.3" width="3.5" height="3.5" fill="#a3a3a3"/><rect x="306.4" y="427.2" width="3.5" height="3.5" fill="#a4a4a4"/><rect x="347.4" y="427.1" width="3.5" height="3.5" fill="#acacac"/><rect x="315.8" y="427.1" width="3.5" height="3.5" fill="#a5a5a5"/><rect x="313.4" y="427.0" width="3.5" height="3.5" fill="#9f9f9f"/><rect x="318.1" y="427.0" width="3.5" height="3.5" fill="#9f9f9f"/><rect x="331.0" y="426.9" width="3.5" height="3.5" fill="#a7a7a7"/><rect x="306.4" y="426.8" width="3.5" height="3.5" fill="#a4a4a4"/><rect x="315.8" y="426.7" width="3.5" height="3.5" fill="#a2a2a2"/><rect x="362.6" y="426.4" width="3.5" height="3.5" fill="#a3a3a3"/><rect x="345.0" y="426.4" width="3.5" height="3.5" fill="#a2a2a2"/><rect x="343.8" y="426.3" width="3.5" height="3.5" fill="#a6a6a6"/><rect x="336.8" y="426.2" width="3.5" height="3.5" fill="#a5a5a5"/><rect x="312.2" y="426.1" width="3.5" height="3.5" fill="#9c9c9c"/><rect x="326.3" y="425.9" width="3.5" height="3.5" fill="#a3a3a3"/><rect x="327.5" y="425.7" width="3.5" height="3.5" fill="#9f9f9f"/><rect x="305.2" y="425.7" width="3.5" height="3.5" fill="#a4a4a4"/><rect x="325.1" y="425.6" width="3.5" height="3.5" fill="#a2a2a2"/><rect x="346.2" y="425.4" width="3.5" height="3.5" fill="#a7a7a7"/><rect x="329.8" y="425.4" width="3.5" height="3.5" fill="#aaaaaa"/><rect x="329.8" y="425.4" width="3.5" height="3.5" fill="#a7a7a7"/><rect x="319.3" y="425.4" width="3.5" height="3.5" fill="#a5a5a5"/><rect x="323.9" y="425.3" width="3.5" height="3.5" fill="#a3a3a3"/><rect x="312.2" y="425.3" width="3.5" height="3.5" fill="#9d9d9d"/><rect x="305.2" y="425.1" width="3.5" height="3.5" fill="#a6a6a6"/><rect x="333.3" y="425.0" width="3.5" height="3.5" fill="#9e9e9e"/><rect x="304.1" y="424.8" width="3.5" height="3.5" fill="#a1a1a1"/><rect x="323.9" y="424.8" width="3.5" height="3.5" fill="#a4a4a4"/><rect x="311.1" y="424.7" width="3.5" height="3.5" fill="#9f9f9f"/><rect x="315.8" y="424.6" width="3.5" height="3.5" fill="#a8a8a8"/><rect x="352.0" y="424.6" width="3.5" height="3.5" fill="#a3a3a3"/><rect x="311.1" y="424.6" width="3.5" height="3.5" fill="#aaaaaa"/><rect x="315.8" y="424.5" width="3.5" height="3.5" fill="#9b9b9b"/><rect x="354.4" y="424.5" width="3.5" height="3.5" fill="#a2a2a2"/><rect x="361.2" y="424.5" width="3.5" height="3.5" fill="#9f9f9f"/><rect x="347.4" y="424.5" width="3.5" height="3.5" fill="#a3a3a3"/><rect x="329.8" y="424.4" width="3.5" height="3.5" fill="#a5a5a5"/><rect x="319.3" y="424.3" width="3.5" height="3.5" fill="#a4a4a4"/><rect x="311.1" y="424.2" width="3.5" height="3.5" fill="#a9a9a9"/><rect x="305.2" y="424.2" width="3.5" height="3.5" fill="#a1a1a1"/><rect x="306.4" y="424.1" width="3.5" height="3.5" fill="#a0a0a0"/><rect x="359.1" y="424.1" width="3.5" height="3.5" fill="#a6a6a6"/><rect x="302.9" y="424.0" width="3.5" height="3.5" fill="#a3a3a3"/><rect x="349.7" y="423.7" width="3.5" height="3.5" fill="#9e9e9e"/><rect x="354.4" y="423.7" width="3.5" height="3.5" fill="#a8a8a8"/><rect x="320.4" y="423.7" width="3.5" height="3.5" fill="#9d9d9d"/><rect x="316.9" y="423.6" width="3.5" height="3.5" fill="#9b9b9b"/><rect x="334.5" y="423.5" width="3.5" height="3.5" fill="#a2a2a2"/><rect x="349.7" y="423.4" width="3.5" height="3.5" fill="#a8a8a8"/><rect x="356.7" y="423.4" width="3.5" height="3.5" fill="#a7a7a7"/><rect x="348.5" y="423.3" width="3.5" height="3.5" fill="#a7a7a7"/><rect x="323.9" y="423.2" width="3.5" height="3.5" fill="#a3a3a3"/><rect x="329.8" y="423.2" width="3.5" height="3.5" fill="#a2a2a2"/><rect x="338.0" y="423.1" width="3.5" height="3.5" fill="#9e9e9e"/><rect x="307.6" y="423.1" width="3.5" height="3.5" fill="#9c9c9c"/><rect x="349.7" y="422.8" width="3.5" height="3.5" fill="#a0a0a0"/><rect x="340.3" y="422.7" width="3.5" height="3.5" fill="#a6a6a6"/><rect x="338.0" y="422.7" width="3.5" height="3.5" fill="#a2a2a2"/><rect x="302.9" y="422.6" width="3.5" height="3.5" fill="#a9a9a9"/><rect x="316.9" y="422.5" width="3.5" height="3.5" fill="#a6a6a6"/><rect x="362.3" y="422.5" width="3.5" height="3.5" fill="#a2a2a2"/><rect x="322.8" y="422.2" width="3.5" height="3.5" fill="#a2a2a2"/><rect x="363.2" y="422.0" width="3.5" height="3.5" fill="#9f9f9f"/><rect x="316.9" y="422.0" width="3.5" height="3.5" fill="#a7a7a7"/><rect x="348.5" y="422.0" width="3.5" height="3.5" fill="#a6a6a6"/><rect x="341.5" y="421.9" width="3.5" height="3.5" fill="#9b9b9b"/><rect x="318.1" y="421.9" width="3.5" height="3.5" fill="#a7a7a7"/><rect x="323.9" y="421.8" width="3.5" height="3.5" fill="#a3a3a3"/><rect x="336.8" y="421.7" width="3.5" height="3.5" fill="#9e9e9e"/><rect x="335.6" y="421.7" width="3.5" height="3.5" fill="#a4a4a4"/><rect x="342.7" y="421.6" width="3.5" height="3.5" fill="#9f9f9f"/><rect x="345.0" y="421.5" width="3.5" height="3.5" fill="#a3a3a3"/><rect x="325.1" y="421.3" width="3.5" height="3.5" fill="#a0a0a0"/><rect x="313.4" y="421.3" width="3.5" height="3.5" fill="#a2a2a2"/><rect x="331.0" y="421.3" width="3.5" height="3.5" fill="#a7a7a7"/><rect x="346.2" y="421.2" width="3.5" height="3.5" fill="#a6a6a6"/><rect x="338.0" y="421.1" width="3.5" height="3.5" fill="#a0a0a0"/><rect x="355.5" y="421.1" width="3.5" height="3.5" fill="#9e9e9e"/><rect x="305.2" y="421.1" width="3.5" height="3.5" fill="#a3a3a3"/><rect x="342.7" y="421.1" width="3.5" height="3.5" fill="#a3a3a3"/><rect x="328.6" y="421.0" width="3.5" height="3.5" fill="#999999"/><rect x="329.8" y="421.0" width="3.5" height="3.5" fill="#a0a0a0"/><rect x="362.0" y="420.9" width="3.5" height="3.5" fill="#9c9c9c"/><rect x="304.1" y="420.7" width="3.5" height="3.5" fill="#a2a2a2"/><rect x="326.3" y="420.6" width="3.5" height="3.5" fill="#9a9a9a"/><rect x="327.5" y="420.5" width="3.5" height="3.5" fill="#9c9c9c"/><rect x="326.3" y="420.5" width="3.5" height="3.5" fill="#9c9c9c"/><rect x="333.3" y="420.5" width="3.5" height="3.5" fill="#9c9c9c"/><rect x="357.9" y="420.4" width="3.5" height="3.5" fill="#a0a0a0"/><rect x="306.4" y="420.4" width="3.5" height="3.5" fill="#a5a5a5"/><rect x="302.9" y="420.3" width="3.5" height="3.5" fill="#a2a2a2"/><rect x="355.5" y="420.3" width="3.5" height="3.5" fill="#a2a2a2"/><rect x="318.1" y="420.3" width="3.5" height="3.5" fill="#a4a4a4"/><rect x="308.7" y="419.9" width="3.5" height="3.5" fill="#9d9d9d"/><rect x="316.9" y="419.8" width="3.5" height="3.5" fill="#9e9e9e"/><rect x="347.4" y="419.8" width="3.5" height="3.5" fill="#a1a1a1"/><rect x="307.6" y="419.8" width="3.5" height="3.5" fill="#9a9a9a"/><rect x="311.1" y="419.7" width="3.5" height="3.5" fill="#a3a3a3"/><rect x="342.7" y="419.7" width="3.5" height="3.5" fill="#a6a6a6"/><rect x="363.4" y="419.7" width="3.5" height="3.5" fill="#a5a5a5"/><rect x="323.9" y="419.7" width="3.5" height="3.5" fill="#989898"/><rect x="339.2" y="419.4" width="3.5" height="3.5" fill="#a5a5a5"/><rect x="336.8" y="419.4" width="3.5" height="3.5" fill="#9a9a9a"/><rect x="318.1" y="419.4" width="3.5" height="3.5" fill="#999999"/><rect x="356.7" y="419.3" width="3.5" height="3.5" fill="#a1a1a1"/><rect x="355.5" y="419.1" width="3.5" height="3.5" fill="#9c9c9c"/><rect x="315.8" y="419.1" width="3.5" height="3.5" fill="#999999"/><rect x="359.1" y="418.9" width="3.5" height="3.5" fill="#a0a0a0"/><rect x="305.2" y="418.7" width="3.5" height="3.5" fill="#9f9f9f"/><rect x="315.8" y="418.7" width="3.5" height="3.5" fill="#9f9f9f"/><rect x="302.9" y="418.7" width="3.5" height="3.5" fill="#9e9e9e"/><rect x="346.2" y="418.6" width="3.5" height="3.5" fill="#a0a0a0"/><rect x="302.9" y="418.6" width="3.5" height="3.5" fill="#a3a3a3"/><rect x="339.2" y="418.6" width="3.5" height="3.5" fill="#a2a2a2"/><rect x="361.6" y="418.4" width="3.5" height="3.5" fill="#a1a1a1"/><rect x="323.9" y="418.4" width="3.5" height="3.5" fill="#a3a3a3"/><rect x="342.7" y="418.4" width="3.5" height="3.5" fill="#9e9e9e"/><rect x="318.1" y="418.3" width="3.5" height="3.5" fill="#a0a0a0"/><rect x="342.7" y="418.1" width="3.5" height="3.5" fill="#989898"/><rect x="333.3" y="418.1" width="3.5" height="3.5" fill="#979797"/><rect x="333.3" y="418.1" width="3.5" height="3.5" fill="#9d9d9d"/><rect x="342.7" y="418.1" width="3.5" height="3.5" fill="#a1a1a1"/><rect x="335.6" y="418.0" width="3.5" height="3.5" fill="#999999"/><rect x="313.4" y="417.9" width="3.5" height="3.5" fill="#a5a5a5"/><rect x="305.2" y="417.9" width="3.5" height="3.5" fill="#9a9a9a"/><rect x="356.7" y="417.7" width="3.5" height="3.5" fill="#9d9d9d"/><rect x="326.3" y="417.6" width="3.5" height="3.5" fill="#9d9d9d"/><rect x="323.9" y="417.6" width="3.5" height="3.5" fill="#a5a5a5"/><rect x="343.8" y="417.6" width="3.5" height="3.5" fill="#989898"/><rect x="366.0" y="417.6" width="3.5" height="3.5" fill="#999999"/><rect x="315.8" y="417.5" width="3.5" height="3.5" fill="#a0a0a0"/><rect x="364.6" y="417.4" width="3.5" height="3.5" fill="#9b9b9b"/><rect x="318.1" y="417.3" width="3.5" height="3.5" fill="#9b9b9b"/><rect x="327.5" y="417.3" width="3.5" height="3.5" fill="#979797"/><rect x="331.0" y="417.2" width="3.5" height="3.5" fill="#a4a4a4"/><rect x="328.6" y="417.2" width="3.5" height="3.5" fill="#9c9c9c"/><rect x="350.9" y="417.2" width="3.5" height="3.5" fill="#9e9e9e"/><rect x="354.4" y="417.0" width="3.5" height="3.5" fill="#999999"/><rect x="346.2" y="416.9" width="3.5" height="3.5" fill="#a4a4a4"/><rect x="359.1" y="416.9" width="3.5" height="3.5" fill="#979797"/><rect x="342.7" y="416.8" width="3.5" height="3.5" fill="#a0a0a0"/><rect x="302.9" y="416.7" width="3.5" height="3.5" fill="#969696"/><rect x="361.7" y="416.7" width="3.5" height="3.5" fill="#9d9d9d"/><rect x="361.6" y="416.6" width="3.5" height="3.5" fill="#9a9a9a"/><rect x="338.0" y="416.4" width="3.5" height="3.5" fill="#a4a4a4"/><rect x="318.1" y="416.3" width="3.5" height="3.5" fill="#9c9c9c"/><rect x="318.1" y="416.2" width="3.5" height="3.5" fill="#a2a2a2"/><rect x="315.8" y="416.2" width="3.5" height="3.5" fill="#959595"/><rect x="357.9" y="416.0" width="3.5" height="3.5" fill="#989898"/><rect x="349.7" y="416.0" width="3.5" height="3.5" fill="#a4a4a4"/><rect x="315.8" y="416.0" width="3.5" height="3.5" fill="#9a9a9a"/><rect x="309.9" y="416.0" width="3.5" height="3.5" fill="#959595"/><rect x="313.4" y="415.9" width="3.5" height="3.5" fill="#989898"/><rect x="359.1" y="415.9" width="3.5" height="3.5" fill="#9a9a9a"/><rect x="311.1" y="415.9" width="3.5" height="3.5" fill="#9d9d9d"/><rect x="309.9" y="415.8" width="3.5" height="3.5" fill="#9a9a9a"/><rect x="360.7" y="415.8" width="3.5" height="3.5" fill="#999999"/><rect x="326.3" y="415.7" width="3.5" height="3.5" fill="#9c9c9c"/><rect x="348.5" y="415.6" width="3.5" height="3.5" fill="#9c9c9c"/><rect x="340.3" y="415.6" width="3.5" height="3.5" fill="#979797"/><rect x="318.1" y="415.6" width="3.5" height="3.5" fill="#9c9c9c"/><rect x="309.9" y="415.5" width="3.5" height="3.5" fill="#9d9d9d"/><rect x="320.4" y="415.5" width="3.5" height="3.5" fill="#9d9d9d"/><rect x="345.0" y="415.5" width="3.5" height="3.5" fill="#a0a0a0"/><rect x="342.7" y="415.3" width="3.5" height="3.5" fill="#9b9b9b"/><rect x="357.9" y="415.3" width="3.5" height="3.5" fill="#979797"/><rect x="348.5" y="415.3" width="3.5" height="3.5" fill="#a3a3a3"/><rect x="345.0" y="415.2" width="3.5" height="3.5" fill="#969696"/><rect x="333.3" y="415.1" width="3.5" height="3.5" fill="#999999"/><rect x="329.8" y="414.9" width="3.5" height="3.5" fill="#9a9a9a"/><rect x="340.3" y="414.8" width="3.5" height="3.5" fill="#9a9a9a"/><rect x="336.8" y="414.8" width="3.5" height="3.5" fill="#979797"/><rect x="329.8" y="414.7" width="3.5" height="3.5" fill="#a1a1a1"/><rect x="366.1" y="414.7" width="3.5" height="3.5" fill="#989898"/><rect x="342.7" y="414.6" width="3.5" height="3.5" fill="#9c9c9c"/><rect x="346.2" y="414.4" width="3.5" height="3.5" fill="#9d9d9d"/><rect x="327.5" y="414.4" width="3.5" height="3.5" fill="#959595"/><rect x="304.1" y="414.3" width="3.5" height="3.5" fill="#9a9a9a"/><rect x="336.8" y="414.3" width="3.5" height="3.5" fill="#959595"/><rect x="354.4" y="414.3" width="3.5" height="3.5" fill="#9c9c9c"/><rect x="301.7" y="414.2" width="3.5" height="3.5" fill="#9f9f9f"/><rect x="334.5" y="414.1" width="3.5" height="3.5" fill="#a1a1a1"/><rect x="309.9" y="414.1" width="3.5" height="3.5" fill="#a2a2a2"/><rect x="319.3" y="414.0" width="3.5" height="3.5" fill="#959595"/><rect x="318.1" y="414.0" width="3.5" height="3.5" fill="#9a9a9a"/><rect x="343.8" y="414.0" width="3.5" height="3.5" fill="#9e9e9e"/><rect x="315.8" y="413.9" width="3.5" height="3.5" fill="#999999"/><rect x="314.6" y="413.9" width="3.5" height="3.5" fill="#a2a2a2"/><rect x="356.7" y="413.8" width="3.5" height="3.5" fill="#9b9b9b"/><rect x="309.9" y="413.6" width="3.5" height="3.5" fill="#a1a1a1"/><rect x="315.8" y="413.6" width="3.5" height="3.5" fill="#949494"/><rect x="304.1" y="413.5" width="3.5" height="3.5" fill="#999999"/><rect x="305.2" y="413.5" width="3.5" height="3.5" fill="#9e9e9e"/><rect x="331.0" y="413.5" width="3.5" height="3.5" fill="#a0a0a0"/><rect x="326.3" y="413.5" width="3.5" height="3.5" fill="#9b9b9b"/><rect x="328.6" y="413.5" width="3.5" height="3.5" fill="#a0a0a0"/><rect x="328.6" y="413.5" width="3.5" height="3.5" fill="#9f9f9f"/><rect x="348.5" y="413.4" width="3.5" height="3.5" fill="#999999"/><rect x="333.3" y="413.3" width="3.5" height="3.5" fill="#9e9e9e"/><rect x="321.6" y="413.3" width="3.5" height="3.5" fill="#9b9b9b"/><rect x="326.3" y="413.2" width="3.5" height="3.5" fill="#949494"/><rect x="352.0" y="413.1" width="3.5" height="3.5" fill="#a1a1a1"/><rect x="357.9" y="413.1" width="3.5" height="3.5" fill="#a0a0a0"/><rect x="319.3" y="412.9" width="3.5" height="3.5" fill="#a1a1a1"/><rect x="314.6" y="412.9" width="3.5" height="3.5" fill="#969696"/><rect x="302.9" y="412.8" width="3.5" height="3.5" fill="#9f9f9f"/><rect x="339.2" y="412.6" width="3.5" height="3.5" fill="#939393"/><rect x="315.8" y="412.6" width="3.5" height="3.5" fill="#9a9a9a"/><rect x="346.2" y="412.6" width="3.5" height="3.5" fill="#979797"/><rect x="350.9" y="412.6" width="3.5" height="3.5" fill="#9a9a9a"/><rect x="338.0" y="412.6" width="3.5" height="3.5" fill="#989898"/><rect x="356.7" y="412.5" width="3.5" height="3.5" fill="#9b9b9b"/><rect x="308.7" y="412.5" width="3.5" height="3.5" fill="#999999"/><rect x="314.6" y="412.5" width="3.5" height="3.5" fill="#9e9e9e"/><rect x="319.3" y="412.4" width="3.5" height="3.5" fill="#9c9c9c"/><rect x="348.5" y="412.2" width="3.5" height="3.5" fill="#969696"/><rect x="338.0" y="411.9" width="3.5" height="3.5" fill="#959595"/><rect x="360.8" y="411.7" width="3.5" height="3.5" fill="#959595"/><rect x="360.0" y="411.7" width="3.5" height="3.5" fill="#979797"/><rect x="354.4" y="411.6" width="3.5" height="3.5" fill="#989898"/><rect x="340.3" y="411.6" width="3.5" height="3.5" fill="#999999"/><rect x="327.5" y="411.6" width="3.5" height="3.5" fill="#9e9e9e"/><rect x="333.3" y="411.5" width="3.5" height="3.5" fill="#a1a1a1"/><rect x="302.9" y="411.5" width="3.5" height="3.5" fill="#959595"/><rect x="318.1" y="411.4" width="3.5" height="3.5" fill="#969696"/><rect x="306.4" y="411.4" width="3.5" height="3.5" fill="#999999"/><rect x="307.6" y="411.3" width="3.5" height="3.5" fill="#919191"/><rect x="322.8" y="411.3" width="3.5" height="3.5" fill="#9b9b9b"/><rect x="318.1" y="411.2" width="3.5" height="3.5" fill="#929292"/><rect x="356.7" y="411.2" width="3.5" height="3.5" fill="#9b9b9b"/><rect x="360.3" y="411.1" width="3.5" height="3.5" fill="#9a9a9a"/><rect x="332.1" y="411.1" width="3.5" height="3.5" fill="#979797"/><rect x="355.5" y="411.1" width="3.5" height="3.5" fill="#a1a1a1"/><rect x="346.2" y="411.0" width="3.5" height="3.5" fill="#969696"/><rect x="342.7" y="410.5" width="3.5" height="3.5" fill="#919191"/><rect x="347.4" y="410.5" width="3.5" height="3.5" fill="#929292"/><rect x="345.0" y="410.5" width="3.5" height="3.5" fill="#949494"/><rect x="343.8" y="410.4" width="3.5" height="3.5" fill="#9c9c9c"/><rect x="326.3" y="410.4" width="3.5" height="3.5" fill="#9c9c9c"/><rect x="332.1" y="410.4" width="3.5" height="3.5" fill="#969696"/><rect x="308.7" y="410.3" width="3.5" height="3.5" fill="#9f9f9f"/><rect x="319.3" y="410.3" width="3.5" height="3.5" fill="#939393"/><rect x="364.4" y="410.3" width="3.5" height="3.5" fill="#949494"/><rect x="347.4" y="410.2" width="3.5" height="3.5" fill="#999999"/><rect x="308.7" y="410.2" width="3.5" height="3.5" fill="#999999"/><rect x="346.2" y="410.1" width="3.5" height="3.5" fill="#9d9d9d"/><rect x="340.3" y="409.9" width="3.5" height="3.5" fill="#959595"/><rect x="338.0" y="409.8" width="3.5" height="3.5" fill="#9e9e9e"/><rect x="326.3" y="409.8" width="3.5" height="3.5" fill="#9a9a9a"/><rect x="334.5" y="409.8" width="3.5" height="3.5" fill="#9b9b9b"/><rect x="334.5" y="409.7" width="3.5" height="3.5" fill="#999999"/><rect x="359.8" y="409.7" width="3.5" height="3.5" fill="#939393"/><rect x="315.8" y="409.6" width="3.5" height="3.5" fill="#999999"/><rect x="313.4" y="409.5" width="3.5" height="3.5" fill="#9f9f9f"/><rect x="352.0" y="409.5" width="3.5" height="3.5" fill="#909090"/><rect x="342.7" y="409.4" width="3.5" height="3.5" fill="#959595"/><rect x="325.1" y="409.3" width="3.5" height="3.5" fill="#959595"/><rect x="353.2" y="409.3" width="3.5" height="3.5" fill="#949494"/><rect x="350.9" y="409.2" width="3.5" height="3.5" fill="#9c9c9c"/><rect x="350.9" y="409.2" width="3.5" height="3.5" fill="#9a9a9a"/><rect x="318.1" y="409.1" width="3.5" height="3.5" fill="#929292"/><rect x="342.7" y="409.1" width="3.5" height="3.5" fill="#9b9b9b"/><rect x="331.0" y="409.0" width="3.5" height="3.5" fill="#9e9e9e"/><rect x="343.8" y="408.9" width="3.5" height="3.5" fill="#909090"/><rect x="361.1" y="408.9" width="3.5" height="3.5" fill="#909090"/><rect x="343.8" y="408.7" width="3.5" height="3.5" fill="#999999"/><rect x="308.7" y="408.5" width="3.5" height="3.5" fill="#9d9d9d"/><rect x="322.8" y="408.5" width="3.5" height="3.5" fill="#989898"/><rect x="314.6" y="408.4" width="3.5" height="3.5" fill="#979797"/><rect x="348.5" y="408.3" width="3.5" height="3.5" fill="#959595"/><rect x="305.2" y="408.2" width="3.5" height="3.5" fill="#989898"/><rect x="335.6" y="408.1" width="3.5" height="3.5" fill="#9d9d9d"/><rect x="313.4" y="408.1" width="3.5" height="3.5" fill="#989898"/><rect x="320.4" y="408.0" width="3.5" height="3.5" fill="#9b9b9b"/><rect x="328.6" y="407.9" width="3.5" height="3.5" fill="#969696"/><rect x="357.9" y="407.9" width="3.5" height="3.5" fill="#9d9d9d"/><rect x="335.6" y="407.8" width="3.5" height="3.5" fill="#9b9b9b"/><rect x="312.2" y="407.7" width="3.5" height="3.5" fill="#979797"/><rect x="319.3" y="407.7" width="3.5" height="3.5" fill="#939393"/><rect x="316.9" y="407.6" width="3.5" height="3.5" fill="#939393"/><rect x="334.5" y="407.6" width="3.5" height="3.5" fill="#9e9e9e"/><rect x="358.0" y="407.5" width="3.5" height="3.5" fill="#999999"/><rect x="353.2" y="407.5" width="3.5" height="3.5" fill="#909090"/><rect x="360.2" y="407.5" width="3.5" height="3.5" fill="#979797"/><rect x="354.4" y="407.4" width="3.5" height="3.5" fill="#959595"/><rect x="321.6" y="407.4" width="3.5" height="3.5" fill="#989898"/><rect x="332.1" y="407.4" width="3.5" height="3.5" fill="#939393"/><rect x="312.2" y="407.3" width="3.5" height="3.5" fill="#9d9d9d"/><rect x="343.8" y="407.3" width="3.5" height="3.5" fill="#969696"/><rect x="342.7" y="407.3" width="3.5" height="3.5" fill="#9c9c9c"/><rect x="320.4" y="407.3" width="3.5" height="3.5" fill="#929292"/><rect x="314.6" y="407.2" width="3.5" height="3.5" fill="#9c9c9c"/><rect x="307.6" y="407.1" width="3.5" height="3.5" fill="#979797"/><rect x="325.1" y="407.1" width="3.5" height="3.5" fill="#979797"/><rect x="342.7" y="406.9" width="3.5" height="3.5" fill="#959595"/><rect x="355.5" y="406.9" width="3.5" height="3.5" fill="#9d9d9d"/><rect x="341.5" y="406.9" width="3.5" height="3.5" fill="#979797"/><rect x="341.5" y="406.9" width="3.5" height="3.5" fill="#979797"/><rect x="341.5" y="406.7" width="3.5" height="3.5" fill="#949494"/><rect x="355.5" y="406.7" width="3.5" height="3.5" fill="#959595"/><rect x="304.1" y="406.6" width="3.5" height="3.5" fill="#929292"/><rect x="339.2" y="406.6" width="3.5" height="3.5" fill="#959595"/><rect x="322.8" y="406.5" width="3.5" height="3.5" fill="#929292"/><rect x="321.6" y="406.5" width="3.5" height="3.5" fill="#8f8f8f"/><rect x="302.9" y="406.4" width="3.5" height="3.5" fill="#939393"/><rect x="312.2" y="406.4" width="3.5" height="3.5" fill="#8e8e8e"/><rect x="302.9" y="406.4" width="3.5" height="3.5" fill="#989898"/><rect x="320.4" y="406.4" width="3.5" height="3.5" fill="#8f8f8f"/><rect x="334.5" y="406.4" width="3.5" height="3.5" fill="#9c9c9c"/><rect x="320.4" y="406.2" width="3.5" height="3.5" fill="#939393"/><rect x="331.0" y="406.1" width="3.5" height="3.5" fill="#929292"/><rect x="305.2" y="406.1" width="3.5" height="3.5" fill="#969696"/><rect x="353.2" y="406.0" width="3.5" height="3.5" fill="#929292"/><rect x="336.8" y="405.9" width="3.5" height="3.5" fill="#999999"/><rect x="356.8" y="405.8" width="3.5" height="3.5" fill="#929292"/><rect x="350.9" y="405.8" width="3.5" height="3.5" fill="#9c9c9c"/><rect x="342.7" y="405.7" width="3.5" height="3.5" fill="#8e8e8e"/><rect x="340.3" y="405.7" width="3.5" height="3.5" fill="#8e8e8e"/><rect x="341.5" y="405.7" width="3.5" height="3.5" fill="#9b9b9b"/><rect x="304.1" y="405.7" width="3.5" height="3.5" fill="#989898"/><rect x="319.3" y="405.7" width="3.5" height="3.5" fill="#919191"/><rect x="336.8" y="405.6" width="3.5" height="3.5" fill="#979797"/><rect x="320.4" y="405.6" width="3.5" height="3.5" fill="#939393"/><rect x="341.5" y="405.4" width="3.5" height="3.5" fill="#959595"/><rect x="326.3" y="405.4" width="3.5" height="3.5" fill="#919191"/><rect x="342.7" y="405.3" width="3.5" height="3.5" fill="#969696"/><rect x="354.4" y="405.3" width="3.5" height="3.5" fill="#979797"/><rect x="353.2" y="405.3" width="3.5" height="3.5" fill="#9a9a9a"/><rect x="338.0" y="405.2" width="3.5" height="3.5" fill="#919191"/><rect x="312.2" y="405.0" width="3.5" height="3.5" fill="#969696"/><rect x="307.6" y="405.0" width="3.5" height="3.5" fill="#969696"/><rect x="355.0" y="404.9" width="3.5" height="3.5" fill="#9b9b9b"/><rect x="326.3" y="404.9" width="3.5" height="3.5" fill="#949494"/><rect x="328.6" y="404.7" width="3.5" height="3.5" fill="#9a9a9a"/><rect x="352.0" y="404.7" width="3.5" height="3.5" fill="#9b9b9b"/><rect x="350.9" y="404.7" width="3.5" height="3.5" fill="#939393"/><rect x="339.2" y="404.7" width="3.5" height="3.5" fill="#939393"/><rect x="353.2" y="404.5" width="3.5" height="3.5" fill="#9c9c9c"/><rect x="334.5" y="404.5" width="3.5" height="3.5" fill="#969696"/><rect x="304.1" y="404.4" width="3.5" height="3.5" fill="#959595"/><rect x="343.8" y="404.3" width="3.5" height="3.5" fill="#999999"/><rect x="314.6" y="404.3" width="3.5" height="3.5" fill="#969696"/><rect x="328.6" y="404.2" width="3.5" height="3.5" fill="#949494"/><rect x="335.6" y="404.1" width="3.5" height="3.5" fill="#979797"/><rect x="304.1" y="404.0" width="3.5" height="3.5" fill="#909090"/><rect x="307.6" y="403.9" width="3.5" height="3.5" fill="#929292"/><rect x="308.7" y="403.8" width="3.5" height="3.5" fill="#8c8c8c"/><rect x="322.8" y="403.7" width="3.5" height="3.5" fill="#979797"/><rect x="320.4" y="403.7" width="3.5" height="3.5" fill="#999999"/><rect x="308.7" y="403.6" width="3.5" height="3.5" fill="#979797"/><rect x="353.8" y="403.6" width="3.5" height="3.5" fill="#9b9b9b"/><rect x="311.1" y="403.6" width="3.5" height="3.5" fill="#989898"/><rect x="319.3" y="403.4" width="3.5" height="3.5" fill="#8d8d8d"/><rect x="329.8" y="403.4" width="3.5" height="3.5" fill="#919191"/><rect x="328.6" y="403.0" width="3.5" height="3.5" fill="#9a9a9a"/><rect x="352.0" y="402.9" width="3.5" height="3.5" fill="#8d8d8d"/><rect x="319.3" y="402.8" width="3.5" height="3.5" fill="#999999"/><rect x="304.1" y="402.8" width="3.5" height="3.5" fill="#989898"/><rect x="312.2" y="402.8" width="3.5" height="3.5" fill="#8d8d8d"/><rect x="331.0" y="402.7" width="3.5" height="3.5" fill="#8e8e8e"/><rect x="352.0" y="402.6" width="3.5" height="3.5" fill="#979797"/><rect x="308.7" y="402.5" width="3.5" height="3.5" fill="#959595"/><rect x="347.4" y="402.4" width="3.5" height="3.5" fill="#8b8b8b"/><rect x="352.8" y="402.4" width="3.5" height="3.5" fill="#939393"/><rect x="341.5" y="402.4" width="3.5" height="3.5" fill="#8e8e8e"/><rect x="338.0" y="402.2" width="3.5" height="3.5" fill="#989898"/><rect x="318.1" y="402.2" width="3.5" height="3.5" fill="#939393"/><rect x="314.6" y="402.2" width="3.5" height="3.5" fill="#8b8b8b"/><rect x="340.3" y="402.1" width="3.5" height="3.5" fill="#919191"/><rect x="339.2" y="402.1" width="3.5" height="3.5" fill="#8b8b8b"/><rect x="355.6" y="402.1" width="3.5" height="3.5" fill="#999999"/><rect x="342.7" y="402.0" width="3.5" height="3.5" fill="#999999"/><rect x="336.8" y="402.0" width="3.5" height="3.5" fill="#969696"/><rect x="328.6" y="402.0" width="3.5" height="3.5" fill="#8b8b8b"/><rect x="329.8" y="401.8" width="3.5" height="3.5" fill="#999999"/><rect x="314.6" y="401.7" width="3.5" height="3.5" fill="#8f8f8f"/><rect x="355.8" y="401.5" width="3.5" height="3.5" fill="#959595"/><rect x="315.8" y="401.4" width="3.5" height="3.5" fill="#969696"/><rect x="320.4" y="401.4" width="3.5" height="3.5" fill="#939393"/><rect x="308.7" y="401.4" width="3.5" height="3.5" fill="#8c8c8c"/><rect x="328.6" y="401.3" width="3.5" height="3.5" fill="#8e8e8e"/><rect x="304.1" y="401.3" width="3.5" height="3.5" fill="#969696"/><rect x="320.4" y="401.2" width="3.5" height="3.5" fill="#8c8c8c"/><rect x="352.8" y="401.0" width="3.5" height="3.5" fill="#909090"/><rect x="349.7" y="400.9" width="3.5" height="3.5" fill="#999999"/><rect x="321.6" y="400.9" width="3.5" height="3.5" fill="#909090"/><rect x="315.8" y="400.9" width="3.5" height="3.5" fill="#8c8c8c"/><rect x="325.1" y="400.8" width="3.5" height="3.5" fill="#949494"/><rect x="311.1" y="400.8" width="3.5" height="3.5" fill="#8f8f8f"/><rect x="321.6" y="400.7" width="3.5" height="3.5" fill="#969696"/><rect x="333.3" y="400.7" width="3.5" height="3.5" fill="#8f8f8f"/><rect x="346.2" y="400.7" width="3.5" height="3.5" fill="#979797"/><rect x="323.9" y="400.7" width="3.5" height="3.5" fill="#979797"/><rect x="336.8" y="400.6" width="3.5" height="3.5" fill="#8c8c8c"/><rect x="331.0" y="400.6" width="3.5" height="3.5" fill="#929292"/><rect x="327.5" y="400.6" width="3.5" height="3.5" fill="#919191"/><rect x="305.2" y="400.5" width="3.5" height="3.5" fill="#8b8b8b"/><rect x="338.0" y="400.5" width="3.5" height="3.5" fill="#989898"/><rect x="348.5" y="400.4" width="3.5" height="3.5" fill="#8f8f8f"/><rect x="332.1" y="400.4" width="3.5" height="3.5" fill="#939393"/><rect x="334.5" y="400.4" width="3.5" height="3.5" fill="#8a8a8a"/><rect x="349.7" y="400.4" width="3.5" height="3.5" fill="#999999"/><rect x="339.2" y="400.3" width="3.5" height="3.5" fill="#999999"/><rect x="335.6" y="400.2" width="3.5" height="3.5" fill="#949494"/><rect x="318.1" y="400.2" width="3.5" height="3.5" fill="#8b8b8b"/><rect x="341.5" y="400.1" width="3.5" height="3.5" fill="#949494"/><rect x="335.6" y="400.1" width="3.5" height="3.5" fill="#919191"/><rect x="319.3" y="399.9" width="3.5" height="3.5" fill="#919191"/><rect x="334.5" y="399.8" width="3.5" height="3.5" fill="#8c8c8c"/><rect x="345.0" y="399.8" width="3.5" height="3.5" fill="#8b8b8b"/><rect x="308.7" y="399.8" width="3.5" height="3.5" fill="#969696"/><rect x="343.8" y="399.7" width="3.5" height="3.5" fill="#939393"/><rect x="327.5" y="399.7" width="3.5" height="3.5" fill="#959595"/><rect x="346.2" y="399.6" width="3.5" height="3.5" fill="#959595"/><rect x="335.6" y="399.5" width="3.5" height="3.5" fill="#8f8f8f"/><rect x="342.7" y="399.5" width="3.5" height="3.5" fill="#929292"/><rect x="313.4" y="399.5" width="3.5" height="3.5" fill="#8e8e8e"/><rect x="301.7" y="399.3" width="3.5" height="3.5" fill="#939393"/><rect x="318.1" y="399.3" width="3.5" height="3.5" fill="#8f8f8f"/><rect x="315.8" y="399.2" width="3.5" height="3.5" fill="#959595"/><rect x="321.6" y="399.1" width="3.5" height="3.5" fill="#8d8d8d"/><rect x="342.7" y="399.0" width="3.5" height="3.5" fill="#8f8f8f"/><rect x="334.5" y="398.9" width="3.5" height="3.5" fill="#8a8a8a"/><rect x="302.9" y="398.9" width="3.5" height="3.5" fill="#898989"/><rect x="350.8" y="398.9" width="3.5" height="3.5" fill="#8c8c8c"/><rect x="348.5" y="398.9" width="3.5" height="3.5" fill="#898989"/><rect x="307.6" y="398.8" width="3.5" height="3.5" fill="#8f8f8f"/><rect x="305.2" y="398.8" width="3.5" height="3.5" fill="#8e8e8e"/><rect x="308.7" y="398.7" width="3.5" height="3.5" fill="#969696"/><rect x="335.6" y="398.7" width="3.5" height="3.5" fill="#898989"/><rect x="325.1" y="398.7" width="3.5" height="3.5" fill="#989898"/><rect x="315.8" y="398.6" width="3.5" height="3.5" fill="#8a8a8a"/><rect x="327.5" y="398.6" width="3.5" height="3.5" fill="#959595"/><rect x="347.4" y="398.5" width="3.5" height="3.5" fill="#8e8e8e"/><rect x="318.1" y="398.4" width="3.5" height="3.5" fill="#8c8c8c"/><rect x="336.8" y="398.4" width="3.5" height="3.5" fill="#929292"/><rect x="325.1" y="398.3" width="3.5" height="3.5" fill="#8e8e8e"/><rect x="325.1" y="398.3" width="3.5" height="3.5" fill="#888888"/><rect x="302.9" y="398.3" width="3.5" height="3.5" fill="#8a8a8a"/><rect x="325.1" y="398.3" width="3.5" height="3.5" fill="#939393"/><rect x="343.8" y="398.3" width="3.5" height="3.5" fill="#939393"/><rect x="304.1" y="398.3" width="3.5" height="3.5" fill="#989898"/><rect x="312.2" y="398.2" width="3.5" height="3.5" fill="#8c8c8c"/><rect x="302.9" y="398.2" width="3.5" height="3.5" fill="#949494"/><rect x="357.7" y="398.2" width="3.5" height="3.5" fill="#8d8d8d"/><rect x="320.4" y="398.2" width="3.5" height="3.5" fill="#909090"/><rect x="340.3" y="398.1" width="3.5" height="3.5" fill="#8c8c8c"/><rect x="327.5" y="398.1" width="3.5" height="3.5" fill="#8e8e8e"/><rect x="307.6" y="398.1" width="3.5" height="3.5" fill="#969696"/><rect x="306.4" y="398.0" width="3.5" height="3.5" fill="#8c8c8c"/><rect x="342.7" y="398.0" width="3.5" height="3.5" fill="#8e8e8e"/><rect x="333.3" y="397.8" width="3.5" height="3.5" fill="#969696"/><rect x="313.4" y="397.8" width="3.5" height="3.5" fill="#8f8f8f"/><rect x="327.5" y="397.8" width="3.5" height="3.5" fill="#959595"/><rect x="315.8" y="397.7" width="3.5" height="3.5" fill="#909090"/><rect x="308.7" y="397.7" width="3.5" height="3.5" fill="#8d8d8d"/><rect x="309.9" y="397.7" width="3.5" height="3.5" fill="#939393"/><rect x="350.2" y="397.6" width="3.5" height="3.5" fill="#929292"/><rect x="318.1" y="397.6" width="3.5" height="3.5" fill="#8d8d8d"/><rect x="313.4" y="397.6" width="3.5" height="3.5" fill="#979797"/><rect x="326.3" y="397.6" width="3.5" height="3.5" fill="#898989"/><rect x="353.4" y="397.5" width="3.5" height="3.5" fill="#959595"/><rect x="322.8" y="397.4" width="3.5" height="3.5" fill="#939393"/><rect x="316.9" y="397.3" width="3.5" height="3.5" fill="#939393"/><rect x="316.9" y="397.3" width="3.5" height="3.5" fill="#8f8f8f"/><rect x="341.5" y="396.9" width="3.5" height="3.5" fill="#939393"/><rect x="340.3" y="396.7" width="3.5" height="3.5" fill="#878787"/><rect x="355.9" y="396.7" width="3.5" height="3.5" fill="#919191"/><rect x="316.9" y="396.7" width="3.5" height="3.5" fill="#959595"/><rect x="339.2" y="396.7" width="3.5" height="3.5" fill="#8d8d8d"/><rect x="334.5" y="396.6" width="3.5" height="3.5" fill="#929292"/><rect x="356.8" y="396.5" width="3.5" height="3.5" fill="#929292"/><rect x="336.8" y="396.5" width="3.5" height="3.5" fill="#8f8f8f"/><rect x="302.9" y="396.4" width="3.5" height="3.5" fill="#939393"/><rect x="326.3" y="396.3" width="3.5" height="3.5" fill="#8e8e8e"/><rect x="302.9" y="396.2" width="3.5" height="3.5" fill="#888888"/><rect x="327.5" y="396.2" width="3.5" height="3.5" fill="#8f8f8f"/><rect x="327.5" y="396.1" width="3.5" height="3.5" fill="#929292"/><rect x="305.2" y="396.0" width="3.5" height="3.5" fill="#898989"/><rect x="302.9" y="395.9" width="3.5" height="3.5" fill="#8e8e8e"/><rect x="312.2" y="395.9" width="3.5" height="3.5" fill="#949494"/><rect x="313.4" y="395.9" width="3.5" height="3.5" fill="#868686"/><rect x="304.1" y="395.9" width="3.5" height="3.5" fill="#949494"/><rect x="313.4" y="395.8" width="3.5" height="3.5" fill="#8c8c8c"/><rect x="305.2" y="395.8" width="3.5" height="3.5" fill="#8c8c8c"/><rect x="325.1" y="395.7" width="3.5" height="3.5" fill="#919191"/><rect x="315.8" y="395.7" width="3.5" height="3.5" fill="#8f8f8f"/><rect x="308.7" y="395.7" width="3.5" height="3.5" fill="#8b8b8b"/><rect x="325.1" y="395.6" width="3.5" height="3.5" fill="#888888"/><rect x="307.6" y="395.6" width="3.5" height="3.5" fill="#8d8d8d"/><rect x="316.9" y="395.5" width="3.5" height="3.5" fill="#949494"/><rect x="307.6" y="395.4" width="3.5" height="3.5" fill="#969696"/><rect x="342.6" y="395.3" width="3.5" height="3.5" fill="#919191"/><rect x="307.6" y="395.3" width="3.5" height="3.5" fill="#919191"/><rect x="312.2" y="395.2" width="3.5" height="3.5" fill="#919191"/><rect x="349.4" y="395.2" width="3.5" height="3.5" fill="#949494"/><rect x="307.6" y="395.0" width="3.5" height="3.5" fill="#888888"/><rect x="305.2" y="395.0" width="3.5" height="3.5" fill="#888888"/><rect x="315.8" y="395.0" width="3.5" height="3.5" fill="#939393"/><rect x="309.9" y="394.9" width="3.5" height="3.5" fill="#868686"/><rect x="308.7" y="394.9" width="3.5" height="3.5" fill="#8e8e8e"/><rect x="326.3" y="394.8" width="3.5" height="3.5" fill="#8c8c8c"/><rect x="311.1" y="394.7" width="3.5" height="3.5" fill="#949494"/><rect x="316.9" y="394.4" width="3.5" height="3.5" fill="#8f8f8f"/><rect x="319.3" y="394.4" width="3.5" height="3.5" fill="#898989"/><rect x="302.9" y="394.4" width="3.5" height="3.5" fill="#868686"/><rect x="313.4" y="394.4" width="3.5" height="3.5" fill="#8d8d8d"/><rect x="318.1" y="394.4" width="3.5" height="3.5" fill="#8e8e8e"/><rect x="311.1" y="394.3" width="3.5" height="3.5" fill="#8d8d8d"/><rect x="304.1" y="393.9" width="3.5" height="3.5" fill="#8e8e8e"/><rect x="308.7" y="393.9" width="3.5" height="3.5" fill="#868686"/><rect x="311.1" y="393.8" width="3.5" height="3.5" fill="#8a8a8a"/><rect x="339.3" y="393.7" width="3.5" height="3.5" fill="#929292"/><rect x="302.9" y="393.7" width="3.5" height="3.5" fill="#898989"/><rect x="307.6" y="393.6" width="3.5" height="3.5" fill="#888888"/><rect x="323.9" y="393.6" width="3.5" height="3.5" fill="#878787"/><rect x="326.3" y="393.6" width="3.5" height="3.5" fill="#949494"/><rect x="312.2" y="393.5" width="3.5" height="3.5" fill="#929292"/><rect x="321.6" y="393.5" width="3.5" height="3.5" fill="#8b8b8b"/><rect x="313.4" y="393.3" width="3.5" height="3.5" fill="#8a8a8a"/><rect x="321.6" y="393.2" width="3.5" height="3.5" fill="#8a8a8a"/><rect x="320.4" y="393.2" width="3.5" height="3.5" fill="#929292"/><rect x="322.8" y="393.2" width="3.5" height="3.5" fill="#939393"/><rect x="318.1" y="393.2" width="3.5" height="3.5" fill="#939393"/><rect x="314.6" y="393.1" width="3.5" height="3.5" fill="#929292"/><rect x="304.1" y="393.0" width="3.5" height="3.5" fill="#8f8f8f"/><rect x="311.1" y="393.0" width="3.5" height="3.5" fill="#868686"/><rect x="315.8" y="392.9" width="3.5" height="3.5" fill="#939393"/><rect x="318.1" y="392.8" width="3.5" height="3.5" fill="#878787"/><rect x="326.3" y="392.8" width="3.5" height="3.5" fill="#909090"/><rect x="309.9" y="392.8" width="3.5" height="3.5" fill="#8a8a8a"/><rect x="312.2" y="392.5" width="3.5" height="3.5" fill="#848484"/><rect x="305.2" y="392.5" width="3.5" height="3.5" fill="#8e8e8e"/><rect x="316.9" y="392.5" width="3.5" height="3.5" fill="#888888"/><rect x="316.9" y="392.4" width="3.5" height="3.5" fill="#929292"/><rect x="305.2" y="392.4" width="3.5" height="3.5" fill="#878787"/><rect x="302.9" y="392.4" width="3.5" height="3.5" fill="#8e8e8e"/><rect x="330.8" y="392.3" width="3.5" height="3.5" fill="#8b8b8b"/><rect x="313.4" y="392.2" width="3.5" height="3.5" fill="#848484"/><rect x="307.6" y="392.2" width="3.5" height="3.5" fill="#888888"/><rect x="307.6" y="392.1" width="3.5" height="3.5" fill="#888888"/><rect x="322.8" y="392.1" width="3.5" height="3.5" fill="#909090"/><rect x="316.9" y="392.1" width="3.5" height="3.5" fill="#909090"/><rect x="311.1" y="392.1" width="3.5" height="3.5" fill="#929292"/><rect x="314.6" y="392.0" width="3.5" height="3.5" fill="#868686"/><rect x="315.8" y="392.0" width="3.5" height="3.5" fill="#878787"/><rect x="327.5" y="392.0" width="3.5" height="3.5" fill="#898989"/><rect x="318.1" y="391.9" width="3.5" height="3.5" fill="#888888"/><rect x="316.9" y="391.7" width="3.5" height="3.5" fill="#868686"/><rect x="309.9" y="391.6" width="3.5" height="3.5" fill="#8f8f8f"/><rect x="309.9" y="391.5" width="3.5" height="3.5" fill="#838383"/><rect x="302.9" y="391.4" width="3.5" height="3.5" fill="#8c8c8c"/><rect x="326.3" y="391.4" width="3.5" height="3.5" fill="#858585"/><rect x="314.6" y="391.4" width="3.5" height="3.5" fill="#888888"/><rect x="331.2" y="391.3" width="3.5" height="3.5" fill="#888888"/><rect x="323.9" y="391.1" width="3.5" height="3.5" fill="#8a8a8a"/><rect x="314.6" y="390.9" width="3.5" height="3.5" fill="#929292"/><rect x="327.5" y="390.8" width="3.5" height="3.5" fill="#8e8e8e"/><rect x="311.1" y="390.6" width="3.5" height="3.5" fill="#898989"/><rect x="306.4" y="390.6" width="3.5" height="3.5" fill="#929292"/><rect x="309.9" y="390.6" width="3.5" height="3.5" fill="#868686"/><rect x="309.9" y="390.5" width="3.5" height="3.5" fill="#858585"/><rect x="307.6" y="390.4" width="3.5" height="3.5" fill="#8c8c8c"/><rect x="309.9" y="390.4" width="3.5" height="3.5" fill="#8f8f8f"/><rect x="307.6" y="390.3" width="3.5" height="3.5" fill="#8e8e8e"/><rect x="305.2" y="390.2" width="3.5" height="3.5" fill="#8a8a8a"/><rect x="306.4" y="390.2" width="3.5" height="3.5" fill="#8e8e8e"/><rect x="315.8" y="390.1" width="3.5" height="3.5" fill="#878787"/><rect x="332.5" y="390.1" width="3.5" height="3.5" fill="#919191"/><rect x="308.7" y="390.1" width="3.5" height="3.5" fill="#8e8e8e"/><rect x="306.4" y="389.9" width="3.5" height="3.5" fill="#8f8f8f"/><rect x="309.9" y="389.5" width="3.5" height="3.5" fill="#8a8a8a"/><rect x="302.9" y="389.4" width="3.5" height="3.5" fill="#909090"/><rect x="307.6" y="389.4" width="3.5" height="3.5" fill="#898989"/><rect x="302.9" y="389.3" width="3.5" height="3.5" fill="#919191"/><rect x="305.2" y="389.3" width="3.5" height="3.5" fill="#898989"/><rect x="321.6" y="389.3" width="3.5" height="3.5" fill="#919191"/><rect x="304.1" y="389.3" width="3.5" height="3.5" fill="#868686"/><rect x="319.3" y="389.3" width="3.5" height="3.5" fill="#8a8a8a"/><rect x="309.9" y="389.2" width="3.5" height="3.5" fill="#8a8a8a"/><rect x="330.9" y="389.1" width="3.5" height="3.5" fill="#8a8a8a"/><rect x="305.2" y="389.1" width="3.5" height="3.5" fill="#8f8f8f"/><rect x="314.6" y="389.1" width="3.5" height="3.5" fill="#8f8f8f"/><rect x="326.3" y="388.9" width="3.5" height="3.5" fill="#848484"/><rect x="308.7" y="388.8" width="3.5" height="3.5" fill="#8c8c8c"/><rect x="327.5" y="388.7" width="3.5" height="3.5" fill="#898989"/><rect x="313.4" y="388.7" width="3.5" height="3.5" fill="#878787"/><rect x="304.1" y="388.6" width="3.5" height="3.5" fill="#838383"/><rect x="309.9" y="388.6" width="3.5" height="3.5" fill="#8f8f8f"/><rect x="322.8" y="388.6" width="3.5" height="3.5" fill="#919191"/><rect x="307.6" y="388.6" width="3.5" height="3.5" fill="#8d8d8d"/><rect x="307.6" y="388.6" width="3.5" height="3.5" fill="#8a8a8a"/><rect x="330.7" y="388.6" width="3.5" height="3.5" fill="#828282"/><rect x="308.7" y="388.4" width="3.5" height="3.5" fill="#868686"/><rect x="305.2" y="388.3" width="3.5" height="3.5" fill="#868686"/><rect x="308.7" y="388.3" width="3.5" height="3.5" fill="#828282"/><rect x="323.9" y="388.2" width="3.5" height="3.5" fill="#878787"/><rect x="311.1" y="388.2" width="3.5" height="3.5" fill="#868686"/><rect x="316.9" y="388.1" width="3.5" height="3.5" fill="#878787"/><rect x="307.6" y="388.0" width="3.5" height="3.5" fill="#828282"/><rect x="306.4" y="388.0" width="3.5" height="3.5" fill="#838383"/><rect x="311.1" y="387.9" width="3.5" height="3.5" fill="#909090"/><rect x="313.4" y="387.9" width="3.5" height="3.5" fill="#898989"/><rect x="305.2" y="387.7" width="3.5" height="3.5" fill="#848484"/><rect x="316.9" y="387.7" width="3.5" height="3.5" fill="#878787"/><rect x="328.5" y="387.6" width="3.5" height="3.5" fill="#868686"/><rect x="302.9" y="387.4" width="3.5" height="3.5" fill="#888888"/><rect x="307.6" y="387.4" width="3.5" height="3.5" fill="#838383"/><rect x="313.4" y="387.3" width="3.5" height="3.5" fill="#8c8c8c"/><rect x="325.1" y="387.2" width="3.5" height="3.5" fill="#8f8f8f"/><rect x="312.2" y="387.2" width="3.5" height="3.5" fill="#8a8a8a"/><rect x="306.4" y="387.1" width="3.5" height="3.5" fill="#8f8f8f"/><rect x="313.4" y="387.1" width="3.5" height="3.5" fill="#8d8d8d"/><rect x="318.1" y="387.1" width="3.5" height="3.5" fill="#888888"/><rect x="309.9" y="387.0" width="3.5" height="3.5" fill="#888888"/><rect x="309.9" y="386.9" width="3.5" height="3.5" fill="#8b8b8b"/><rect x="316.9" y="386.9" width="3.5" height="3.5" fill="#868686"/><rect x="326.3" y="386.9" width="3.5" height="3.5" fill="#818181"/><rect x="314.6" y="386.8" width="3.5" height="3.5" fill="#878787"/><rect x="316.9" y="386.6" width="3.5" height="3.5" fill="#8d8d8d"/><rect x="302.9" y="386.6" width="3.5" height="3.5" fill="#8a8a8a"/><rect x="302.9" y="386.6" width="3.5" height="3.5" fill="#808080"/><rect x="307.6" y="386.6" width="3.5" height="3.5" fill="#8d8d8d"/><rect x="307.6" y="386.4" width="3.5" height="3.5" fill="#808080"/><rect x="315.8" y="386.3" width="3.5" height="3.5" fill="#888888"/><rect x="311.1" y="386.2" width="3.5" height="3.5" fill="#828282"/><rect x="326.3" y="386.1" width="3.5" height="3.5" fill="#848484"/><rect x="312.2" y="386.1" width="3.5" height="3.5" fill="#838383"/><rect x="316.9" y="386.1" width="3.5" height="3.5" fill="#898989"/><rect x="316.9" y="386.1" width="3.5" height="3.5" fill="#8a8a8a"/><rect x="315.8" y="386.1" width="3.5" height="3.5" fill="#8d8d8d"/><rect x="314.6" y="386.0" width="3.5" height="3.5" fill="#878787"/><rect x="302.9" y="385.9" width="3.5" height="3.5" fill="#808080"/><rect x="313.4" y="385.9" width="3.5" height="3.5" fill="#808080"/><rect x="313.4" y="385.7" width="3.5" height="3.5" fill="#808080"/><rect x="327.8" y="385.6" width="3.5" height="3.5" fill="#818181"/><rect x="316.9" y="385.6" width="3.5" height="3.5" fill="#828282"/><rect x="302.9" y="385.6" width="3.5" height="3.5" fill="#838383"/><rect x="321.6" y="385.5" width="3.5" height="3.5" fill="#818181"/><rect x="320.4" y="385.5" width="3.5" height="3.5" fill="#8c8c8c"/><rect x="306.4" y="385.5" width="3.5" height="3.5" fill="#848484"/><rect x="302.9" y="385.4" width="3.5" height="3.5" fill="#868686"/><rect x="313.4" y="385.4" width="3.5" height="3.5" fill="#8b8b8b"/><rect x="325.1" y="385.4" width="3.5" height="3.5" fill="#818181"/><rect x="309.9" y="385.3" width="3.5" height="3.5" fill="#878787"/><rect x="311.1" y="385.1" width="3.5" height="3.5" fill="#7f7f7f"/><rect x="309.9" y="385.1" width="3.5" height="3.5" fill="#868686"/><rect x="304.1" y="385.0" width="3.5" height="3.5" fill="#8d8d8d"/><rect x="311.1" y="384.9" width="3.5" height="3.5" fill="#878787"/><rect x="311.1" y="384.9" width="3.5" height="3.5" fill="#838383"/><rect x="319.3" y="384.7" width="3.5" height="3.5" fill="#888888"/><rect x="314.6" y="384.7" width="3.5" height="3.5" fill="#868686"/><rect x="313.4" y="384.5" width="3.5" height="3.5" fill="#868686"/><rect x="320.4" y="384.5" width="3.5" height="3.5" fill="#888888"/><rect x="314.6" y="384.5" width="3.5" height="3.5" fill="#898989"/><rect x="318.1" y="384.4" width="3.5" height="3.5" fill="#8c8c8c"/><rect x="322.8" y="384.3" width="3.5" height="3.5" fill="#8d8d8d"/><rect x="313.4" y="384.3" width="3.5" height="3.5" fill="#8d8d8d"/><rect x="316.9" y="384.2" width="3.5" height="3.5" fill="#8b8b8b"/><rect x="302.9" y="384.2" width="3.5" height="3.5" fill="#898989"/><rect x="311.1" y="384.0" width="3.5" height="3.5" fill="#8a8a8a"/><rect x="314.6" y="384.0" width="3.5" height="3.5" fill="#818181"/><rect x="312.2" y="383.8" width="3.5" height="3.5" fill="#818181"/><rect x="323.9" y="383.8" width="3.5" height="3.5" fill="#8b8b8b"/><rect x="323.9" y="383.8" width="3.5" height="3.5" fill="#848484"/><rect x="313.4" y="383.5" width="3.5" height="3.5" fill="#7e7e7e"/><rect x="319.3" y="383.5" width="3.5" height="3.5" fill="#898989"/><rect x="311.1" y="383.2" width="3.5" height="3.5" fill="#7f7f7f"/><rect x="313.4" y="383.1" width="3.5" height="3.5" fill="#818181"/><rect x="308.7" y="383.0" width="3.5" height="3.5" fill="#8c8c8c"/><rect x="307.6" y="383.0" width="3.5" height="3.5" fill="#808080"/><rect x="307.6" y="382.9" width="3.5" height="3.5" fill="#8a8a8a"/><rect x="315.8" y="382.9" width="3.5" height="3.5" fill="#818181"/><rect x="308.7" y="382.9" width="3.5" height="3.5" fill="#898989"/><rect x="322.8" y="382.8" width="3.5" height="3.5" fill="#838383"/><rect x="308.7" y="382.8" width="3.5" height="3.5" fill="#868686"/><rect x="314.6" y="382.8" width="3.5" height="3.5" fill="#888888"/><rect x="322.8" y="382.7" width="3.5" height="3.5" fill="#888888"/><rect x="315.8" y="382.7" width="3.5" height="3.5" fill="#808080"/><rect x="312.2" y="382.6" width="3.5" height="3.5" fill="#878787"/><rect x="321.6" y="382.5" width="3.5" height="3.5" fill="#7f7f7f"/><rect x="302.9" y="382.5" width="3.5" height="3.5" fill="#808080"/><rect x="315.8" y="382.3" width="3.5" height="3.5" fill="#898989"/><rect x="312.2" y="382.2" width="3.5" height="3.5" fill="#7f7f7f"/><rect x="322.8" y="382.1" width="3.5" height="3.5" fill="#838383"/><rect x="302.9" y="382.1" width="3.5" height="3.5" fill="#7e7e7e"/><rect x="302.9" y="381.9" width="3.5" height="3.5" fill="#858585"/><rect x="314.6" y="381.8" width="3.5" height="3.5" fill="#7f7f7f"/><rect x="307.6" y="381.8" width="3.5" height="3.5" fill="#828282"/><rect x="319.3" y="381.7" width="3.5" height="3.5" fill="#8c8c8c"/><rect x="311.1" y="381.7" width="3.5" height="3.5" fill="#838383"/><rect x="304.1" y="381.4" width="3.5" height="3.5" fill="#848484"/><rect x="324.4" y="381.3" width="3.5" height="3.5" fill="#7c7c7c"/><rect x="322.8" y="381.2" width="3.5" height="3.5" fill="#808080"/><rect x="320.4" y="381.1" width="3.5" height="3.5" fill="#7d7d7d"/><rect x="308.7" y="381.1" width="3.5" height="3.5" fill="#858585"/><rect x="325.3" y="380.9" width="3.5" height="3.5" fill="#7e7e7e"/><rect x="312.2" y="380.9" width="3.5" height="3.5" fill="#7e7e7e"/><rect x="314.6" y="380.8" width="3.5" height="3.5" fill="#7e7e7e"/><rect x="315.8" y="380.8" width="3.5" height="3.5" fill="#878787"/><rect x="315.8" y="380.7" width="3.5" height="3.5" fill="#868686"/><rect x="320.4" y="380.7" width="3.5" height="3.5" fill="#808080"/><rect x="302.9" y="380.6" width="3.5" height="3.5" fill="#808080"/><rect x="315.8" y="380.6" width="3.5" height="3.5" fill="#808080"/><rect x="314.6" y="380.6" width="3.5" height="3.5" fill="#848484"/><rect x="315.8" y="380.5" width="3.5" height="3.5" fill="#848484"/><rect x="318.1" y="380.5" width="3.5" height="3.5" fill="#7d7d7d"/><rect x="321.6" y="380.4" width="3.5" height="3.5" fill="#7d7d7d"/><rect x="320.4" y="380.3" width="3.5" height="3.5" fill="#858585"/><rect x="306.4" y="380.2" width="3.5" height="3.5" fill="#7f7f7f"/><rect x="307.6" y="380.1" width="3.5" height="3.5" fill="#858585"/><rect x="302.9" y="380.1" width="3.5" height="3.5" fill="#7e7e7e"/><rect x="307.6" y="380.1" width="3.5" height="3.5" fill="#7c7c7c"/><rect x="302.9" y="380.1" width="3.5" height="3.5" fill="#7c7c7c"/><rect x="321.6" y="380.1" width="3.5" height="3.5" fill="#888888"/><rect x="308.7" y="379.9" width="3.5" height="3.5" fill="#838383"/><rect x="304.1" y="379.8" width="3.5" height="3.5" fill="#7b7b7b"/><rect x="321.6" y="379.8" width="3.5" height="3.5" fill="#808080"/><rect x="305.2" y="379.7" width="3.5" height="3.5" fill="#858585"/><rect x="321.6" y="379.6" width="3.5" height="3.5" fill="#7e7e7e"/><rect x="319.3" y="379.6" width="3.5" height="3.5" fill="#888888"/><rect x="301.7" y="379.5" width="3.5" height="3.5" fill="#7a7a7a"/><rect x="314.6" y="379.5" width="3.5" height="3.5" fill="#838383"/><rect x="312.2" y="379.5" width="3.5" height="3.5" fill="#838383"/><rect x="308.7" y="379.4" width="3.5" height="3.5" fill="#7d7d7d"/><rect x="311.1" y="379.2" width="3.5" height="3.5" fill="#8a8a8a"/><rect x="314.6" y="379.2" width="3.5" height="3.5" fill="#838383"/><rect x="315.8" y="379.2" width="3.5" height="3.5" fill="#7c7c7c"/><rect x="329.5" y="379.1" width="3.5" height="3.5" fill="#868686"/><rect x="319.3" y="379.1" width="3.5" height="3.5" fill="#7a7a7a"/><rect x="316.9" y="379.1" width="3.5" height="3.5" fill="#858585"/><rect x="308.7" y="379.1" width="3.5" height="3.5" fill="#878787"/><rect x="312.2" y="378.8" width="3.5" height="3.5" fill="#848484"/><rect x="307.6" y="378.8" width="3.5" height="3.5" fill="#7a7a7a"/><rect x="308.7" y="378.7" width="3.5" height="3.5" fill="#7b7b7b"/><rect x="302.9" y="378.6" width="3.5" height="3.5" fill="#878787"/><rect x="321.6" y="378.6" width="3.5" height="3.5" fill="#878787"/><rect x="307.6" y="378.6" width="3.5" height="3.5" fill="#7e7e7e"/><rect x="302.9" y="378.4" width="3.5" height="3.5" fill="#888888"/><rect x="305.2" y="378.2" width="3.5" height="3.5" fill="#868686"/><rect x="318.1" y="378.2" width="3.5" height="3.5" fill="#7b7b7b"/><rect x="302.9" y="378.1" width="3.5" height="3.5" fill="#878787"/><rect x="306.4" y="378.1" width="3.5" height="3.5" fill="#797979"/><rect x="304.1" y="378.0" width="3.5" height="3.5" fill="#7e7e7e"/><rect x="306.4" y="378.0" width="3.5" height="3.5" fill="#7c7c7c"/><rect x="312.2" y="378.0" width="3.5" height="3.5" fill="#7c7c7c"/><rect x="301.7" y="377.9" width="3.5" height="3.5" fill="#818181"/><rect x="311.1" y="377.9" width="3.5" height="3.5" fill="#7a7a7a"/><rect x="323.5" y="377.8" width="3.5" height="3.5" fill="#888888"/><rect x="306.4" y="377.8" width="3.5" height="3.5" fill="#7c7c7c"/><rect x="323.5" y="377.6" width="3.5" height="3.5" fill="#848484"/><rect x="308.7" y="377.5" width="3.5" height="3.5" fill="#7e7e7e"/><rect x="304.1" y="377.5" width="3.5" height="3.5" fill="#878787"/><rect x="304.1" y="377.5" width="3.5" height="3.5" fill="#828282"/><rect x="302.9" y="377.3" width="3.5" height="3.5" fill="#818181"/><rect x="311.1" y="377.1" width="3.5" height="3.5" fill="#858585"/><rect x="309.9" y="377.0" width="3.5" height="3.5" fill="#818181"/><rect x="316.9" y="376.9" width="3.5" height="3.5" fill="#808080"/><rect x="306.4" y="376.8" width="3.5" height="3.5" fill="#7b7b7b"/><rect x="311.1" y="376.8" width="3.5" height="3.5" fill="#858585"/><rect x="302.9" y="376.7" width="3.5" height="3.5" fill="#828282"/><rect x="314.6" y="376.7" width="3.5" height="3.5" fill="#808080"/><rect x="306.4" y="376.7" width="3.5" height="3.5" fill="#888888"/><rect x="320.4" y="376.7" width="3.5" height="3.5" fill="#808080"/><rect x="307.6" y="376.7" width="3.5" height="3.5" fill="#848484"/><rect x="326.5" y="376.6" width="3.5" height="3.5" fill="#7b7b7b"/><rect x="302.9" y="376.6" width="3.5" height="3.5" fill="#7e7e7e"/><rect x="320.4" y="376.6" width="3.5" height="3.5" fill="#828282"/><rect x="305.2" y="376.5" width="3.5" height="3.5" fill="#7c7c7c"/><rect x="304.1" y="376.4" width="3.5" height="3.5" fill="#888888"/><rect x="314.6" y="376.4" width="3.5" height="3.5" fill="#888888"/><rect x="323.4" y="376.3" width="3.5" height="3.5" fill="#828282"/><rect x="313.4" y="376.3" width="3.5" height="3.5" fill="#838383"/><rect x="315.8" y="376.3" width="3.5" height="3.5" fill="#7c7c7c"/><rect x="306.4" y="376.3" width="3.5" height="3.5" fill="#848484"/><rect x="308.7" y="376.3" width="3.5" height="3.5" fill="#868686"/><rect x="308.7" y="376.2" width="3.5" height="3.5" fill="#7f7f7f"/><rect x="316.9" y="376.0" width="3.5" height="3.5" fill="#818181"/><rect x="313.4" y="375.9" width="3.5" height="3.5" fill="#828282"/><rect x="322.8" y="375.7" width="3.5" height="3.5" fill="#7b7b7b"/><rect x="307.6" y="375.7" width="3.5" height="3.5" fill="#787878"/><rect x="302.9" y="375.5" width="3.5" height="3.5" fill="#7a7a7a"/><rect x="306.4" y="375.5" width="3.5" height="3.5" fill="#808080"/><rect x="309.9" y="375.4" width="3.5" height="3.5" fill="#818181"/><rect x="312.2" y="375.4" width="3.5" height="3.5" fill="#858585"/><rect x="315.8" y="375.4" width="3.5" height="3.5" fill="#7b7b7b"/><rect x="323.9" y="375.4" width="3.5" height="3.5" fill="#7a7a7a"/><rect x="305.2" y="375.3" width="3.5" height="3.5" fill="#7e7e7e"/><rect x="308.7" y="375.2" width="3.5" height="3.5" fill="#7a7a7a"/><rect x="305.2" y="375.2" width="3.5" height="3.5" fill="#7b7b7b"/><rect x="309.9" y="375.1" width="3.5" height="3.5" fill="#7f7f7f"/><rect x="309.9" y="375.0" width="3.5" height="3.5" fill="#828282"/><rect x="305.2" y="374.7" width="3.5" height="3.5" fill="#787878"/><rect x="307.6" y="374.7" width="3.5" height="3.5" fill="#797979"/><rect x="325.2" y="374.7" width="3.5" height="3.5" fill="#7e7e7e"/><rect x="315.8" y="374.6" width="3.5" height="3.5" fill="#7f7f7f"/><rect x="326.4" y="374.4" width="3.5" height="3.5" fill="#797979"/><rect x="323.7" y="374.4" width="3.5" height="3.5" fill="#818181"/><rect x="305.2" y="374.3" width="3.5" height="3.5" fill="#7f7f7f"/><rect x="302.9" y="374.2" width="3.5" height="3.5" fill="#868686"/><rect x="306.4" y="374.2" width="3.5" height="3.5" fill="#868686"/><rect x="323.5" y="374.2" width="3.5" height="3.5" fill="#808080"/><rect x="320.4" y="374.1" width="3.5" height="3.5" fill="#787878"/><rect x="320.4" y="374.0" width="3.5" height="3.5" fill="#7f7f7f"/><rect x="315.8" y="373.9" width="3.5" height="3.5" fill="#7a7a7a"/><rect x="305.2" y="373.8" width="3.5" height="3.5" fill="#7a7a7a"/><rect x="316.9" y="373.7" width="3.5" height="3.5" fill="#777777"/><rect x="314.6" y="373.6" width="3.5" height="3.5" fill="#818181"/><rect x="318.1" y="373.6" width="3.5" height="3.5" fill="#808080"/><rect x="314.6" y="373.5" width="3.5" height="3.5" fill="#7a7a7a"/><rect x="321.6" y="373.5" width="3.5" height="3.5" fill="#797979"/><rect x="309.9" y="373.4" width="3.5" height="3.5" fill="#868686"/><rect x="307.6" y="373.3" width="3.5" height="3.5" fill="#7e7e7e"/><rect x="305.2" y="373.3" width="3.5" height="3.5" fill="#818181"/><rect x="307.6" y="373.2" width="3.5" height="3.5" fill="#797979"/><rect x="318.1" y="373.0" width="3.5" height="3.5" fill="#848484"/><rect x="314.6" y="373.0" width="3.5" height="3.5" fill="#818181"/><rect x="322.8" y="373.0" width="3.5" height="3.5" fill="#7e7e7e"/><rect x="307.6" y="372.7" width="3.5" height="3.5" fill="#777777"/><rect x="318.1" y="372.6" width="3.5" height="3.5" fill="#7c7c7c"/><rect x="306.4" y="372.6" width="3.5" height="3.5" fill="#767676"/><rect x="316.9" y="372.6" width="3.5" height="3.5" fill="#787878"/><rect x="307.6" y="372.6" width="3.5" height="3.5" fill="#828282"/><rect x="322.8" y="372.4" width="3.5" height="3.5" fill="#777777"/><rect x="306.4" y="372.4" width="3.5" height="3.5" fill="#787878"/><rect x="319.3" y="372.2" width="3.5" height="3.5" fill="#7a7a7a"/><rect x="312.2" y="372.1" width="3.5" height="3.5" fill="#848484"/><rect x="302.9" y="372.0" width="3.5" height="3.5" fill="#777777"/><rect x="304.1" y="372.0" width="3.5" height="3.5" fill="#7b7b7b"/><rect x="315.8" y="372.0" width="3.5" height="3.5" fill="#7d7d7d"/><rect x="316.9" y="371.9" width="3.5" height="3.5" fill="#757575"/><rect x="307.6" y="371.8" width="3.5" height="3.5" fill="#7e7e7e"/><rect x="313.4" y="371.8" width="3.5" height="3.5" fill="#767676"/><rect x="307.6" y="371.6" width="3.5" height="3.5" fill="#7a7a7a"/><rect x="305.2" y="371.5" width="3.5" height="3.5" fill="#797979"/><rect x="307.6" y="371.5" width="3.5" height="3.5" fill="#848484"/><rect x="324.0" y="371.5" width="3.5" height="3.5" fill="#7b7b7b"/><rect x="314.6" y="371.3" width="3.5" height="3.5" fill="#797979"/><rect x="307.6" y="371.1" width="3.5" height="3.5" fill="#797979"/><rect x="312.2" y="371.0" width="3.5" height="3.5" fill="#797979"/><rect x="306.4" y="371.0" width="3.5" height="3.5" fill="#767676"/><rect x="316.9" y="370.9" width="3.5" height="3.5" fill="#797979"/><rect x="302.9" y="370.9" width="3.5" height="3.5" fill="#7f7f7f"/><rect x="314.6" y="370.8" width="3.5" height="3.5" fill="#797979"/><rect x="304.1" y="370.5" width="3.5" height="3.5" fill="#777777"/><rect x="306.4" y="370.3" width="3.5" height="3.5" fill="#747474"/><rect x="322.8" y="370.3" width="3.5" height="3.5" fill="#808080"/><rect x="313.4" y="370.3" width="3.5" height="3.5" fill="#787878"/><rect x="316.9" y="370.3" width="3.5" height="3.5" fill="#787878"/><rect x="320.4" y="370.2" width="3.5" height="3.5" fill="#818181"/><rect x="313.4" y="370.1" width="3.5" height="3.5" fill="#838383"/><rect x="318.1" y="370.1" width="3.5" height="3.5" fill="#7c7c7c"/><rect x="309.9" y="370.1" width="3.5" height="3.5" fill="#747474"/><rect x="315.8" y="370.0" width="3.5" height="3.5" fill="#818181"/><rect x="320.4" y="369.8" width="3.5" height="3.5" fill="#7f7f7f"/><rect x="308.7" y="369.8" width="3.5" height="3.5" fill="#737373"/><rect x="305.2" y="369.7" width="3.5" height="3.5" fill="#787878"/><rect x="313.4" y="369.7" width="3.5" height="3.5" fill="#808080"/><rect x="321.6" y="369.6" width="3.5" height="3.5" fill="#7a7a7a"/><rect x="311.1" y="369.6" width="3.5" height="3.5" fill="#767676"/><rect x="318.1" y="369.5" width="3.5" height="3.5" fill="#838383"/><rect x="318.1" y="369.5" width="3.5" height="3.5" fill="#767676"/><rect x="302.9" y="369.4" width="3.5" height="3.5" fill="#767676"/><rect x="308.7" y="369.2" width="3.5" height="3.5" fill="#7e7e7e"/><rect x="307.6" y="369.0" width="3.5" height="3.5" fill="#828282"/><rect x="304.1" y="368.9" width="3.5" height="3.5" fill="#7e7e7e"/><rect x="318.1" y="368.8" width="3.5" height="3.5" fill="#737373"/><rect x="302.9" y="368.8" width="3.5" height="3.5" fill="#737373"/><rect x="308.7" y="368.7" width="3.5" height="3.5" fill="#767676"/><rect x="313.4" y="368.7" width="3.5" height="3.5" fill="#7d7d7d"/><rect x="320.4" y="368.6" width="3.5" height="3.5" fill="#818181"/><rect x="311.1" y="368.6" width="3.5" height="3.5" fill="#747474"/><rect x="320.4" y="368.5" width="3.5" height="3.5" fill="#7d7d7d"/><rect x="302.9" y="368.5" width="3.5" height="3.5" fill="#7d7d7d"/><rect x="314.6" y="368.5" width="3.5" height="3.5" fill="#737373"/><rect x="320.4" y="368.5" width="3.5" height="3.5" fill="#808080"/><rect x="307.6" y="368.4" width="3.5" height="3.5" fill="#777777"/><rect x="315.8" y="368.3" width="3.5" height="3.5" fill="#787878"/><rect x="307.6" y="368.3" width="3.5" height="3.5" fill="#7f7f7f"/><rect x="316.9" y="368.3" width="3.5" height="3.5" fill="#7b7b7b"/><rect x="321.6" y="368.2" width="3.5" height="3.5" fill="#7c7c7c"/><rect x="314.6" y="368.2" width="3.5" height="3.5" fill="#737373"/><rect x="301.7" y="368.2" width="3.5" height="3.5" fill="#7c7c7c"/><rect x="308.7" y="368.2" width="3.5" height="3.5" fill="#747474"/><rect x="316.9" y="368.1" width="3.5" height="3.5" fill="#7f7f7f"/><rect x="328.5" y="368.0" width="3.5" height="3.5" fill="#7e7e7e"/><rect x="309.9" y="367.9" width="3.5" height="3.5" fill="#7c7c7c"/><rect x="318.1" y="367.7" width="3.5" height="3.5" fill="#7c7c7c"/><rect x="304.1" y="367.6" width="3.5" height="3.5" fill="#818181"/><rect x="306.4" y="367.6" width="3.5" height="3.5" fill="#7f7f7f"/><rect x="315.8" y="367.6" width="3.5" height="3.5" fill="#7d7d7d"/><rect x="322.9" y="367.6" width="3.5" height="3.5" fill="#777777"/><rect x="312.2" y="367.5" width="3.5" height="3.5" fill="#717171"/><rect x="321.6" y="367.4" width="3.5" height="3.5" fill="#818181"/><rect x="311.1" y="367.4" width="3.5" height="3.5" fill="#727272"/><rect x="302.9" y="367.3" width="3.5" height="3.5" fill="#727272"/><rect x="319.3" y="367.3" width="3.5" height="3.5" fill="#7b7b7b"/><rect x="308.7" y="367.3" width="3.5" height="3.5" fill="#818181"/><rect x="315.8" y="367.2" width="3.5" height="3.5" fill="#787878"/><rect x="309.9" y="367.2" width="3.5" height="3.5" fill="#747474"/><rect x="302.9" y="367.1" width="3.5" height="3.5" fill="#717171"/><rect x="304.1" y="367.0" width="3.5" height="3.5" fill="#737373"/><rect x="324.3" y="366.8" width="3.5" height="3.5" fill="#777777"/><rect x="304.1" y="366.8" width="3.5" height="3.5" fill="#767676"/><rect x="305.2" y="366.8" width="3.5" height="3.5" fill="#757575"/><rect x="319.3" y="366.8" width="3.5" height="3.5" fill="#7f7f7f"/><rect x="316.9" y="366.7" width="3.5" height="3.5" fill="#818181"/><rect x="314.6" y="366.7" width="3.5" height="3.5" fill="#808080"/><rect x="306.4" y="366.7" width="3.5" height="3.5" fill="#747474"/><rect x="306.4" y="366.6" width="3.5" height="3.5" fill="#7c7c7c"/><rect x="319.3" y="366.6" width="3.5" height="3.5" fill="#737373"/><rect x="318.1" y="366.5" width="3.5" height="3.5" fill="#787878"/><rect x="302.9" y="366.2" width="3.5" height="3.5" fill="#787878"/><rect x="315.8" y="366.0" width="3.5" height="3.5" fill="#757575"/><rect x="320.4" y="366.0" width="3.5" height="3.5" fill="#7d7d7d"/><rect x="323.0" y="365.9" width="3.5" height="3.5" fill="#747474"/><rect x="315.8" y="365.8" width="3.5" height="3.5" fill="#7d7d7d"/><rect x="322.9" y="365.8" width="3.5" height="3.5" fill="#7c7c7c"/><rect x="320.4" y="365.6" width="3.5" height="3.5" fill="#7a7a7a"/><rect x="304.1" y="365.6" width="3.5" height="3.5" fill="#717171"/><rect x="318.1" y="365.6" width="3.5" height="3.5" fill="#727272"/><rect x="318.1" y="365.5" width="3.5" height="3.5" fill="#7d7d7d"/><rect x="327.8" y="365.5" width="3.5" height="3.5" fill="#7f7f7f"/><rect x="306.4" y="365.5" width="3.5" height="3.5" fill="#747474"/><rect x="322.8" y="365.4" width="3.5" height="3.5" fill="#7a7a7a"/><rect x="321.6" y="365.3" width="3.5" height="3.5" fill="#7c7c7c"/><rect x="312.2" y="365.3" width="3.5" height="3.5" fill="#7e7e7e"/><rect x="305.2" y="365.3" width="3.5" height="3.5" fill="#727272"/><rect x="312.2" y="365.0" width="3.5" height="3.5" fill="#737373"/><rect x="313.4" y="364.8" width="3.5" height="3.5" fill="#707070"/><rect x="314.6" y="364.7" width="3.5" height="3.5" fill="#7a7a7a"/><rect x="309.9" y="364.7" width="3.5" height="3.5" fill="#757575"/><rect x="321.6" y="364.6" width="3.5" height="3.5" fill="#7a7a7a"/><rect x="304.1" y="364.6" width="3.5" height="3.5" fill="#727272"/><rect x="325.3" y="364.6" width="3.5" height="3.5" fill="#797979"/><rect x="316.9" y="364.5" width="3.5" height="3.5" fill="#737373"/><rect x="319.3" y="364.1" width="3.5" height="3.5" fill="#767676"/><rect x="318.1" y="363.9" width="3.5" height="3.5" fill="#787878"/><rect x="302.9" y="363.7" width="3.5" height="3.5" fill="#7e7e7e"/><rect x="304.1" y="363.7" width="3.5" height="3.5" fill="#717171"/><rect x="313.4" y="363.6" width="3.5" height="3.5" fill="#7b7b7b"/><rect x="315.8" y="363.6" width="3.5" height="3.5" fill="#6f6f6f"/><rect x="302.9" y="363.5" width="3.5" height="3.5" fill="#717171"/><rect x="313.4" y="363.5" width="3.5" height="3.5" fill="#797979"/><rect x="302.9" y="363.5" width="3.5" height="3.5" fill="#707070"/><rect x="319.3" y="363.5" width="3.5" height="3.5" fill="#7c7c7c"/><rect x="324.7" y="363.4" width="3.5" height="3.5" fill="#7c7c7c"/><rect x="307.6" y="363.4" width="3.5" height="3.5" fill="#727272"/><rect x="320.4" y="363.4" width="3.5" height="3.5" fill="#797979"/><rect x="319.3" y="363.4" width="3.5" height="3.5" fill="#787878"/><rect x="318.1" y="363.3" width="3.5" height="3.5" fill="#7e7e7e"/><rect x="323.3" y="363.3" width="3.5" height="3.5" fill="#767676"/><rect x="316.9" y="363.3" width="3.5" height="3.5" fill="#747474"/><rect x="322.9" y="363.2" width="3.5" height="3.5" fill="#7c7c7c"/><rect x="305.2" y="363.2" width="3.5" height="3.5" fill="#727272"/><rect x="319.3" y="363.1" width="3.5" height="3.5" fill="#7d7d7d"/><rect x="309.9" y="363.0" width="3.5" height="3.5" fill="#747474"/><rect x="319.3" y="363.0" width="3.5" height="3.5" fill="#747474"/><rect x="304.1" y="363.0" width="3.5" height="3.5" fill="#7b7b7b"/><rect x="319.3" y="362.9" width="3.5" height="3.5" fill="#7a7a7a"/><rect x="311.1" y="362.8" width="3.5" height="3.5" fill="#717171"/><rect x="309.9" y="362.8" width="3.5" height="3.5" fill="#787878"/><rect x="302.9" y="362.8" width="3.5" height="3.5" fill="#7d7d7d"/><rect x="312.2" y="362.8" width="3.5" height="3.5" fill="#747474"/><rect x="306.4" y="362.7" width="3.5" height="3.5" fill="#777777"/><rect x="315.8" y="362.7" width="3.5" height="3.5" fill="#787878"/><rect x="306.4" y="362.6" width="3.5" height="3.5" fill="#797979"/><rect x="315.8" y="362.6" width="3.5" height="3.5" fill="#747474"/><rect x="309.9" y="362.5" width="3.5" height="3.5" fill="#747474"/><rect x="306.4" y="362.5" width="3.5" height="3.5" fill="#707070"/><rect x="311.1" y="362.5" width="3.5" height="3.5" fill="#777777"/><rect x="316.9" y="362.5" width="3.5" height="3.5" fill="#737373"/><rect x="319.3" y="362.5" width="3.5" height="3.5" fill="#7a7a7a"/><rect x="320.4" y="362.4" width="3.5" height="3.5" fill="#6e6e6e"/><rect x="305.2" y="362.3" width="3.5" height="3.5" fill="#797979"/><rect x="307.6" y="362.3" width="3.5" height="3.5" fill="#707070"/><rect x="321.6" y="362.2" width="3.5" height="3.5" fill="#7b7b7b"/><rect x="306.4" y="362.2" width="3.5" height="3.5" fill="#7a7a7a"/><rect x="312.2" y="362.2" width="3.5" height="3.5" fill="#737373"/><rect x="316.9" y="362.2" width="3.5" height="3.5" fill="#6f6f6f"/><rect x="312.2" y="362.1" width="3.5" height="3.5" fill="#717171"/><rect x="313.4" y="362.0" width="3.5" height="3.5" fill="#707070"/><rect x="321.6" y="362.0" width="3.5" height="3.5" fill="#7d7d7d"/><rect x="313.4" y="361.9" width="3.5" height="3.5" fill="#7a7a7a"/><rect x="306.4" y="361.9" width="3.5" height="3.5" fill="#6d6d6d"/><rect x="315.8" y="361.8" width="3.5" height="3.5" fill="#6d6d6d"/><rect x="305.2" y="361.8" width="3.5" height="3.5" fill="#767676"/><rect x="323.0" y="361.8" width="3.5" height="3.5" fill="#747474"/><rect x="302.9" y="361.8" width="3.5" height="3.5" fill="#767676"/><rect x="308.7" y="361.7" width="3.5" height="3.5" fill="#7a7a7a"/><rect x="312.2" y="361.5" width="3.5" height="3.5" fill="#7a7a7a"/><rect x="309.9" y="361.4" width="3.5" height="3.5" fill="#6f6f6f"/><rect x="306.4" y="361.2" width="3.5" height="3.5" fill="#7c7c7c"/><rect x="306.4" y="361.1" width="3.5" height="3.5" fill="#747474"/><rect x="312.2" y="360.9" width="3.5" height="3.5" fill="#747474"/><rect x="305.2" y="360.8" width="3.5" height="3.5" fill="#6f6f6f"/><rect x="309.9" y="360.7" width="3.5" height="3.5" fill="#707070"/><rect x="302.9" y="360.7" width="3.5" height="3.5" fill="#6f6f6f"/><rect x="314.6" y="360.6" width="3.5" height="3.5" fill="#707070"/><rect x="309.9" y="360.6" width="3.5" height="3.5" fill="#757575"/><rect x="308.7" y="360.6" width="3.5" height="3.5" fill="#707070"/><rect x="312.2" y="360.6" width="3.5" height="3.5" fill="#707070"/><rect x="313.4" y="360.5" width="3.5" height="3.5" fill="#6e6e6e"/><rect x="318.1" y="360.5" width="3.5" height="3.5" fill="#6d6d6d"/><rect x="309.9" y="360.4" width="3.5" height="3.5" fill="#7a7a7a"/><rect x="305.2" y="360.4" width="3.5" height="3.5" fill="#737373"/><rect x="309.9" y="360.3" width="3.5" height="3.5" fill="#737373"/><rect x="315.8" y="360.1" width="3.5" height="3.5" fill="#6e6e6e"/><rect x="304.1" y="360.1" width="3.5" height="3.5" fill="#7b7b7b"/><rect x="315.8" y="360.1" width="3.5" height="3.5" fill="#6c6c6c"/><rect x="312.2" y="360.0" width="3.5" height="3.5" fill="#787878"/><rect x="314.6" y="359.8" width="3.5" height="3.5" fill="#6c6c6c"/><rect x="313.4" y="359.8" width="3.5" height="3.5" fill="#707070"/><rect x="306.4" y="359.7" width="3.5" height="3.5" fill="#737373"/><rect x="314.6" y="359.6" width="3.5" height="3.5" fill="#737373"/><rect x="305.2" y="359.6" width="3.5" height="3.5" fill="#767676"/><rect x="304.1" y="359.6" width="3.5" height="3.5" fill="#747474"/><rect x="320.4" y="359.5" width="3.5" height="3.5" fill="#767676"/><rect x="302.9" y="359.5" width="3.5" height="3.5" fill="#6c6c6c"/><rect x="315.8" y="359.3" width="3.5" height="3.5" fill="#707070"/><rect x="302.9" y="359.2" width="3.5" height="3.5" fill="#6f6f6f"/><rect x="305.2" y="359.2" width="3.5" height="3.5" fill="#737373"/><rect x="306.4" y="359.2" width="3.5" height="3.5" fill="#727272"/><rect x="304.1" y="359.1" width="3.5" height="3.5" fill="#6d6d6d"/><rect x="315.8" y="359.0" width="3.5" height="3.5" fill="#6d6d6d"/><rect x="304.1" y="358.9" width="3.5" height="3.5" fill="#6c6c6c"/><rect x="312.2" y="358.9" width="3.5" height="3.5" fill="#6c6c6c"/><rect x="325.9" y="358.9" width="3.5" height="3.5" fill="#757575"/><rect x="302.9" y="358.9" width="3.5" height="3.5" fill="#7a7a7a"/><rect x="308.7" y="358.9" width="3.5" height="3.5" fill="#747474"/><rect x="316.9" y="358.7" width="3.5" height="3.5" fill="#6e6e6e"/><rect x="321.9" y="358.5" width="3.5" height="3.5" fill="#747474"/><rect x="321.6" y="358.5" width="3.5" height="3.5" fill="#727272"/><rect x="321.6" y="358.5" width="3.5" height="3.5" fill="#6f6f6f"/><rect x="308.7" y="358.5" width="3.5" height="3.5" fill="#777777"/><rect x="320.4" y="358.3" width="3.5" height="3.5" fill="#6e6e6e"/><rect x="306.4" y="358.3" width="3.5" height="3.5" fill="#6f6f6f"/><rect x="319.3" y="358.3" width="3.5" height="3.5" fill="#6b6b6b"/><rect x="323.4" y="358.3" width="3.5" height="3.5" fill="#6e6e6e"/><rect x="307.6" y="358.3" width="3.5" height="3.5" fill="#797979"/><rect x="307.6" y="358.2" width="3.5" height="3.5" fill="#727272"/><rect x="308.7" y="358.0" width="3.5" height="3.5" fill="#767676"/><rect x="319.3" y="358.0" width="3.5" height="3.5" fill="#727272"/><rect x="302.9" y="357.9" width="3.5" height="3.5" fill="#6e6e6e"/><rect x="308.7" y="357.9" width="3.5" height="3.5" fill="#707070"/><rect x="306.4" y="357.9" width="3.5" height="3.5" fill="#727272"/><rect x="302.9" y="357.7" width="3.5" height="3.5" fill="#6f6f6f"/><rect x="315.8" y="357.7" width="3.5" height="3.5" fill="#727272"/><rect x="314.6" y="357.7" width="3.5" height="3.5" fill="#6a6a6a"/><rect x="319.3" y="357.5" width="3.5" height="3.5" fill="#707070"/><rect x="307.6" y="357.5" width="3.5" height="3.5" fill="#6b6b6b"/><rect x="304.1" y="357.4" width="3.5" height="3.5" fill="#717171"/><rect x="313.4" y="357.4" width="3.5" height="3.5" fill="#727272"/><rect x="309.9" y="357.3" width="3.5" height="3.5" fill="#787878"/><rect x="306.4" y="357.1" width="3.5" height="3.5" fill="#777777"/><rect x="315.8" y="357.0" width="3.5" height="3.5" fill="#777777"/><rect x="314.6" y="356.9" width="3.5" height="3.5" fill="#707070"/><rect x="302.9" y="356.9" width="3.5" height="3.5" fill="#6e6e6e"/><rect x="308.7" y="356.9" width="3.5" height="3.5" fill="#777777"/><rect x="313.4" y="356.9" width="3.5" height="3.5" fill="#6b6b6b"/><rect x="312.2" y="356.8" width="3.5" height="3.5" fill="#6f6f6f"/><rect x="302.9" y="356.8" width="3.5" height="3.5" fill="#6a6a6a"/><rect x="323.0" y="356.8" width="3.5" height="3.5" fill="#767676"/><rect x="318.1" y="356.8" width="3.5" height="3.5" fill="#757575"/><rect x="302.9" y="356.8" width="3.5" height="3.5" fill="#787878"/><rect x="305.2" y="356.8" width="3.5" height="3.5" fill="#6c6c6c"/><rect x="305.2" y="356.7" width="3.5" height="3.5" fill="#767676"/><rect x="312.2" y="356.7" width="3.5" height="3.5" fill="#747474"/><rect x="304.1" y="356.7" width="3.5" height="3.5" fill="#727272"/><rect x="307.6" y="356.6" width="3.5" height="3.5" fill="#707070"/><rect x="313.4" y="356.6" width="3.5" height="3.5" fill="#767676"/><rect x="309.9" y="356.4" width="3.5" height="3.5" fill="#707070"/><rect x="311.1" y="356.3" width="3.5" height="3.5" fill="#787878"/><rect x="308.7" y="356.2" width="3.5" height="3.5" fill="#777777"/><rect x="311.1" y="356.1" width="3.5" height="3.5" fill="#6e6e6e"/><rect x="320.4" y="355.9" width="3.5" height="3.5" fill="#717171"/><rect x="305.2" y="355.9" width="3.5" height="3.5" fill="#6f6f6f"/><rect x="311.1" y="355.7" width="3.5" height="3.5" fill="#777777"/><rect x="305.2" y="355.6" width="3.5" height="3.5" fill="#767676"/><rect x="304.1" y="355.5" width="3.5" height="3.5" fill="#6e6e6e"/><rect x="322.5" y="355.4" width="3.5" height="3.5" fill="#6e6e6e"/><rect x="312.2" y="355.3" width="3.5" height="3.5" fill="#6d6d6d"/><rect x="318.1" y="355.3" width="3.5" height="3.5" fill="#727272"/><rect x="315.8" y="355.1" width="3.5" height="3.5" fill="#727272"/><rect x="313.4" y="354.8" width="3.5" height="3.5" fill="#717171"/><rect x="309.9" y="354.7" width="3.5" height="3.5" fill="#707070"/><rect x="309.9" y="354.6" width="3.5" height="3.5" fill="#727272"/><rect x="307.6" y="354.4" width="3.5" height="3.5" fill="#676767"/><rect x="314.6" y="354.3" width="3.5" height="3.5" fill="#6f6f6f"/><rect x="320.4" y="353.9" width="3.5" height="3.5" fill="#727272"/><rect x="305.2" y="353.8" width="3.5" height="3.5" fill="#727272"/><rect x="302.9" y="353.7" width="3.5" height="3.5" fill="#747474"/><rect x="315.8" y="353.5" width="3.5" height="3.5" fill="#6a6a6a"/><rect x="320.4" y="353.5" width="3.5" height="3.5" fill="#757575"/><rect x="302.9" y="353.3" width="3.5" height="3.5" fill="#767676"/><rect x="321.3" y="353.2" width="3.5" height="3.5" fill="#707070"/><rect x="306.4" y="353.0" width="3.5" height="3.5" fill="#737373"/><rect x="320.5" y="353.0" width="3.5" height="3.5" fill="#696969"/><rect x="318.1" y="353.0" width="3.5" height="3.5" fill="#696969"/><rect x="307.6" y="352.9" width="3.5" height="3.5" fill="#696969"/><rect x="325.3" y="352.5" width="3.5" height="3.5" fill="#6e6e6e"/><rect x="326.0" y="352.5" width="3.5" height="3.5" fill="#747474"/><rect x="302.9" y="352.4" width="3.5" height="3.5" fill="#6b6b6b"/><rect x="312.2" y="352.4" width="3.5" height="3.5" fill="#747474"/><rect x="320.3" y="352.3" width="3.5" height="3.5" fill="#737373"/><rect x="320.8" y="352.3" width="3.5" height="3.5" fill="#666666"/><rect x="308.7" y="352.3" width="3.5" height="3.5" fill="#666666"/><rect x="305.2" y="352.1" width="3.5" height="3.5" fill="#757575"/><rect x="307.6" y="352.0" width="3.5" height="3.5" fill="#6d6d6d"/><rect x="308.7" y="352.0" width="3.5" height="3.5" fill="#727272"/><rect x="302.9" y="351.9" width="3.5" height="3.5" fill="#737373"/><rect x="304.1" y="351.9" width="3.5" height="3.5" fill="#6a6a6a"/><rect x="322.0" y="351.9" width="3.5" height="3.5" fill="#656565"/><rect x="316.9" y="351.5" width="3.5" height="3.5" fill="#737373"/><rect x="302.9" y="351.5" width="3.5" height="3.5" fill="#747474"/><rect x="314.6" y="351.3" width="3.5" height="3.5" fill="#6b6b6b"/><rect x="319.3" y="351.1" width="3.5" height="3.5" fill="#6f6f6f"/><rect x="319.3" y="351.1" width="3.5" height="3.5" fill="#656565"/><rect x="322.6" y="351.0" width="3.5" height="3.5" fill="#737373"/><rect x="302.9" y="350.9" width="3.5" height="3.5" fill="#6e6e6e"/><rect x="319.8" y="350.9" width="3.5" height="3.5" fill="#747474"/><rect x="302.9" y="350.8" width="3.5" height="3.5" fill="#6f6f6f"/><rect x="315.8" y="350.8" width="3.5" height="3.5" fill="#6a6a6a"/><rect x="314.6" y="350.6" width="3.5" height="3.5" fill="#676767"/><rect x="311.1" y="350.4" width="3.5" height="3.5" fill="#6c6c6c"/><rect x="307.6" y="350.2" width="3.5" height="3.5" fill="#727272"/><rect x="306.4" y="350.2" width="3.5" height="3.5" fill="#6c6c6c"/><rect x="313.4" y="349.9" width="3.5" height="3.5" fill="#6c6c6c"/><rect x="307.6" y="349.5" width="3.5" height="3.5" fill="#676767"/><rect x="313.4" y="349.3" width="3.5" height="3.5" fill="#656565"/><rect x="313.4" y="349.3" width="3.5" height="3.5" fill="#676767"/><rect x="302.9" y="349.2" width="3.5" height="3.5" fill="#686868"/><rect x="302.9" y="349.2" width="3.5" height="3.5" fill="#6a6a6a"/><rect x="314.6" y="348.8" width="3.5" height="3.5" fill="#727272"/><rect x="311.1" y="348.8" width="3.5" height="3.5" fill="#676767"/><rect x="316.9" y="348.6" width="3.5" height="3.5" fill="#666666"/><rect x="314.6" y="348.6" width="3.5" height="3.5" fill="#6e6e6e"/><rect x="312.2" y="348.5" width="3.5" height="3.5" fill="#717171"/><rect x="311.1" y="348.4" width="3.5" height="3.5" fill="#666666"/><rect x="313.4" y="348.0" width="3.5" height="3.5" fill="#676767"/><rect x="308.7" y="347.9" width="3.5" height="3.5" fill="#686868"/><rect x="312.2" y="347.8" width="3.5" height="3.5" fill="#636363"/><rect x="306.4" y="347.3" width="3.5" height="3.5" fill="#636363"/><rect x="311.1" y="347.2" width="3.5" height="3.5" fill="#6a6a6a"/><rect x="307.6" y="347.1" width="3.5" height="3.5" fill="#656565"/><rect x="316.9" y="346.8" width="3.5" height="3.5" fill="#656565"/><rect x="305.2" y="346.7" width="3.5" height="3.5" fill="#6e6e6e"/><rect x="302.9" y="346.7" width="3.5" height="3.5" fill="#696969"/><rect x="306.4" y="346.5" width="3.5" height="3.5" fill="#6a6a6a"/><rect x="306.4" y="346.5" width="3.5" height="3.5" fill="#6b6b6b"/><rect x="302.9" y="346.4" width="3.5" height="3.5" fill="#6d6d6d"/><rect x="304.1" y="346.4" width="3.5" height="3.5" fill="#6f6f6f"/><rect x="316.9" y="346.2" width="3.5" height="3.5" fill="#707070"/><rect x="314.6" y="346.0" width="3.5" height="3.5" fill="#626262"/><rect x="315.8" y="346.0" width="3.5" height="3.5" fill="#6c6c6c"/><rect x="319.6" y="345.9" width="3.5" height="3.5" fill="#616161"/><rect x="322.1" y="345.8" width="3.5" height="3.5" fill="#626262"/><rect x="304.1" y="345.8" width="3.5" height="3.5" fill="#646464"/><rect x="309.9" y="345.6" width="3.5" height="3.5" fill="#626262"/><rect x="316.9" y="345.4" width="3.5" height="3.5" fill="#626262"/><rect x="317.2" y="345.1" width="3.5" height="3.5" fill="#636363"/><rect x="318.6" y="345.1" width="3.5" height="3.5" fill="#6d6d6d"/><rect x="307.6" y="345.1" width="3.5" height="3.5" fill="#6c6c6c"/><rect x="315.8" y="345.0" width="3.5" height="3.5" fill="#676767"/><rect x="302.9" y="344.9" width="3.5" height="3.5" fill="#686868"/><rect x="314.6" y="344.8" width="3.5" height="3.5" fill="#6b6b6b"/><rect x="315.8" y="344.6" width="3.5" height="3.5" fill="#696969"/><rect x="305.2" y="344.6" width="3.5" height="3.5" fill="#606060"/><rect x="302.9" y="344.4" width="3.5" height="3.5" fill="#666666"/><rect x="313.4" y="344.4" width="3.5" height="3.5" fill="#626262"/><rect x="317.6" y="343.9" width="3.5" height="3.5" fill="#666666"/><rect x="304.1" y="343.8" width="3.5" height="3.5" fill="#6e6e6e"/><rect x="317.4" y="343.5" width="3.5" height="3.5" fill="#616161"/><rect x="311.1" y="343.2" width="3.5" height="3.5" fill="#636363"/><rect x="314.6" y="342.8" width="3.5" height="3.5" fill="#676767"/><rect x="305.2" y="342.8" width="3.5" height="3.5" fill="#686868"/><rect x="305.2" y="342.8" width="3.5" height="3.5" fill="#626262"/><rect x="315.8" y="342.5" width="3.5" height="3.5" fill="#646464"/><rect x="304.1" y="342.3" width="3.5" height="3.5" fill="#656565"/><rect x="305.2" y="342.2" width="3.5" height="3.5" fill="#6c6c6c"/><rect x="313.4" y="342.1" width="3.5" height="3.5" fill="#5e5e5e"/><rect x="305.2" y="342.1" width="3.5" height="3.5" fill="#6b6b6b"/><rect x="311.1" y="342.0" width="3.5" height="3.5" fill="#666666"/><rect x="306.4" y="341.9" width="3.5" height="3.5" fill="#6b6b6b"/><rect x="305.2" y="341.9" width="3.5" height="3.5" fill="#636363"/><rect x="306.4" y="341.8" width="3.5" height="3.5" fill="#676767"/><rect x="307.6" y="341.7" width="3.5" height="3.5" fill="#5d5d5d"/><rect x="305.2" y="341.5" width="3.5" height="3.5" fill="#606060"/><rect x="302.9" y="341.5" width="3.5" height="3.5" fill="#676767"/><rect x="308.7" y="341.4" width="3.5" height="3.5" fill="#626262"/><rect x="304.1" y="341.4" width="3.5" height="3.5" fill="#656565"/><rect x="306.4" y="341.3" width="3.5" height="3.5" fill="#6c6c6c"/><rect x="302.9" y="341.2" width="3.5" height="3.5" fill="#656565"/><rect x="306.4" y="341.2" width="3.5" height="3.5" fill="#676767"/><rect x="311.1" y="341.2" width="3.5" height="3.5" fill="#656565"/><rect x="313.4" y="341.1" width="3.5" height="3.5" fill="#606060"/><rect x="302.9" y="341.1" width="3.5" height="3.5" fill="#6c6c6c"/><rect x="302.9" y="341.0" width="3.5" height="3.5" fill="#626262"/><rect x="302.9" y="340.9" width="3.5" height="3.5" fill="#5c5c5c"/><rect x="302.9" y="340.4" width="3.5" height="3.5" fill="#626262"/><rect x="312.2" y="339.8" width="3.5" height="3.5" fill="#626262"/><rect x="306.4" y="339.8" width="3.5" height="3.5" fill="#5e5e5e"/><rect x="302.9" y="339.5" width="3.5" height="3.5" fill="#626262"/><rect x="308.7" y="339.5" width="3.5" height="3.5" fill="#5c5c5c"/><rect x="302.9" y="339.3" width="3.5" height="3.5" fill="#6a6a6a"/><rect x="312.2" y="339.3" width="3.5" height="3.5" fill="#636363"/><rect x="305.2" y="339.3" width="3.5" height="3.5" fill="#5f5f5f"/><rect x="302.9" y="339.1" width="3.5" height="3.5" fill="#636363"/><rect x="306.4" y="339.0" width="3.5" height="3.5" fill="#646464"/><rect x="304.1" y="338.9" width="3.5" height="3.5" fill="#606060"/><rect x="302.9" y="338.6" width="3.5" height="3.5" fill="#676767"/><rect x="311.1" y="337.9" width="3.5" height="3.5" fill="#606060"/><rect x="306.4" y="337.3" width="3.5" height="3.5" fill="#676767"/><rect x="308.7" y="337.2" width="3.5" height="3.5" fill="#656565"/><rect x="302.9" y="337.2" width="3.5" height="3.5" fill="#646464"/><rect x="302.9" y="337.2" width="3.5" height="3.5" fill="#5b5b5b"/><rect x="305.2" y="336.7" width="3.5" height="3.5" fill="#636363"/><rect x="302.9" y="336.5" width="3.5" height="3.5" fill="#686868"/><rect x="302.9" y="336.5" width="3.5" height="3.5" fill="#656565"/><rect x="307.6" y="336.5" width="3.5" height="3.5" fill="#595959"/><rect x="305.2" y="336.3" width="3.5" height="3.5" fill="#5c5c5c"/><rect x="302.9" y="336.1" width="3.5" height="3.5" fill="#585858"/><rect x="307.6" y="335.9" width="3.5" height="3.5" fill="#626262"/><rect x="308.7" y="335.7" width="3.5" height="3.5" fill="#656565"/><rect x="306.4" y="335.7" width="3.5" height="3.5" fill="#626262"/><rect x="306.4" y="335.4" width="3.5" height="3.5" fill="#626262"/><rect x="309.9" y="335.2" width="3.5" height="3.5" fill="#5f5f5f"/><rect x="304.1" y="335.2" width="3.5" height="3.5" fill="#626262"/><rect x="302.9" y="335.2" width="3.5" height="3.5" fill="#5f5f5f"/><rect x="302.9" y="335.0" width="3.5" height="3.5" fill="#636363"/><rect x="309.9" y="334.9" width="3.5" height="3.5" fill="#595959"/><rect x="302.9" y="334.4" width="3.5" height="3.5" fill="#5d5d5d"/><rect x="306.4" y="334.3" width="3.5" height="3.5" fill="#606060"/><rect x="305.2" y="334.3" width="3.5" height="3.5" fill="#575757"/><rect x="306.4" y="334.0" width="3.5" height="3.5" fill="#5f5f5f"/><rect x="306.4" y="333.9" width="3.5" height="3.5" fill="#646464"/><rect x="304.1" y="333.7" width="3.5" height="3.5" fill="#575757"/><rect x="305.2" y="333.6" width="3.5" height="3.5" fill="#616161"/><rect x="304.1" y="333.5" width="3.5" height="3.5" fill="#616161"/><rect x="302.9" y="333.5" width="3.5" height="3.5" fill="#636363"/><rect x="307.6" y="333.4" width="3.5" height="3.5" fill="#646464"/><rect x="305.2" y="333.1" width="3.5" height="3.5" fill="#5f5f5f"/><rect x="308.7" y="333.0" width="3.5" height="3.5" fill="#5e5e5e"/><rect x="307.6" y="332.8" width="3.5" height="3.5" fill="#5c5c5c"/><rect x="308.7" y="332.6" width="3.5" height="3.5" fill="#5b5b5b"/><rect x="307.6" y="332.4" width="3.5" height="3.5" fill="#5d5d5d"/><rect x="302.9" y="332.3" width="3.5" height="3.5" fill="#595959"/><rect x="358.0" y="353.5" width="3.2" height="3.2" fill="#797979"/><rect x="363.4" y="356.2" width="3.2" height="3.2" fill="#7b7b7b"/><rect x="340.4" y="362.7" width="3.2" height="3.2" fill="#7e7e7e"/><rect x="347.2" y="364.3" width="3.2" height="3.2" fill="#7e7e7e"/><rect x="358.0" y="363.5" width="3.2" height="3.2" fill="#7e7e7e"/><rect x="359.3" y="367.6" width="3.2" height="3.2" fill="#808080"/><rect x="351.2" y="368.9" width="3.2" height="3.2" fill="#808080"/><rect x="358.0" y="375.7" width="3.2" height="3.2" fill="#848484"/><rect x="363.4" y="374.3" width="3.2" height="3.2" fill="#838383"/><rect x="375.5" y="374.9" width="3.2" height="3.2" fill="#838383"/><rect x="362.0" y="381.1" width="3.2" height="3.2" fill="#868686"/><rect x="375.5" y="382.5" width="3.2" height="3.2" fill="#878787"/><rect x="339.0" y="379.8" width="3.2" height="3.2" fill="#868686"/><rect x="337.7" y="382.5" width="3.2" height="3.2" fill="#878787"/><rect x="351.2" y="385.2" width="3.2" height="3.2" fill="#888888"/><rect x="360.7" y="382.5" width="3.2" height="3.2" fill="#878787"/><rect x="356.6" y="391.9" width="3.2" height="3.2" fill="#8b8b8b"/><rect x="345.8" y="390.6" width="3.2" height="3.2" fill="#8b8b8b"/><rect x="333.6" y="390.6" width="3.2" height="3.2" fill="#8b8b8b"/><rect x="341.8" y="393.3" width="3.2" height="3.2" fill="#8c8c8c"/><rect x="364.7" y="401.4" width="3.2" height="3.2" fill="#909090"/><rect x="375.5" y="409.5" width="3.2" height="3.2" fill="#939393"/><rect x="330.9" y="386.5" width="3.2" height="3.2" fill="#898989"/><rect x="335.0" y="396.0" width="3.2" height="3.2" fill="#8d8d8d"/><rect x="348.5" y="396.0" width="3.2" height="3.2" fill="#8d8d8d"/><rect x="353.9" y="389.2" width="3.2" height="3.2" fill="#8a8a8a"/><rect x="328.2" y="399.2" width="3.2" height="3.2" fill="#8f8f8f"/><rect x="330.9" y="393.3" width="3.2" height="3.2" fill="#8c8c8c"/><rect x="344.5" y="386.5" width="3.2" height="3.2" fill="#898989"/><rect x="352.6" y="379.8" width="3.2" height="3.2" fill="#868686"/><rect x="355.3" y="371.6" width="3.2" height="3.2" fill="#828282"/><rect x="339.8" y="363.3" width="3.4" height="3.4" fill="#808080"/><rect x="347.5" y="364.3" width="3.4" height="3.4" fill="#808080"/><rect x="350.8" y="367.6" width="3.4" height="3.4" fill="#828282"/><rect x="358.0" y="353.5" width="3.4" height="3.4" fill="#7b7b7b"/><rect x="363.3" y="356.6" width="3.4" height="3.4" fill="#7c7c7c"/><rect x="435.1" y="422.9" width="3.5" height="3.5" fill="#a3a3a3"/><rect x="428.8" y="426.6" width="3.5" height="3.5" fill="#a0a0a0"/><rect x="443.4" y="426.6" width="3.5" height="3.5" fill="#9f9f9f"/><rect x="450.6" y="428.1" width="3.5" height="3.5" fill="#a0a0a0"/><rect x="424.9" y="429.6" width="3.5" height="3.5" fill="#a2a2a2"/><rect x="449.9" y="431.4" width="3.5" height="3.5" fill="#a4a4a4"/><rect x="435.9" y="431.6" width="3.5" height="3.5" fill="#a3a3a3"/><rect x="441.4" y="432.1" width="3.5" height="3.5" fill="#a2a2a2"/><rect x="419.9" y="434.1" width="3.5" height="3.5" fill="#9c9c9c"/><rect x="434.4" y="434.8" width="3.5" height="3.5" fill="#9a9a9a"/><rect x="427.4" y="435.9" width="3.5" height="3.5" fill="#9b9b9b"/><rect x="425.9" y="437.9" width="3.5" height="3.5" fill="#9b9b9b"/><rect x="454.6" y="436.9" width="3.5" height="3.5" fill="#a0a0a0"/><rect x="429.4" y="440.1" width="3.5" height="3.5" fill="#9a9a9a"/><rect x="422.4" y="440.9" width="3.5" height="3.5" fill="#9f9f9f"/><rect x="426.6" y="442.6" width="3.5" height="3.5" fill="#a3a3a3"/><rect x="429.4" y="442.9" width="3.5" height="3.5" fill="#9f9f9f"/><rect x="437.2" y="442.2" width="3.5" height="3.5" fill="#a4a4a4"/><rect x="444.8" y="441.9" width="3.5" height="3.5" fill="#9e9e9e"/><rect x="454.1" y="441.6" width="3.5" height="3.5" fill="#9f9f9f"/><rect x="456.8" y="442.2" width="3.5" height="3.5" fill="#9d9d9d"/><rect x="416.4" y="442.6" width="3.5" height="3.5" fill="#9b9b9b"/><rect x="435.9" y="444.1" width="3.5" height="3.5" fill="#a0a0a0"/><rect x="462.6" y="445.1" width="3.5" height="3.5" fill="#9b9b9b"/><rect x="419.6" y="447.1" width="3.5" height="3.5" fill="#9b9b9b"/><rect x="421.8" y="447.1" width="3.5" height="3.5" fill="#9d9d9d"/><rect x="454.9" y="446.9" width="3.5" height="3.5" fill="#a2a2a2"/><rect x="453.4" y="449.8" width="3.5" height="3.5" fill="#a5a5a5"/><rect x="478.2" y="421.4" width="3.6" height="3.6" fill="#909090"/><rect x="302.1" y="270.1" width="3.7" height="3.7" fill="#202020"/><rect x="302.1" y="292.1" width="3.7" height="3.7" fill="#444444"/><rect x="308.8" y="295.1" width="3.7" height="3.7" fill="#383838"/><rect x="302.1" y="306.6" width="3.7" height="3.7" fill="#444444"/><rect x="304.5" y="307.8" width="3.7" height="3.7" fill="#4c4c4c"/><rect x="307.1" y="310.1" width="3.7" height="3.7" fill="#505050"/><rect x="307.1" y="317.1" width="3.7" height="3.7" fill="#555555"/><rect x="309.1" y="323.1" width="3.7" height="3.7" fill="#585858"/><rect x="303.1" y="314.1" width="3.7" height="3.7" fill="#505050"/><rect x="304.1" y="320.1" width="3.7" height="3.7" fill="#555555"/><rect x="306.1" y="327.1" width="3.7" height="3.7" fill="#585858"/><rect x="306.1" y="334.1" width="3.7" height="3.7" fill="#585858"/><rect x="307.1" y="338.1" width="3.7" height="3.7" fill="#5c5c5c"/><rect x="305.1" y="331.1" width="3.7" height="3.7" fill="#585858"/><rect x="302.6" y="310.1" width="3.7" height="3.7" fill="#505050"/><rect x="305.6" y="312.6" width="3.7" height="3.7" fill="#555555"/><rect x="307.6" y="314.1" width="3.7" height="3.7" fill="#585858"/><rect x="302.1" y="316.6" width="3.7" height="3.7" fill="#585858"/><rect x="305.6" y="318.1" width="3.7" height="3.7" fill="#5a5a5a"/><rect x="308.1" y="320.1" width="3.7" height="3.7" fill="#5c5c5c"/><rect x="303.1" y="325.1" width="3.7" height="3.7" fill="#5c5c5c"/><rect x="307.6" y="326.1" width="3.7" height="3.7" fill="#606060"/><rect x="304.6" y="329.1" width="3.7" height="3.7" fill="#606060"/><rect x="328.4" y="319.8" width="3.4" height="3.4" fill="#6a6a50" stroke="#f0c800" stroke-width="1.0"/><rect x="333.4" y="335.5" width="3.4" height="3.4" fill="#6a6a50" stroke="#f0c800" stroke-width="1.0"/><rect x="326.4" y="336.9" width="3.4" height="3.4" fill="#6a6a50" stroke="#f0c800" stroke-width="1.0"/><rect x="322.4" y="338.9" width="3.4" height="3.4" fill="#6a6a50" stroke="#f0c800" stroke-width="1.0"/><rect x="316.0" y="340.5" width="3.4" height="3.4" fill="#6a6a50" stroke="#f0c800" stroke-width="1.0"/><rect x="327.4" y="346.9" width="3.4" height="3.4" fill="#6a6a50" stroke="#f0c800" stroke-width="1.0"/><rect x="327.0" y="350.9" width="3.4" height="3.4" fill="#6a6a50" stroke="#f0c800" stroke-width="1.0"/><rect x="309.3" y="347.5" width="3.4" height="3.4" fill="#6a6a50" stroke="#f0c800" stroke-width="1.0"/><rect x="316.3" y="350.5" width="3.4" height="3.4" fill="#6a6a50" stroke="#f0c800" stroke-width="1.0"/><rect x="304.3" y="343.5" width="3.4" height="3.4" fill="#6a6a50" stroke="#f0c800" stroke-width="1.0"/><rect x="326.3" y="358.9" width="3.4" height="3.4" fill="#6a6a50" stroke="#f0c800" stroke-width="1.0"/><rect x="333.3" y="358.9" width="3.4" height="3.4" fill="#6a6a50" stroke="#f0c800" stroke-width="1.0"/><rect x="326.6" y="361.0" width="3.4" height="3.4" fill="#6a6a50" stroke="#f0c800" stroke-width="1.0"/><rect x="333.2" y="362.1" width="3.4" height="3.4" fill="#6a6a50" stroke="#f0c800" stroke-width="1.0"/><rect x="322.9" y="369.1" width="3.4" height="3.4" fill="#6a6a50" stroke="#f0c800" stroke-width="1.0"/><rect x="328.2" y="371.3" width="3.4" height="3.4" fill="#6a6a50" stroke="#f0c800" stroke-width="1.0"/><rect x="322.9" y="375.8" width="3.4" height="3.4" fill="#6a6a50" stroke="#f0c800" stroke-width="1.0"/><rect x="326.6" y="378.0" width="3.4" height="3.4" fill="#6a6a50" stroke="#f0c800" stroke-width="1.0"/><rect x="316.7" y="380.8" width="3.4" height="3.4" fill="none" stroke="#f0c800" stroke-width="1.25"/><rect x="333.2" y="413.8" width="3.4" height="3.4" fill="none" stroke="#f0c800" stroke-width="1.25"/><rect x="328.2" y="417.6" width="3.4" height="3.4" fill="none" stroke="#f0c800" stroke-width="1.25"/><rect x="327.1" y="422.0" width="3.4" height="3.4" fill="none" stroke="#f0c800" stroke-width="1.25"/><rect x="326.2" y="430.3" width="3.4" height="3.4" fill="none" stroke="#f0c800" stroke-width="1.25"/><rect x="301.1" y="417.1" width="3.4" height="3.4" fill="none" stroke="#f0c800" stroke-width="1.25"/><rect x="301.3" y="438.0" width="3.4" height="3.4" fill="none" stroke="#f0c800" stroke-width="1.25"/><rect x="301.5" y="355.3" width="3.4" height="3.4" fill="none" stroke="#f0c800" stroke-width="1.25"/><rect x="302.3" y="360.3" width="3.4" height="3.4" fill="none" stroke="#f0c800" stroke-width="1.25"/><rect x="301.7" y="367.3" width="3.4" height="3.4" fill="none" stroke="#f0c800" stroke-width="1.25"/><rect x="301.3" y="373.3" width="3.4" height="3.4" fill="none" stroke="#f0c800" stroke-width="1.25"/><rect x="301.3" y="380.3" width="3.4" height="3.4" fill="none" stroke="#f0c800" stroke-width="1.25"/><rect x="301.9" y="388.3" width="3.4" height="3.4" fill="none" stroke="#f0c800" stroke-width="1.25"/><rect x="301.9" y="393.3" width="3.4" height="3.4" fill="none" stroke="#f0c800" stroke-width="1.25"/><rect x="301.5" y="398.3" width="3.4" height="3.4" fill="none" stroke="#f0c800" stroke-width="1.25"/><rect x="309.1" y="361.3" width="3.4" height="3.4" fill="none" stroke="#f0c800" stroke-width="1.25"/><rect x="303.9" y="314.8" width="3.4" height="3.4" fill="none" stroke="#1c1cd8" stroke-width="1.25"/><rect x="302.3" y="318.3" width="3.4" height="3.4" fill="none" stroke="#1c1cd8" stroke-width="1.25"/><rect x="304.7" y="320.3" width="3.4" height="3.4" fill="none" stroke="#1c1cd8" stroke-width="1.25"/><rect x="302.7" y="323.3" width="3.4" height="3.4" fill="none" stroke="#1c1cd8" stroke-width="1.25"/><rect x="305.3" y="325.3" width="3.4" height="3.4" fill="none" stroke="#1c1cd8" stroke-width="1.25"/><rect x="303.9" y="328.3" width="3.4" height="3.4" fill="none" stroke="#1c1cd8" stroke-width="1.25"/><rect x="302.3" y="339.5" width="3.4" height="3.4" fill="none" stroke="#1c1cd8" stroke-width="1.25"/><rect x="304.3" y="347.3" width="3.4" height="3.4" fill="none" stroke="#1c1cd8" stroke-width="1.25"/><rect x="303.3" y="351.3" width="3.4" height="3.4" fill="none" stroke="#1c1cd8" stroke-width="1.25"/><rect x="304.3" y="354.3" width="3.4" height="3.4" fill="none" stroke="#1c1cd8" stroke-width="1.25"/><rect x="305.3" y="357.3" width="3.4" height="3.4" fill="none" stroke="#1c1cd8" stroke-width="1.25"/><rect x="302.8" y="358.3" width="3.4" height="3.4" fill="none" stroke="#1c1cd8" stroke-width="1.25"/><rect x="304.8" y="361.3" width="3.4" height="3.4" fill="none" stroke="#1c1cd8" stroke-width="1.25"/><rect x="302.1" y="364.3" width="3.4" height="3.4" fill="none" stroke="#1c1cd8" stroke-width="1.25"/><rect x="303.9" y="374.3" width="3.4" height="3.4" fill="none" stroke="#1c1cd8" stroke-width="1.25"/><rect x="303.5" y="379.3" width="3.4" height="3.4" fill="none" stroke="#1c1cd8" stroke-width="1.25"/><rect x="303.9" y="384.3" width="3.4" height="3.4" fill="none" stroke="#1c1cd8" stroke-width="1.25"/><rect x="303.5" y="406.3" width="3.4" height="3.4" fill="none" stroke="#1c1cd8" stroke-width="1.25"/><rect x="305.1" y="410.3" width="3.4" height="3.4" fill="none" stroke="#1c1cd8" stroke-width="1.25"/><rect x="303.3" y="414.3" width="3.4" height="3.4" fill="none" stroke="#1c1cd8" stroke-width="1.25"/><rect x="305.3" y="417.8" width="3.4" height="3.4" fill="none" stroke="#1c1cd8" stroke-width="1.25"/><rect x="303.7" y="421.3" width="3.4" height="3.4" fill="none" stroke="#1c1cd8" stroke-width="1.25"/><rect x="304.9" y="425.3" width="3.4" height="3.4" fill="none" stroke="#1c1cd8" stroke-width="1.25"/><rect x="303.3" y="429.3" width="3.4" height="3.4" fill="none" stroke="#1c1cd8" stroke-width="1.25"/><rect x="304.7" y="433.3" width="3.4" height="3.4" fill="none" stroke="#1c1cd8" stroke-width="1.25"/><rect x="297.6" y="266" width="15" height="66.4" fill="none" stroke="#f04848" stroke-width="1"/><rect x="396.5" y="351.2" width="15.6" height="27.2" fill="none" stroke="#f04848" stroke-width="1"/><rect x="485.8" y="375.2" width="15.8" height="27.4" fill="none" stroke="#f04848" stroke-width="1"/><rect x="400.7" y="355.5" width="3.0" height="3.0" fill="#900000" stroke="#e00000" stroke-width="1.0"/><rect x="400.7" y="373.2" width="3.0" height="3.0" fill="#900000" stroke="#e00000" stroke-width="1.0"/><rect x="488.0" y="381.6" width="3.2" height="3.2" fill="#888888"/><rect x="496.6" y="396.7" width="3.2" height="3.2" fill="#888888"/>
<rect x="528.4" y="265.30" width="23.4" height="9.79" fill="#0e0e0e"/>
<rect x="528.4" y="274.80" width="23.4" height="9.79" fill="#151515"/>
<rect x="528.4" y="284.29" width="23.4" height="9.79" fill="#1e1e1e"/>
<rect x="528.4" y="293.79" width="23.4" height="9.79" fill="#292929"/>
<rect x="528.4" y="303.28" width="23.4" height="9.79" fill="#333333"/>
<rect x="528.4" y="312.77" width="23.4" height="9.79" fill="#3e3e3e"/>
<rect x="528.4" y="322.27" width="23.4" height="9.79" fill="#4a4a4a"/>
<rect x="528.4" y="331.76" width="23.4" height="9.79" fill="#555555"/>
<rect x="528.4" y="341.26" width="23.4" height="9.79" fill="#616161"/>
<rect x="528.4" y="350.75" width="23.4" height="9.79" fill="#6d6d6d"/>
<rect x="528.4" y="360.25" width="23.4" height="9.79" fill="#7a7a7a"/>
<rect x="528.4" y="369.75" width="23.4" height="9.79" fill="#868686"/>
<rect x="528.4" y="379.24" width="23.4" height="9.79" fill="#939393"/>
<rect x="528.4" y="388.74" width="23.4" height="9.79" fill="#a0a0a0"/>
<rect x="528.4" y="398.23" width="23.4" height="9.79" fill="#adadad"/>
<rect x="528.4" y="407.73" width="23.4" height="9.79" fill="#bababa"/>
<rect x="528.4" y="417.22" width="23.4" height="9.79" fill="#c7c7c7"/>
<rect x="528.4" y="426.72" width="23.4" height="9.79" fill="#d4d4d4"/>
<rect x="528.4" y="436.21" width="23.4" height="9.79" fill="#e2e2e2"/>
<rect x="528.4" y="445.70" width="23.4" height="9.79" fill="#f0f0f0"/>
<text transform="translate(36.7 478.5) scale(0.8 1)" font-size="7.8" text-anchor="middle" fill="#222">0.0</text>
<text transform="translate(89.9 478.5) scale(0.8 1)" font-size="7.8" text-anchor="middle" fill="#222">0.1</text>
<text transform="translate(143.1 478.5) scale(0.8 1)" font-size="7.8" text-anchor="middle" fill="#222">0.2</text>
<text transform="translate(196.3 478.5) scale(0.8 1)" font-size="7.8" text-anchor="middle" fill="#222">0.3</text>
<text transform="translate(338.3 478.5) scale(0.8 1)" font-size="7.8" text-anchor="middle" fill="#222">0.02</text>
<text transform="translate(384.7 478.5) scale(0.8 1)" font-size="7.8" text-anchor="middle" fill="#222">0.04</text>
<text transform="translate(431.4 478.5) scale(0.8 1)" font-size="7.8" text-anchor="middle" fill="#222">0.06</text>
<text transform="translate(478.2 478.5) scale(0.8 1)" font-size="7.8" text-anchor="middle" fill="#222">0.08</text>
<text transform="translate(21.9 294.4) rotate(-90) scale(0.95 1)" font-size="7.8" text-anchor="middle" fill="#222">4</text>
<text transform="translate(21.9 345.2) rotate(-90) scale(0.95 1)" font-size="7.8" text-anchor="middle" fill="#222">3</text>
<text transform="translate(21.9 395.4) rotate(-90) scale(0.95 1)" font-size="7.8" text-anchor="middle" fill="#222">2</text>
<text transform="translate(21.9 445.2) rotate(-90) scale(0.95 1)" font-size="7.8" text-anchor="middle" fill="#222">1</text>
<text transform="translate(285.6 288.4) rotate(-90) scale(0.94 1)" font-size="7.8" text-anchor="middle" fill="#222">4.0</text>
<text transform="translate(285.6 318.6) rotate(-90) scale(0.94 1)" font-size="7.8" text-anchor="middle" fill="#222">3.5</text>
<text transform="translate(285.6 349.1) rotate(-90) scale(0.94 1)" font-size="7.8" text-anchor="middle" fill="#222">3.0</text>
<text transform="translate(285.6 379.3) rotate(-90) scale(0.94 1)" font-size="7.8" text-anchor="middle" fill="#222">2.5</text>
<text transform="translate(285.6 409.7) rotate(-90) scale(0.94 1)" font-size="7.8" text-anchor="middle" fill="#222">2.0</text>
<text transform="translate(285.6 440.0) rotate(-90) scale(0.94 1)" font-size="7.8" text-anchor="middle" fill="#222">1.5</text>
<text transform="translate(516.6 270.0) rotate(-90) scale(0.74 1)" font-size="9.2" text-anchor="middle" fill="#222">1.0</text>
<text transform="translate(516.6 307.2) rotate(-90) scale(0.74 1)" font-size="9.2" text-anchor="middle" fill="#222">0.8</text>
<text transform="translate(516.6 345.4) rotate(-90) scale(0.74 1)" font-size="9.2" text-anchor="middle" fill="#222">0.6</text>
<text transform="translate(516.6 383.4) rotate(-90) scale(0.74 1)" font-size="9.2" text-anchor="middle" fill="#222">0.4</text>
<text transform="translate(516.6 421.2) rotate(-90) scale(0.74 1)" font-size="9.2" text-anchor="middle" fill="#222">0.2</text>
<text transform="translate(516.6 459.2) rotate(-90) scale(0.74 1)" font-size="9.2" text-anchor="middle" fill="#222">0.0</text>
<text transform="translate(137.5 497.3) scale(0.85 1)" font-size="7.8" text-anchor="middle" fill="#222">support</text>
<text transform="translate(401.8 497.3) scale(0.85 1)" font-size="7.8" text-anchor="middle" fill="#222">support</text>
<text transform="translate(4.8 362.6) rotate(-90) scale(0.95 1)" font-size="7.8" text-anchor="middle" fill="#222">lift</text>
<text transform="translate(269.2 362.8) rotate(-90) scale(0.95 1)" font-size="7.8" text-anchor="middle" fill="#222">lift</text>
<g fill="#000" font-weight="bold" font-size="8.7" text-anchor="middle">
<text x="146.1" y="255.1" font-size="8.9">Promoter</text>
<text transform="translate(411.1 256.7) scale(1.04 1)" font-size="8.4">genebody</text>
</g>
<text transform="translate(241.2 272.2) scale(0.9 1)" font-size="7.4" text-anchor="end" fill="#222">rule length</text>
<rect x="220.6" y="276.29999999999995" width="2.6" height="3.2" fill="none" stroke="#f02020" stroke-width="1.1"/>
<text transform="translate(228.2 280.4) scale(0.9 1)" font-size="7.0" text-anchor="start" fill="#222">3</text>
<rect x="220.6" y="283.0" width="2.6" height="3.2" fill="none" stroke="#f0c800" stroke-width="1.1"/>
<text transform="translate(228.2 287.1) scale(0.9 1)" font-size="7.0" text-anchor="start" fill="#222">4</text>
<rect x="220.6" y="289.5" width="2.6" height="3.2" fill="none" stroke="#1c1cd8" stroke-width="1.1"/>
<text transform="translate(228.2 293.6) scale(0.9 1)" font-size="7.0" text-anchor="start" fill="#222">5</text>
<text transform="translate(505.6 272.2) scale(0.9 1)" font-size="7.4" text-anchor="end" fill="#222">rule length</text>
<rect x="484.09999999999997" y="276.29999999999995" width="2.6" height="3.2" fill="none" stroke="#f02020" stroke-width="1.1"/>
<text transform="translate(491.8 280.4) scale(0.9 1)" font-size="7.0" text-anchor="start" fill="#222">3</text>
<rect x="484.09999999999997" y="283.0" width="2.6" height="3.2" fill="none" stroke="#f0c800" stroke-width="1.1"/>
<text transform="translate(491.8 287.1) scale(0.9 1)" font-size="7.0" text-anchor="start" fill="#222">4</text>
<rect x="484.09999999999997" y="289.5" width="2.6" height="3.2" fill="none" stroke="#1c1cd8" stroke-width="1.1"/>
<text transform="translate(491.8 293.6) scale(0.9 1)" font-size="7.0" text-anchor="start" fill="#222">5</text>
<g font-family="'Liberation Serif', serif" font-size="8.5" fill="#111">
<text x="59.8" y="410.4">P155</text>
<text x="321.4" y="294.4">Top 20 lift</text>
<text x="393.8" y="345.8">G155</text>
<text x="448.2" y="370.4">Top 5 support</text>
</g>
<text transform="translate(512.4 482.4) scale(1.5 0.9)" font-size="7.4" fill="#111">confidence</text>
</svg></body></html>
